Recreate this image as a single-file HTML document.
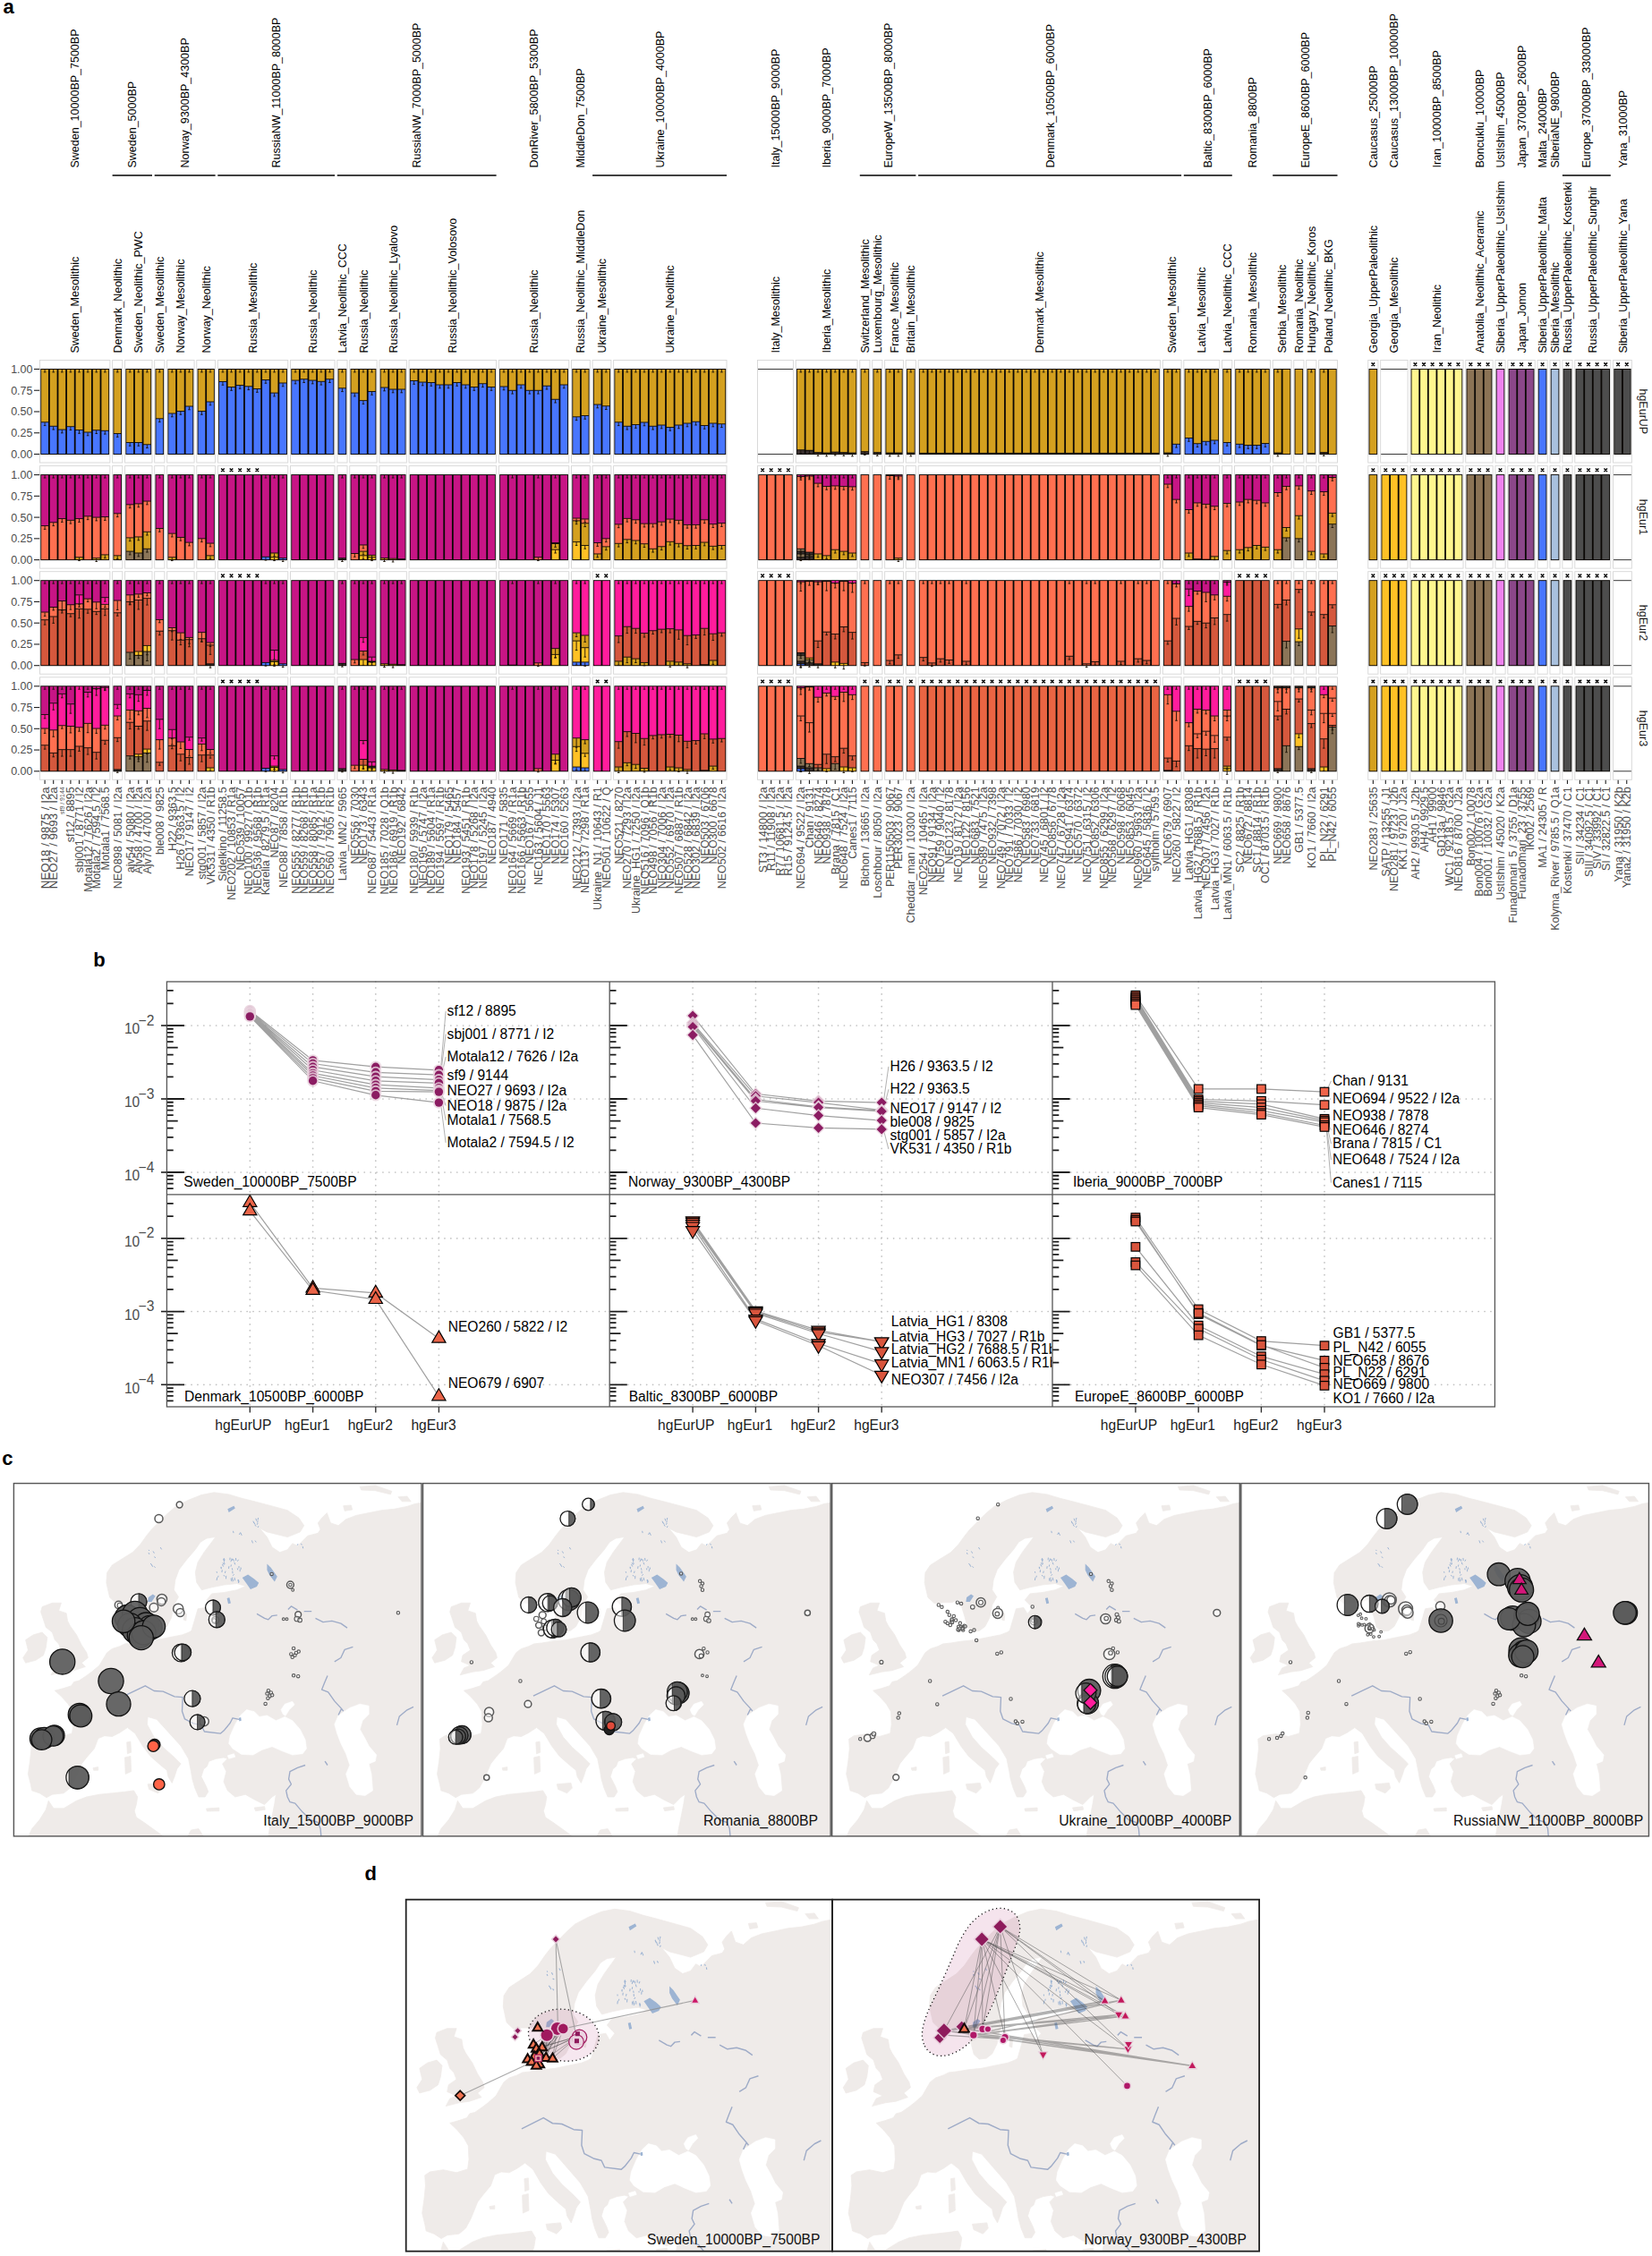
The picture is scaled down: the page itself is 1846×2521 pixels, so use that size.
<!DOCTYPE html>
<html><head><meta charset="utf-8"><title>Figure</title>
<style>html,body{margin:0;padding:0;background:#fff}svg{display:block}</style>
</head><body>
<svg width="1846" height="2521" viewBox="0 0 1846 2521">
<rect width="1846" height="2521" fill="#fff"/>
<g font-family="Liberation Sans, Arial, Helvetica, sans-serif" font-size="12.5" fill="#000">
<text transform="translate(83.7,187.5) rotate(-90)" dy="0.36em">Sweden_10000BP_7500BP</text>
<text transform="translate(147.8,187.5) rotate(-90)" dy="0.36em">Sweden_5000BP</text>
<line x1="125.6" y1="196" x2="170.0" y2="196" stroke="#000" stroke-width="1.6"/>
<text transform="translate(206.7,187.5) rotate(-90)" dy="0.36em">Norway_9300BP_4300BP</text>
<line x1="172.7" y1="196" x2="240.6" y2="196" stroke="#000" stroke-width="1.6"/>
<text transform="translate(308.7,187.5) rotate(-90)" dy="0.36em">RussiaNW_11000BP_8000BP</text>
<line x1="243.3" y1="196" x2="374.1" y2="196" stroke="#000" stroke-width="1.6"/>
<text transform="translate(465.7,187.5) rotate(-90)" dy="0.36em">RussiaNW_7000BP_5000BP</text>
<line x1="376.8" y1="196" x2="554.6" y2="196" stroke="#000" stroke-width="1.6"/>
<text transform="translate(596.6,187.5) rotate(-90)" dy="0.36em">DonRiver_5800BP_5300BP</text>
<text transform="translate(648.9,187.5) rotate(-90)" dy="0.36em">MiddleDon_7500BP</text>
<text transform="translate(737.0,187.5) rotate(-90)" dy="0.36em">Ukraine_10000BP_4000BP</text>
<line x1="662.1" y1="196" x2="812.0" y2="196" stroke="#000" stroke-width="1.6"/>
<text transform="translate(866.5,187.5) rotate(-90)" dy="0.36em">Italy_15000BP_9000BP</text>
<text transform="translate(923.6,187.5) rotate(-90)" dy="0.36em">Iberia_9000BP_7000BP</text>
<text transform="translate(992.1,187.5) rotate(-90)" dy="0.36em">EuropeW_13500BP_8000BP</text>
<line x1="960.8" y1="196" x2="1023.4" y2="196" stroke="#000" stroke-width="1.6"/>
<text transform="translate(1173.1,187.5) rotate(-90)" dy="0.36em">Denmark_10500BP_6000BP</text>
<line x1="1026.1" y1="196" x2="1320.1" y2="196" stroke="#000" stroke-width="1.6"/>
<text transform="translate(1349.8,187.5) rotate(-90)" dy="0.36em">Baltic_8300BP_6000BP</text>
<line x1="1322.8" y1="196" x2="1376.8" y2="196" stroke="#000" stroke-width="1.6"/>
<text transform="translate(1399.5,187.5) rotate(-90)" dy="0.36em">Romania_8800BP</text>
<text transform="translate(1458.4,187.5) rotate(-90)" dy="0.36em">EuropeE_8600BP_6000BP</text>
<line x1="1422.2" y1="196" x2="1494.5" y2="196" stroke="#000" stroke-width="1.6"/>
<text transform="translate(1534.3,187.5) rotate(-90)" dy="0.36em">Caucasus_25000BP</text>
<text transform="translate(1557.9,187.5) rotate(-90)" dy="0.36em">Caucasus_13000BP_10000BP</text>
<text transform="translate(1605.4,187.5) rotate(-90)" dy="0.36em">Iran_10000BP_8500BP</text>
<text transform="translate(1653.0,187.5) rotate(-90)" dy="0.36em">Boncuklu_10000BP</text>
<text transform="translate(1676.5,187.5) rotate(-90)" dy="0.36em">UstIshim_45000BP</text>
<text transform="translate(1700.1,187.5) rotate(-90)" dy="0.36em">Japan_3700BP_2600BP</text>
<text transform="translate(1723.6,187.5) rotate(-90)" dy="0.36em">Malta_24000BP</text>
<text transform="translate(1737.5,187.5) rotate(-90)" dy="0.36em">SiberiaNE_9800BP</text>
<text transform="translate(1772.8,187.5) rotate(-90)" dy="0.36em">Europe_37000BP_33000BP</text>
<line x1="1745.9" y1="196" x2="1799.8" y2="196" stroke="#000" stroke-width="1.6"/>
<text transform="translate(1813.0,187.5) rotate(-90)" dy="0.36em">Yana_31000BP</text>
<text transform="translate(83.7,394.5) rotate(-90)" dy="0.36em">Sweden_Mesolithic</text>
<text transform="translate(131.2,394.5) rotate(-90)" dy="0.36em">Denmark_Neolithic</text>
<text transform="translate(154.8,394.5) rotate(-90)" dy="0.36em">Sweden_Neolithic_PWC</text>
<text transform="translate(178.3,394.5) rotate(-90)" dy="0.36em">Sweden_Mesolithic</text>
<text transform="translate(201.9,394.5) rotate(-90)" dy="0.36em">Norway_Mesolithic</text>
<text transform="translate(230.2,394.5) rotate(-90)" dy="0.36em">Norway_Neolithic</text>
<text transform="translate(282.5,394.5) rotate(-90)" dy="0.36em">Russia_Mesolithic</text>
<text transform="translate(349.3,394.5) rotate(-90)" dy="0.36em">Russia_Neolithic</text>
<text transform="translate(382.4,394.5) rotate(-90)" dy="0.36em">Latvia_Neolithic_CCC</text>
<text transform="translate(406.0,394.5) rotate(-90)" dy="0.36em">Russia_Neolithic</text>
<text transform="translate(439.1,394.5) rotate(-90)" dy="0.36em">Russia_Neolithic_Lyalovo</text>
<text transform="translate(505.8,394.5) rotate(-90)" dy="0.36em">Russia_Neolithic_Volosovo</text>
<text transform="translate(596.6,394.5) rotate(-90)" dy="0.36em">Russia_Neolithic</text>
<text transform="translate(648.9,394.5) rotate(-90)" dy="0.36em">Russia_Neolithic_MiddleDon</text>
<text transform="translate(672.5,394.5) rotate(-90)" dy="0.36em">Ukraine_Mesolithic</text>
<text transform="translate(748.8,394.5) rotate(-90)" dy="0.36em">Ukraine_Neolithic</text>
<text transform="translate(866.5,394.5) rotate(-90)" dy="0.36em">Italy_Mesolithic</text>
<text transform="translate(923.6,394.5) rotate(-90)" dy="0.36em">Iberia_Mesolithic</text>
<text transform="translate(966.4,394.5) rotate(-90)" dy="0.36em">Switzerland_Mesolithic</text>
<text transform="translate(980.3,394.5) rotate(-90)" dy="0.36em">Luxembourg_Mesolithic</text>
<text transform="translate(999.1,394.5) rotate(-90)" dy="0.36em">France_Mesolithic</text>
<text transform="translate(1017.8,394.5) rotate(-90)" dy="0.36em">Britain_Mesolithic</text>
<text transform="translate(1161.3,394.5) rotate(-90)" dy="0.36em">Denmark_Mesolithic</text>
<text transform="translate(1309.7,394.5) rotate(-90)" dy="0.36em">Sweden_Mesolithic</text>
<text transform="translate(1342.8,394.5) rotate(-90)" dy="0.36em">Latvia_Mesolithic</text>
<text transform="translate(1371.2,394.5) rotate(-90)" dy="0.36em">Latvia_Neolithic_CCC</text>
<text transform="translate(1399.5,394.5) rotate(-90)" dy="0.36em">Romania_Mesolithic</text>
<text transform="translate(1432.6,394.5) rotate(-90)" dy="0.36em">Serbia_Mesolithic</text>
<text transform="translate(1451.4,394.5) rotate(-90)" dy="0.36em">Romania_Neolithic</text>
<text transform="translate(1465.3,394.5) rotate(-90)" dy="0.36em">Hungary_Neolithic_Koros</text>
<text transform="translate(1484.1,394.5) rotate(-90)" dy="0.36em">Poland_Neolithic_BKG</text>
<text transform="translate(1534.3,394.5) rotate(-90)" dy="0.36em">Georgia_UpperPaleolithic</text>
<text transform="translate(1557.9,394.5) rotate(-90)" dy="0.36em">Georgia_Mesolithic</text>
<text transform="translate(1605.4,394.5) rotate(-90)" dy="0.36em">Iran_Neolithic</text>
<text transform="translate(1653.0,394.5) rotate(-90)" dy="0.36em">Anatolia_Neolithic_Aceramic</text>
<text transform="translate(1676.5,394.5) rotate(-90)" dy="0.36em">Siberia_UpperPaleolithic_UstIshim</text>
<text transform="translate(1700.1,394.5) rotate(-90)" dy="0.36em">Japan_Jomon</text>
<text transform="translate(1723.6,394.5) rotate(-90)" dy="0.36em">Siberia_UpperPaleolithic_Malta</text>
<text transform="translate(1737.5,394.5) rotate(-90)" dy="0.36em">Siberia_Mesolithic</text>
<text transform="translate(1751.5,394.5) rotate(-90)" dy="0.36em">Russia_UpperPaleolithic_Kostenki</text>
<text transform="translate(1779.8,394.5) rotate(-90)" dy="0.36em">Russia_UpperPaleolithic_Sunghir</text>
<text transform="translate(1813.0,394.5) rotate(-90)" dy="0.36em">Siberia_UpperPaleolithic_Yana</text>
</g>
<g>
<rect x="44.50" y="402.50" width="78.40" height="114.50" fill="#fff" stroke="#d6d6d6" stroke-width="0.9"/>
<rect x="125.64" y="402.50" width="11.20" height="114.50" fill="#fff" stroke="#d6d6d6" stroke-width="0.9"/>
<rect x="139.58" y="402.50" width="30.40" height="114.50" fill="#fff" stroke="#d6d6d6" stroke-width="0.9"/>
<rect x="172.72" y="402.50" width="11.20" height="114.50" fill="#fff" stroke="#d6d6d6" stroke-width="0.9"/>
<rect x="186.66" y="402.50" width="30.40" height="114.50" fill="#fff" stroke="#d6d6d6" stroke-width="0.9"/>
<rect x="219.80" y="402.50" width="20.80" height="114.50" fill="#fff" stroke="#d6d6d6" stroke-width="0.9"/>
<rect x="243.34" y="402.50" width="78.40" height="114.50" fill="#fff" stroke="#d6d6d6" stroke-width="0.9"/>
<rect x="324.48" y="402.50" width="49.60" height="114.50" fill="#fff" stroke="#d6d6d6" stroke-width="0.9"/>
<rect x="376.82" y="402.50" width="11.20" height="114.50" fill="#fff" stroke="#d6d6d6" stroke-width="0.9"/>
<rect x="390.76" y="402.50" width="30.40" height="114.50" fill="#fff" stroke="#d6d6d6" stroke-width="0.9"/>
<rect x="423.90" y="402.50" width="30.40" height="114.50" fill="#fff" stroke="#d6d6d6" stroke-width="0.9"/>
<rect x="457.04" y="402.50" width="97.60" height="114.50" fill="#fff" stroke="#d6d6d6" stroke-width="0.9"/>
<rect x="557.38" y="402.50" width="78.40" height="114.50" fill="#fff" stroke="#d6d6d6" stroke-width="0.9"/>
<rect x="638.52" y="402.50" width="20.80" height="114.50" fill="#fff" stroke="#d6d6d6" stroke-width="0.9"/>
<rect x="662.06" y="402.50" width="20.80" height="114.50" fill="#fff" stroke="#d6d6d6" stroke-width="0.9"/>
<rect x="685.60" y="402.50" width="126.40" height="114.50" fill="#fff" stroke="#d6d6d6" stroke-width="0.9"/>
<rect x="846.50" y="402.50" width="40.00" height="114.50" fill="#fff" stroke="#d6d6d6" stroke-width="0.9"/>
<rect x="889.24" y="402.50" width="68.80" height="114.50" fill="#fff" stroke="#d6d6d6" stroke-width="0.9"/>
<rect x="960.78" y="402.50" width="11.20" height="114.50" fill="#fff" stroke="#d6d6d6" stroke-width="0.9"/>
<rect x="974.72" y="402.50" width="11.20" height="114.50" fill="#fff" stroke="#d6d6d6" stroke-width="0.9"/>
<rect x="988.66" y="402.50" width="20.80" height="114.50" fill="#fff" stroke="#d6d6d6" stroke-width="0.9"/>
<rect x="1012.20" y="402.50" width="11.20" height="114.50" fill="#fff" stroke="#d6d6d6" stroke-width="0.9"/>
<rect x="1026.14" y="402.50" width="270.40" height="114.50" fill="#fff" stroke="#d6d6d6" stroke-width="0.9"/>
<rect x="1299.28" y="402.50" width="20.80" height="114.50" fill="#fff" stroke="#d6d6d6" stroke-width="0.9"/>
<rect x="1322.82" y="402.50" width="40.00" height="114.50" fill="#fff" stroke="#d6d6d6" stroke-width="0.9"/>
<rect x="1365.56" y="402.50" width="11.20" height="114.50" fill="#fff" stroke="#d6d6d6" stroke-width="0.9"/>
<rect x="1379.50" y="402.50" width="40.00" height="114.50" fill="#fff" stroke="#d6d6d6" stroke-width="0.9"/>
<rect x="1422.24" y="402.50" width="20.80" height="114.50" fill="#fff" stroke="#d6d6d6" stroke-width="0.9"/>
<rect x="1445.78" y="402.50" width="11.20" height="114.50" fill="#fff" stroke="#d6d6d6" stroke-width="0.9"/>
<rect x="1459.72" y="402.50" width="11.20" height="114.50" fill="#fff" stroke="#d6d6d6" stroke-width="0.9"/>
<rect x="1473.66" y="402.50" width="20.80" height="114.50" fill="#fff" stroke="#d6d6d6" stroke-width="0.9"/>
<rect x="1528.75" y="402.50" width="11.20" height="114.50" fill="#fff" stroke="#d6d6d6" stroke-width="0.9"/>
<rect x="1542.69" y="402.50" width="30.40" height="114.50" fill="#fff" stroke="#d6d6d6" stroke-width="0.9"/>
<rect x="1575.83" y="402.50" width="59.20" height="114.50" fill="#fff" stroke="#d6d6d6" stroke-width="0.9"/>
<rect x="1637.77" y="402.50" width="30.40" height="114.50" fill="#fff" stroke="#d6d6d6" stroke-width="0.9"/>
<rect x="1670.91" y="402.50" width="11.20" height="114.50" fill="#fff" stroke="#d6d6d6" stroke-width="0.9"/>
<rect x="1684.85" y="402.50" width="30.40" height="114.50" fill="#fff" stroke="#d6d6d6" stroke-width="0.9"/>
<rect x="1717.99" y="402.50" width="11.20" height="114.50" fill="#fff" stroke="#d6d6d6" stroke-width="0.9"/>
<rect x="1731.93" y="402.50" width="11.20" height="114.50" fill="#fff" stroke="#d6d6d6" stroke-width="0.9"/>
<rect x="1745.87" y="402.50" width="11.20" height="114.50" fill="#fff" stroke="#d6d6d6" stroke-width="0.9"/>
<rect x="1759.81" y="402.50" width="40.00" height="114.50" fill="#fff" stroke="#d6d6d6" stroke-width="0.9"/>
<rect x="1802.55" y="402.50" width="20.80" height="114.50" fill="#fff" stroke="#d6d6d6" stroke-width="0.9"/>
</g>
<g shape-rendering="auto">
<rect x="45.30" y="412.00" width="76.80" height="96.00" fill="#0b0805"/>
<rect x="46.20" y="472.23" width="7.80" height="34.82" fill="#4876FF"/>
<rect x="46.20" y="412.95" width="7.80" height="58.38" fill="#D4A01F"/>
<rect x="55.80" y="476.69" width="7.80" height="30.35" fill="#4876FF"/>
<rect x="55.80" y="412.95" width="7.80" height="62.85" fill="#D4A01F"/>
<rect x="65.40" y="480.50" width="7.80" height="26.55" fill="#4876FF"/>
<rect x="65.40" y="412.95" width="7.80" height="66.65" fill="#D4A01F"/>
<rect x="75.00" y="477.17" width="7.80" height="29.88" fill="#4876FF"/>
<rect x="75.00" y="412.95" width="7.80" height="63.32" fill="#D4A01F"/>
<rect x="84.60" y="480.97" width="7.80" height="26.08" fill="#4876FF"/>
<rect x="84.60" y="412.95" width="7.80" height="67.12" fill="#D4A01F"/>
<rect x="94.20" y="483.44" width="7.80" height="23.61" fill="#4876FF"/>
<rect x="94.20" y="412.95" width="7.80" height="69.59" fill="#D4A01F"/>
<rect x="103.80" y="481.16" width="7.80" height="25.89" fill="#4876FF"/>
<rect x="103.80" y="412.95" width="7.80" height="67.31" fill="#D4A01F"/>
<rect x="113.40" y="481.73" width="7.80" height="25.32" fill="#4876FF"/>
<rect x="113.40" y="412.95" width="7.80" height="67.88" fill="#D4A01F"/>
<rect x="126.44" y="412.00" width="9.60" height="96.00" fill="#0b0805"/>
<rect x="127.34" y="484.96" width="7.80" height="22.09" fill="#4876FF"/>
<rect x="127.34" y="412.95" width="7.80" height="71.11" fill="#D4A01F"/>
<rect x="140.38" y="412.00" width="28.80" height="96.00" fill="#0b0805"/>
<rect x="141.28" y="494.94" width="7.80" height="12.11" fill="#4876FF"/>
<rect x="141.28" y="412.95" width="7.80" height="81.09" fill="#D4A01F"/>
<rect x="150.88" y="494.94" width="7.80" height="12.11" fill="#4876FF"/>
<rect x="150.88" y="412.95" width="7.80" height="81.09" fill="#D4A01F"/>
<rect x="160.48" y="497.21" width="7.80" height="9.84" fill="#4876FF"/>
<rect x="160.48" y="412.95" width="7.80" height="83.36" fill="#D4A01F"/>
<rect x="173.52" y="412.00" width="9.60" height="96.00" fill="#0b0805"/>
<rect x="174.42" y="468.24" width="7.80" height="38.81" fill="#4876FF"/>
<rect x="174.42" y="412.95" width="7.80" height="54.39" fill="#D4A01F"/>
<rect x="187.46" y="412.00" width="28.80" height="96.00" fill="#0b0805"/>
<rect x="188.36" y="462.44" width="7.80" height="44.60" fill="#4876FF"/>
<rect x="188.36" y="412.95" width="7.80" height="48.60" fill="#D4A01F"/>
<rect x="197.96" y="459.97" width="7.80" height="47.08" fill="#4876FF"/>
<rect x="197.96" y="412.95" width="7.80" height="46.12" fill="#D4A01F"/>
<rect x="207.56" y="454.46" width="7.80" height="52.59" fill="#4876FF"/>
<rect x="207.56" y="412.95" width="7.80" height="40.61" fill="#D4A01F"/>
<rect x="220.60" y="412.00" width="19.20" height="96.00" fill="#0b0805"/>
<rect x="221.50" y="459.97" width="7.80" height="47.08" fill="#4876FF"/>
<rect x="221.50" y="412.95" width="7.80" height="46.12" fill="#D4A01F"/>
<rect x="231.10" y="449.43" width="7.80" height="57.62" fill="#4876FF"/>
<rect x="231.10" y="412.95" width="7.80" height="35.58" fill="#D4A01F"/>
<rect x="244.14" y="412.00" width="76.80" height="96.00" fill="#0b0805"/>
<rect x="245.04" y="426.91" width="7.80" height="80.14" fill="#4876FF"/>
<rect x="245.04" y="412.95" width="7.80" height="13.06" fill="#D4A01F"/>
<rect x="254.64" y="433.00" width="7.80" height="74.05" fill="#4876FF"/>
<rect x="254.64" y="412.95" width="7.80" height="19.15" fill="#D4A01F"/>
<rect x="264.24" y="431.00" width="7.80" height="76.05" fill="#4876FF"/>
<rect x="264.24" y="412.95" width="7.80" height="17.15" fill="#D4A01F"/>
<rect x="273.84" y="432.23" width="7.80" height="74.82" fill="#4876FF"/>
<rect x="273.84" y="412.95" width="7.80" height="18.38" fill="#D4A01F"/>
<rect x="283.44" y="434.99" width="7.80" height="72.06" fill="#4876FF"/>
<rect x="283.44" y="412.95" width="7.80" height="21.14" fill="#D4A01F"/>
<rect x="293.04" y="424.92" width="7.80" height="82.13" fill="#4876FF"/>
<rect x="293.04" y="412.95" width="7.80" height="11.07" fill="#D4A01F"/>
<rect x="302.64" y="439.55" width="7.80" height="67.50" fill="#4876FF"/>
<rect x="302.64" y="412.95" width="7.80" height="25.70" fill="#D4A01F"/>
<rect x="312.24" y="428.44" width="7.80" height="78.61" fill="#4876FF"/>
<rect x="312.24" y="412.95" width="7.80" height="14.59" fill="#D4A01F"/>
<rect x="325.28" y="412.00" width="48.00" height="96.00" fill="#0b0805"/>
<rect x="326.18" y="425.49" width="7.80" height="81.56" fill="#4876FF"/>
<rect x="326.18" y="412.95" width="7.80" height="11.64" fill="#D4A01F"/>
<rect x="335.78" y="424.16" width="7.80" height="82.89" fill="#4876FF"/>
<rect x="335.78" y="412.95" width="7.80" height="10.31" fill="#D4A01F"/>
<rect x="345.38" y="425.49" width="7.80" height="81.56" fill="#4876FF"/>
<rect x="345.38" y="412.95" width="7.80" height="11.64" fill="#D4A01F"/>
<rect x="354.98" y="426.72" width="7.80" height="80.33" fill="#4876FF"/>
<rect x="354.98" y="412.95" width="7.80" height="12.87" fill="#D4A01F"/>
<rect x="364.58" y="424.16" width="7.80" height="82.89" fill="#4876FF"/>
<rect x="364.58" y="412.95" width="7.80" height="10.31" fill="#D4A01F"/>
<rect x="377.62" y="412.00" width="9.60" height="96.00" fill="#0b0805"/>
<rect x="378.52" y="434.23" width="7.80" height="72.82" fill="#4876FF"/>
<rect x="378.52" y="412.95" width="7.80" height="20.38" fill="#D4A01F"/>
<rect x="391.56" y="412.00" width="28.80" height="96.00" fill="#0b0805"/>
<rect x="392.46" y="439.55" width="7.80" height="67.50" fill="#4876FF"/>
<rect x="392.46" y="412.95" width="7.80" height="25.70" fill="#D4A01F"/>
<rect x="402.06" y="448.10" width="7.80" height="58.95" fill="#4876FF"/>
<rect x="402.06" y="412.95" width="7.80" height="34.25" fill="#D4A01F"/>
<rect x="411.66" y="437.94" width="7.80" height="69.11" fill="#4876FF"/>
<rect x="411.66" y="412.95" width="7.80" height="24.09" fill="#D4A01F"/>
<rect x="424.70" y="412.00" width="28.80" height="96.00" fill="#0b0805"/>
<rect x="425.60" y="433.47" width="7.80" height="73.58" fill="#4876FF"/>
<rect x="425.60" y="412.95" width="7.80" height="19.62" fill="#D4A01F"/>
<rect x="435.20" y="435.46" width="7.80" height="71.59" fill="#4876FF"/>
<rect x="435.20" y="412.95" width="7.80" height="21.61" fill="#D4A01F"/>
<rect x="444.80" y="435.46" width="7.80" height="71.59" fill="#4876FF"/>
<rect x="444.80" y="412.95" width="7.80" height="21.61" fill="#D4A01F"/>
<rect x="457.84" y="412.00" width="96.00" height="96.00" fill="#0b0805"/>
<rect x="458.74" y="425.96" width="7.80" height="81.09" fill="#4876FF"/>
<rect x="458.74" y="412.95" width="7.80" height="12.11" fill="#D4A01F"/>
<rect x="468.34" y="427.49" width="7.80" height="79.56" fill="#4876FF"/>
<rect x="468.34" y="412.95" width="7.80" height="13.64" fill="#D4A01F"/>
<rect x="477.94" y="427.96" width="7.80" height="79.09" fill="#4876FF"/>
<rect x="477.94" y="412.95" width="7.80" height="14.11" fill="#D4A01F"/>
<rect x="487.54" y="430.43" width="7.80" height="76.62" fill="#4876FF"/>
<rect x="487.54" y="412.95" width="7.80" height="16.58" fill="#D4A01F"/>
<rect x="497.14" y="430.43" width="7.80" height="76.62" fill="#4876FF"/>
<rect x="497.14" y="412.95" width="7.80" height="16.58" fill="#D4A01F"/>
<rect x="506.74" y="427.96" width="7.80" height="79.09" fill="#4876FF"/>
<rect x="506.74" y="412.95" width="7.80" height="14.11" fill="#D4A01F"/>
<rect x="516.34" y="430.43" width="7.80" height="76.62" fill="#4876FF"/>
<rect x="516.34" y="412.95" width="7.80" height="16.58" fill="#D4A01F"/>
<rect x="525.94" y="433.00" width="7.80" height="74.05" fill="#4876FF"/>
<rect x="525.94" y="412.95" width="7.80" height="19.15" fill="#D4A01F"/>
<rect x="535.54" y="429.19" width="7.80" height="77.85" fill="#4876FF"/>
<rect x="535.54" y="412.95" width="7.80" height="15.35" fill="#D4A01F"/>
<rect x="545.14" y="433.00" width="7.80" height="74.05" fill="#4876FF"/>
<rect x="545.14" y="412.95" width="7.80" height="19.15" fill="#D4A01F"/>
<rect x="558.18" y="412.00" width="76.80" height="96.00" fill="#0b0805"/>
<rect x="559.08" y="432.43" width="7.80" height="74.62" fill="#4876FF"/>
<rect x="559.08" y="412.95" width="7.80" height="18.58" fill="#D4A01F"/>
<rect x="568.68" y="436.70" width="7.80" height="70.35" fill="#4876FF"/>
<rect x="568.68" y="412.95" width="7.80" height="22.85" fill="#D4A01F"/>
<rect x="578.28" y="430.43" width="7.80" height="76.62" fill="#4876FF"/>
<rect x="578.28" y="412.95" width="7.80" height="16.58" fill="#D4A01F"/>
<rect x="587.88" y="436.70" width="7.80" height="70.35" fill="#4876FF"/>
<rect x="587.88" y="412.95" width="7.80" height="22.85" fill="#D4A01F"/>
<rect x="597.48" y="436.70" width="7.80" height="70.35" fill="#4876FF"/>
<rect x="597.48" y="412.95" width="7.80" height="22.85" fill="#D4A01F"/>
<rect x="607.08" y="431.66" width="7.80" height="75.39" fill="#4876FF"/>
<rect x="607.08" y="412.95" width="7.80" height="17.81" fill="#D4A01F"/>
<rect x="616.68" y="446.68" width="7.80" height="60.37" fill="#4876FF"/>
<rect x="616.68" y="412.95" width="7.80" height="32.83" fill="#D4A01F"/>
<rect x="626.28" y="430.43" width="7.80" height="76.62" fill="#4876FF"/>
<rect x="626.28" y="412.95" width="7.80" height="16.58" fill="#D4A01F"/>
<rect x="639.32" y="412.00" width="19.20" height="96.00" fill="#0b0805"/>
<rect x="640.22" y="466.25" width="7.80" height="40.80" fill="#4876FF"/>
<rect x="640.22" y="412.95" width="7.80" height="52.40" fill="#D4A01F"/>
<rect x="649.82" y="464.91" width="7.80" height="42.14" fill="#4876FF"/>
<rect x="649.82" y="412.95" width="7.80" height="51.06" fill="#D4A01F"/>
<rect x="662.86" y="412.00" width="19.20" height="96.00" fill="#0b0805"/>
<rect x="663.76" y="452.47" width="7.80" height="54.58" fill="#4876FF"/>
<rect x="663.76" y="412.95" width="7.80" height="38.62" fill="#D4A01F"/>
<rect x="673.36" y="454.18" width="7.80" height="52.87" fill="#4876FF"/>
<rect x="673.36" y="412.95" width="7.80" height="40.33" fill="#D4A01F"/>
<rect x="686.40" y="412.00" width="124.80" height="96.00" fill="#0b0805"/>
<rect x="687.30" y="472.23" width="7.80" height="34.82" fill="#4876FF"/>
<rect x="687.30" y="412.95" width="7.80" height="58.38" fill="#D4A01F"/>
<rect x="696.90" y="476.69" width="7.80" height="30.35" fill="#4876FF"/>
<rect x="696.90" y="412.95" width="7.80" height="62.85" fill="#D4A01F"/>
<rect x="706.50" y="474.99" width="7.80" height="32.06" fill="#4876FF"/>
<rect x="706.50" y="412.95" width="7.80" height="61.14" fill="#D4A01F"/>
<rect x="716.10" y="472.42" width="7.80" height="34.63" fill="#4876FF"/>
<rect x="716.10" y="412.95" width="7.80" height="58.57" fill="#D4A01F"/>
<rect x="725.70" y="476.69" width="7.80" height="30.35" fill="#4876FF"/>
<rect x="725.70" y="412.95" width="7.80" height="62.85" fill="#D4A01F"/>
<rect x="735.30" y="475.46" width="7.80" height="31.59" fill="#4876FF"/>
<rect x="735.30" y="412.95" width="7.80" height="61.61" fill="#D4A01F"/>
<rect x="744.90" y="477.93" width="7.80" height="29.12" fill="#4876FF"/>
<rect x="744.90" y="412.95" width="7.80" height="64.08" fill="#D4A01F"/>
<rect x="754.50" y="475.46" width="7.80" height="31.59" fill="#4876FF"/>
<rect x="754.50" y="412.95" width="7.80" height="61.61" fill="#D4A01F"/>
<rect x="764.10" y="473.46" width="7.80" height="33.59" fill="#4876FF"/>
<rect x="764.10" y="412.95" width="7.80" height="59.61" fill="#D4A01F"/>
<rect x="773.70" y="471.66" width="7.80" height="35.39" fill="#4876FF"/>
<rect x="773.70" y="412.95" width="7.80" height="57.81" fill="#D4A01F"/>
<rect x="783.30" y="475.94" width="7.80" height="31.11" fill="#4876FF"/>
<rect x="783.30" y="412.95" width="7.80" height="62.09" fill="#D4A01F"/>
<rect x="792.90" y="473.46" width="7.80" height="33.59" fill="#4876FF"/>
<rect x="792.90" y="412.95" width="7.80" height="59.61" fill="#D4A01F"/>
<rect x="802.50" y="474.22" width="7.80" height="32.83" fill="#4876FF"/>
<rect x="802.50" y="412.95" width="7.80" height="60.37" fill="#D4A01F"/>
<path d="M847.00 412.50H886.00M847.00 507.50H886.00" stroke="#222" stroke-width="0.9" fill="none"/>
<rect x="890.04" y="412.00" width="67.20" height="96.00" fill="#0b0805"/>
<rect x="890.94" y="503.20" width="7.80" height="3.85" fill="#3A3030"/>
<rect x="890.94" y="412.95" width="7.80" height="89.35" fill="#D4A01F"/>
<rect x="900.54" y="503.68" width="7.80" height="3.37" fill="#3A3030"/>
<rect x="900.54" y="412.95" width="7.80" height="89.83" fill="#D4A01F"/>
<rect x="910.14" y="506.05" width="7.80" height="1.00" fill="#3A3030"/>
<rect x="910.14" y="412.95" width="7.80" height="92.20" fill="#D4A01F"/>
<rect x="919.74" y="506.52" width="7.80" height="0.53" fill="#3A3030"/>
<rect x="919.74" y="412.95" width="7.80" height="92.67" fill="#D4A01F"/>
<rect x="929.34" y="505.57" width="7.80" height="1.48" fill="#3A3030"/>
<rect x="929.34" y="412.95" width="7.80" height="91.72" fill="#D4A01F"/>
<rect x="938.94" y="506.05" width="7.80" height="1.00" fill="#3A3030"/>
<rect x="938.94" y="412.95" width="7.80" height="92.20" fill="#D4A01F"/>
<rect x="948.54" y="506.52" width="7.80" height="0.53" fill="#3A3030"/>
<rect x="948.54" y="412.95" width="7.80" height="92.67" fill="#D4A01F"/>
<rect x="961.58" y="412.00" width="9.60" height="96.00" fill="#0b0805"/>
<rect x="962.48" y="505.10" width="7.80" height="1.95" fill="#3A3030"/>
<rect x="962.48" y="412.95" width="7.80" height="91.25" fill="#D4A01F"/>
<rect x="975.52" y="412.00" width="9.60" height="96.00" fill="#0b0805"/>
<rect x="976.42" y="506.05" width="7.80" height="1.00" fill="#3A3030"/>
<rect x="976.42" y="412.95" width="7.80" height="92.20" fill="#D4A01F"/>
<rect x="989.46" y="412.00" width="19.20" height="96.00" fill="#0b0805"/>
<rect x="990.36" y="506.52" width="7.80" height="0.53" fill="#3A3030"/>
<rect x="990.36" y="412.95" width="7.80" height="92.67" fill="#D4A01F"/>
<rect x="999.96" y="506.52" width="7.80" height="0.53" fill="#3A3030"/>
<rect x="999.96" y="412.95" width="7.80" height="92.67" fill="#D4A01F"/>
<rect x="1013.00" y="412.00" width="9.60" height="96.00" fill="#0b0805"/>
<rect x="1013.90" y="506.52" width="7.80" height="0.53" fill="#3A3030"/>
<rect x="1013.90" y="412.95" width="7.80" height="92.67" fill="#D4A01F"/>
<rect x="1026.94" y="412.00" width="268.80" height="96.00" fill="#0b0805"/>
<rect x="1027.84" y="506.81" width="7.80" height="0.24" fill="#3A3030"/>
<rect x="1027.84" y="412.95" width="7.80" height="92.96" fill="#D4A01F"/>
<rect x="1037.44" y="506.81" width="7.80" height="0.24" fill="#3A3030"/>
<rect x="1037.44" y="412.95" width="7.80" height="92.96" fill="#D4A01F"/>
<rect x="1047.04" y="506.81" width="7.80" height="0.24" fill="#3A3030"/>
<rect x="1047.04" y="412.95" width="7.80" height="92.96" fill="#D4A01F"/>
<rect x="1056.64" y="506.81" width="7.80" height="0.24" fill="#3A3030"/>
<rect x="1056.64" y="412.95" width="7.80" height="92.96" fill="#D4A01F"/>
<rect x="1066.24" y="506.81" width="7.80" height="0.24" fill="#3A3030"/>
<rect x="1066.24" y="412.95" width="7.80" height="92.96" fill="#D4A01F"/>
<rect x="1075.84" y="506.81" width="7.80" height="0.24" fill="#3A3030"/>
<rect x="1075.84" y="412.95" width="7.80" height="92.96" fill="#D4A01F"/>
<rect x="1085.44" y="506.81" width="7.80" height="0.24" fill="#3A3030"/>
<rect x="1085.44" y="412.95" width="7.80" height="92.96" fill="#D4A01F"/>
<rect x="1095.04" y="506.81" width="7.80" height="0.24" fill="#3A3030"/>
<rect x="1095.04" y="412.95" width="7.80" height="92.96" fill="#D4A01F"/>
<rect x="1104.64" y="506.81" width="7.80" height="0.24" fill="#3A3030"/>
<rect x="1104.64" y="412.95" width="7.80" height="92.96" fill="#D4A01F"/>
<rect x="1114.24" y="506.81" width="7.80" height="0.24" fill="#3A3030"/>
<rect x="1114.24" y="412.95" width="7.80" height="92.96" fill="#D4A01F"/>
<rect x="1123.84" y="506.81" width="7.80" height="0.24" fill="#3A3030"/>
<rect x="1123.84" y="412.95" width="7.80" height="92.96" fill="#D4A01F"/>
<rect x="1133.44" y="506.81" width="7.80" height="0.24" fill="#3A3030"/>
<rect x="1133.44" y="412.95" width="7.80" height="92.96" fill="#D4A01F"/>
<rect x="1143.04" y="506.81" width="7.80" height="0.24" fill="#3A3030"/>
<rect x="1143.04" y="412.95" width="7.80" height="92.96" fill="#D4A01F"/>
<rect x="1152.64" y="506.81" width="7.80" height="0.24" fill="#3A3030"/>
<rect x="1152.64" y="412.95" width="7.80" height="92.96" fill="#D4A01F"/>
<rect x="1162.24" y="506.81" width="7.80" height="0.24" fill="#3A3030"/>
<rect x="1162.24" y="412.95" width="7.80" height="92.96" fill="#D4A01F"/>
<rect x="1171.84" y="506.81" width="7.80" height="0.24" fill="#3A3030"/>
<rect x="1171.84" y="412.95" width="7.80" height="92.96" fill="#D4A01F"/>
<rect x="1181.44" y="506.81" width="7.80" height="0.24" fill="#3A3030"/>
<rect x="1181.44" y="412.95" width="7.80" height="92.96" fill="#D4A01F"/>
<rect x="1191.04" y="506.81" width="7.80" height="0.24" fill="#3A3030"/>
<rect x="1191.04" y="412.95" width="7.80" height="92.96" fill="#D4A01F"/>
<rect x="1200.64" y="506.81" width="7.80" height="0.24" fill="#3A3030"/>
<rect x="1200.64" y="412.95" width="7.80" height="92.96" fill="#D4A01F"/>
<rect x="1210.24" y="506.81" width="7.80" height="0.24" fill="#3A3030"/>
<rect x="1210.24" y="412.95" width="7.80" height="92.96" fill="#D4A01F"/>
<rect x="1219.84" y="506.81" width="7.80" height="0.24" fill="#3A3030"/>
<rect x="1219.84" y="412.95" width="7.80" height="92.96" fill="#D4A01F"/>
<rect x="1229.44" y="506.81" width="7.80" height="0.24" fill="#3A3030"/>
<rect x="1229.44" y="412.95" width="7.80" height="92.96" fill="#D4A01F"/>
<rect x="1239.04" y="506.81" width="7.80" height="0.24" fill="#3A3030"/>
<rect x="1239.04" y="412.95" width="7.80" height="92.96" fill="#D4A01F"/>
<rect x="1248.64" y="506.81" width="7.80" height="0.24" fill="#3A3030"/>
<rect x="1248.64" y="412.95" width="7.80" height="92.96" fill="#D4A01F"/>
<rect x="1258.24" y="506.81" width="7.80" height="0.24" fill="#3A3030"/>
<rect x="1258.24" y="412.95" width="7.80" height="92.96" fill="#D4A01F"/>
<rect x="1267.84" y="506.81" width="7.80" height="0.24" fill="#3A3030"/>
<rect x="1267.84" y="412.95" width="7.80" height="92.96" fill="#D4A01F"/>
<rect x="1277.44" y="506.81" width="7.80" height="0.24" fill="#3A3030"/>
<rect x="1277.44" y="412.95" width="7.80" height="92.96" fill="#D4A01F"/>
<rect x="1287.04" y="506.81" width="7.80" height="0.24" fill="#3A3030"/>
<rect x="1287.04" y="412.95" width="7.80" height="92.96" fill="#D4A01F"/>
<rect x="1300.08" y="412.00" width="19.20" height="96.00" fill="#0b0805"/>
<rect x="1300.98" y="506.52" width="7.80" height="0.53" fill="#3A3030"/>
<rect x="1300.98" y="412.95" width="7.80" height="92.67" fill="#D4A01F"/>
<rect x="1310.58" y="496.74" width="7.80" height="10.31" fill="#4876FF"/>
<rect x="1310.58" y="412.95" width="7.80" height="82.89" fill="#D4A01F"/>
<rect x="1323.62" y="412.00" width="38.40" height="96.00" fill="#0b0805"/>
<rect x="1324.52" y="489.90" width="7.80" height="17.15" fill="#4876FF"/>
<rect x="1324.52" y="412.95" width="7.80" height="76.05" fill="#D4A01F"/>
<rect x="1334.12" y="496.17" width="7.80" height="10.88" fill="#4876FF"/>
<rect x="1334.12" y="412.95" width="7.80" height="82.32" fill="#D4A01F"/>
<rect x="1343.72" y="493.70" width="7.80" height="13.35" fill="#4876FF"/>
<rect x="1343.72" y="412.95" width="7.80" height="79.85" fill="#D4A01F"/>
<rect x="1353.32" y="492.46" width="7.80" height="14.59" fill="#4876FF"/>
<rect x="1353.32" y="412.95" width="7.80" height="78.61" fill="#D4A01F"/>
<rect x="1366.36" y="412.00" width="9.60" height="96.00" fill="#0b0805"/>
<rect x="1367.26" y="494.94" width="7.80" height="12.11" fill="#4876FF"/>
<rect x="1367.26" y="412.95" width="7.80" height="81.09" fill="#D4A01F"/>
<rect x="1380.30" y="412.00" width="38.40" height="96.00" fill="#0b0805"/>
<rect x="1381.20" y="496.74" width="7.80" height="10.31" fill="#4876FF"/>
<rect x="1381.20" y="412.95" width="7.80" height="82.89" fill="#D4A01F"/>
<rect x="1390.80" y="497.97" width="7.80" height="9.08" fill="#4876FF"/>
<rect x="1390.80" y="412.95" width="7.80" height="84.12" fill="#D4A01F"/>
<rect x="1400.40" y="497.97" width="7.80" height="9.08" fill="#4876FF"/>
<rect x="1400.40" y="412.95" width="7.80" height="84.12" fill="#D4A01F"/>
<rect x="1410.00" y="495.98" width="7.80" height="11.07" fill="#4876FF"/>
<rect x="1410.00" y="412.95" width="7.80" height="82.13" fill="#D4A01F"/>
<rect x="1423.04" y="412.00" width="19.20" height="96.00" fill="#0b0805"/>
<rect x="1423.94" y="506.52" width="7.80" height="0.53" fill="#3A3030"/>
<rect x="1423.94" y="412.95" width="7.80" height="92.67" fill="#D4A01F"/>
<rect x="1433.54" y="412.95" width="7.80" height="94.10" fill="#D4A01F"/>
<rect x="1446.58" y="412.00" width="9.60" height="96.00" fill="#0b0805"/>
<rect x="1447.48" y="412.95" width="7.80" height="94.10" fill="#D4A01F"/>
<rect x="1460.52" y="412.00" width="9.60" height="96.00" fill="#0b0805"/>
<rect x="1461.42" y="412.95" width="7.80" height="93.15" fill="#D4A01F"/>
<rect x="1474.46" y="412.00" width="19.20" height="96.00" fill="#0b0805"/>
<rect x="1475.36" y="506.05" width="7.80" height="1.00" fill="#3A3030"/>
<rect x="1475.36" y="412.95" width="7.80" height="92.20" fill="#D4A01F"/>
<rect x="1484.96" y="412.95" width="7.80" height="94.10" fill="#D4A01F"/>
<rect x="1529.55" y="412.00" width="9.60" height="96.00" fill="#0b0805"/>
<rect x="1530.45" y="412.95" width="7.80" height="94.10" fill="#D4A01F"/>
<path d="M1543.19 412.50H1572.59M1543.19 507.50H1572.59" stroke="#222" stroke-width="0.9" fill="none"/>
<rect x="1576.63" y="412.00" width="57.60" height="96.00" fill="#0b0805"/>
<rect x="1577.53" y="412.95" width="7.80" height="94.10" fill="#FFF68F"/>
<rect x="1587.13" y="412.95" width="7.80" height="94.10" fill="#FFF68F"/>
<rect x="1596.73" y="412.95" width="7.80" height="94.10" fill="#FFF68F"/>
<rect x="1606.33" y="412.95" width="7.80" height="94.10" fill="#FFF68F"/>
<rect x="1615.93" y="412.95" width="7.80" height="94.10" fill="#FFF68F"/>
<rect x="1625.53" y="412.95" width="7.80" height="94.10" fill="#FFF68F"/>
<rect x="1638.57" y="412.00" width="28.80" height="96.00" fill="#0b0805"/>
<rect x="1639.47" y="412.95" width="7.80" height="94.10" fill="#8B7355"/>
<rect x="1649.07" y="412.95" width="7.80" height="94.10" fill="#8B7355"/>
<rect x="1658.67" y="412.95" width="7.80" height="94.10" fill="#8B7355"/>
<rect x="1671.71" y="412.00" width="9.60" height="96.00" fill="#0b0805"/>
<rect x="1672.61" y="412.95" width="7.80" height="94.10" fill="#EE82EE"/>
<rect x="1685.65" y="412.00" width="28.80" height="96.00" fill="#0b0805"/>
<rect x="1686.55" y="412.95" width="7.80" height="94.10" fill="#8B4789"/>
<rect x="1696.15" y="412.95" width="7.80" height="94.10" fill="#8B4789"/>
<rect x="1705.75" y="412.95" width="7.80" height="94.10" fill="#8B4789"/>
<rect x="1718.79" y="412.00" width="9.60" height="96.00" fill="#0b0805"/>
<rect x="1719.69" y="412.95" width="7.80" height="94.10" fill="#4876FF"/>
<rect x="1732.73" y="412.00" width="9.60" height="96.00" fill="#0b0805"/>
<rect x="1733.63" y="412.95" width="7.80" height="94.10" fill="#A9C1DE"/>
<rect x="1746.67" y="412.00" width="9.60" height="96.00" fill="#0b0805"/>
<rect x="1747.57" y="412.95" width="7.80" height="94.10" fill="#4D4D4D"/>
<rect x="1760.61" y="412.00" width="38.40" height="96.00" fill="#0b0805"/>
<rect x="1761.51" y="412.95" width="7.80" height="94.10" fill="#4D4D4D"/>
<rect x="1771.11" y="412.95" width="7.80" height="94.10" fill="#4D4D4D"/>
<rect x="1780.71" y="412.95" width="7.80" height="94.10" fill="#4D4D4D"/>
<rect x="1790.31" y="412.95" width="7.80" height="94.10" fill="#4D4D4D"/>
<rect x="1803.35" y="412.00" width="19.20" height="96.00" fill="#0b0805"/>
<rect x="1804.25" y="412.95" width="7.80" height="94.10" fill="#4D4D4D"/>
<rect x="1813.85" y="412.95" width="7.80" height="94.10" fill="#4D4D4D"/>
</g>
<path d="M50.10 472.18v3.4m-1.3 0h2.6M50.10 412.90v3.0m-1.3 0h2.6M59.70 476.64v3.4m-1.3 0h2.6M59.70 412.90v3.0m-1.3 0h2.6M69.30 480.44v3.4m-1.3 0h2.6M69.30 412.90v3.0m-1.3 0h2.6M78.90 477.12v3.4m-1.3 0h2.6M78.90 412.90v3.0m-1.3 0h2.6M88.50 480.92v3.4m-1.3 0h2.6M88.50 412.90v3.0m-1.3 0h2.6M98.10 483.39v3.4m-1.3 0h2.6M98.10 412.90v3.0m-1.3 0h2.6M107.70 481.11v3.4m-1.3 0h2.6M107.70 412.90v3.0m-1.3 0h2.6M117.30 481.68v3.4m-1.3 0h2.6M117.30 412.90v3.0m-1.3 0h2.6M131.24 484.91v3.4m-1.3 0h2.6M131.24 412.90v3.0m-1.3 0h2.6M145.18 494.88v3.4m-1.3 0h2.6M145.18 412.90v3.0m-1.3 0h2.6M154.78 494.88v3.4m-1.3 0h2.6M154.78 412.90v3.0m-1.3 0h2.6M164.38 497.16v3.4m-1.3 0h2.6M164.38 412.90v3.0m-1.3 0h2.6M178.32 468.19v3.4m-1.3 0h2.6M178.32 412.90v3.0m-1.3 0h2.6M192.26 462.39v3.4m-1.3 0h2.6M192.26 412.90v3.0m-1.3 0h2.6M201.86 459.92v3.4m-1.3 0h2.6M201.86 412.90v3.0m-1.3 0h2.6M211.46 454.41v3.4m-1.3 0h2.6M211.46 412.90v3.0m-1.3 0h2.6M225.40 459.92v3.4m-1.3 0h2.6M225.40 412.90v3.0m-1.3 0h2.6M235.00 449.38v3.4m-1.3 0h2.6M235.00 412.90v3.0m-1.3 0h2.6M248.94 426.86v3.4m-1.3 0h2.6M248.94 412.90v3.0m-1.3 0h2.6M258.54 432.94v3.4m-1.3 0h2.6M258.54 412.90v3.0m-1.3 0h2.6M268.14 430.95v3.4m-1.3 0h2.6M268.14 412.90v3.0m-1.3 0h2.6M277.74 432.18v3.4m-1.3 0h2.6M277.74 412.90v3.0m-1.3 0h2.6M287.34 434.94v3.4m-1.3 0h2.6M287.34 412.90v3.0m-1.3 0h2.6M296.94 424.87v3.4m-1.3 0h2.6M296.94 412.90v3.0m-1.3 0h2.6M306.54 439.50v3.4m-1.3 0h2.6M306.54 412.90v3.0m-1.3 0h2.6M316.14 428.38v3.4m-1.3 0h2.6M316.14 412.90v3.0m-1.3 0h2.6M330.08 425.44v3.4m-1.3 0h2.6M330.08 412.90v3.0m-1.3 0h2.6M339.68 424.11v3.4m-1.3 0h2.6M339.68 412.90v3.0m-1.3 0h2.6M349.28 425.44v3.4m-1.3 0h2.6M349.28 412.90v3.0m-1.3 0h2.6M358.88 426.67v3.4m-1.3 0h2.6M358.88 412.90v3.0m-1.3 0h2.6M368.48 424.11v3.4m-1.3 0h2.6M368.48 412.90v3.0m-1.3 0h2.6M382.42 434.18v3.4m-1.3 0h2.6M382.42 412.90v3.0m-1.3 0h2.6M396.36 439.50v3.4m-1.3 0h2.6M396.36 412.90v3.0m-1.3 0h2.6M405.96 448.05v3.4m-1.3 0h2.6M405.96 412.90v3.0m-1.3 0h2.6M415.56 437.88v3.4m-1.3 0h2.6M415.56 412.90v3.0m-1.3 0h2.6M429.50 433.42v3.4m-1.3 0h2.6M429.50 412.90v3.0m-1.3 0h2.6M439.10 435.41v3.4m-1.3 0h2.6M439.10 412.90v3.0m-1.3 0h2.6M448.70 435.41v3.4m-1.3 0h2.6M448.70 412.90v3.0m-1.3 0h2.6M462.64 425.91v3.4m-1.3 0h2.6M462.64 412.90v3.0m-1.3 0h2.6M472.24 427.44v3.4m-1.3 0h2.6M472.24 412.90v3.0m-1.3 0h2.6M481.84 427.91v3.4m-1.3 0h2.6M481.84 412.90v3.0m-1.3 0h2.6M491.44 430.38v3.4m-1.3 0h2.6M491.44 412.90v3.0m-1.3 0h2.6M501.04 430.38v3.4m-1.3 0h2.6M501.04 412.90v3.0m-1.3 0h2.6M510.64 427.91v3.4m-1.3 0h2.6M510.64 412.90v3.0m-1.3 0h2.6M520.24 430.38v3.4m-1.3 0h2.6M520.24 412.90v3.0m-1.3 0h2.6M529.84 432.94v3.4m-1.3 0h2.6M529.84 412.90v3.0m-1.3 0h2.6M539.44 429.14v3.4m-1.3 0h2.6M539.44 412.90v3.0m-1.3 0h2.6M549.04 432.94v3.4m-1.3 0h2.6M549.04 412.90v3.0m-1.3 0h2.6M562.98 432.38v3.4m-1.3 0h2.6M562.98 412.90v3.0m-1.3 0h2.6M572.58 436.65v3.4m-1.3 0h2.6M572.58 412.90v3.0m-1.3 0h2.6M582.18 430.38v3.4m-1.3 0h2.6M582.18 412.90v3.0m-1.3 0h2.6M591.78 436.65v3.4m-1.3 0h2.6M591.78 412.90v3.0m-1.3 0h2.6M601.38 436.65v3.4m-1.3 0h2.6M601.38 412.90v3.0m-1.3 0h2.6M610.98 431.61v3.4m-1.3 0h2.6M610.98 412.90v3.0m-1.3 0h2.6M620.58 446.62v3.4m-1.3 0h2.6M620.58 412.90v3.0m-1.3 0h2.6M630.18 430.38v3.4m-1.3 0h2.6M630.18 412.90v3.0m-1.3 0h2.6M644.12 466.19v3.4m-1.3 0h2.6M644.12 412.90v3.0m-1.3 0h2.6M653.72 464.86v3.4m-1.3 0h2.6M653.72 412.90v3.0m-1.3 0h2.6M667.66 452.42v3.4m-1.3 0h2.6M667.66 412.90v3.0m-1.3 0h2.6M677.26 454.13v3.4m-1.3 0h2.6M677.26 412.90v3.0m-1.3 0h2.6M691.20 472.18v3.4m-1.3 0h2.6M691.20 412.90v3.0m-1.3 0h2.6M700.80 476.64v3.4m-1.3 0h2.6M700.80 412.90v3.0m-1.3 0h2.6M710.40 474.94v3.4m-1.3 0h2.6M710.40 412.90v3.0m-1.3 0h2.6M720.00 472.37v3.4m-1.3 0h2.6M720.00 412.90v3.0m-1.3 0h2.6M729.60 476.64v3.4m-1.3 0h2.6M729.60 412.90v3.0m-1.3 0h2.6M739.20 475.41v3.4m-1.3 0h2.6M739.20 412.90v3.0m-1.3 0h2.6M748.80 477.88v3.4m-1.3 0h2.6M748.80 412.90v3.0m-1.3 0h2.6M758.40 475.41v3.4m-1.3 0h2.6M758.40 412.90v3.0m-1.3 0h2.6M768.00 473.41v3.4m-1.3 0h2.6M768.00 412.90v3.0m-1.3 0h2.6M777.60 471.61v3.4m-1.3 0h2.6M777.60 412.90v3.0m-1.3 0h2.6M787.20 475.88v3.4m-1.3 0h2.6M787.20 412.90v3.0m-1.3 0h2.6M796.80 473.41v3.4m-1.3 0h2.6M796.80 412.90v3.0m-1.3 0h2.6M806.40 474.17v3.4m-1.3 0h2.6M806.40 412.90v3.0m-1.3 0h2.6M894.84 503.15v3.4m-1.3 0h2.6M894.84 412.90v3.0m-1.3 0h2.6M904.44 503.62v3.4m-1.3 0h2.6M904.44 412.90v3.0m-1.3 0h2.6M914.04 506.00v3.4m-1.3 0h2.6M914.04 412.90v3.0m-1.3 0h2.6M923.64 506.47v3.4m-1.3 0h2.6M923.64 412.90v3.0m-1.3 0h2.6M933.24 505.52v3.4m-1.3 0h2.6M933.24 412.90v3.0m-1.3 0h2.6M942.84 506.00v3.4m-1.3 0h2.6M942.84 412.90v3.0m-1.3 0h2.6M952.44 506.47v3.4m-1.3 0h2.6M952.44 412.90v3.0m-1.3 0h2.6M966.38 505.05v3.4m-1.3 0h2.6M966.38 412.90v3.0m-1.3 0h2.6M980.32 506.00v3.4m-1.3 0h2.6M980.32 412.90v3.0m-1.3 0h2.6M994.26 506.47v3.4m-1.3 0h2.6M994.26 412.90v3.0m-1.3 0h2.6M1003.86 506.47v3.4m-1.3 0h2.6M1003.86 412.90v3.0m-1.3 0h2.6M1017.80 506.47v3.4m-1.3 0h2.6M1017.80 412.90v3.0m-1.3 0h2.6M1031.74 412.90v3.0m-1.3 0h2.6M1041.34 412.90v3.0m-1.3 0h2.6M1050.94 412.90v3.0m-1.3 0h2.6M1060.54 412.90v3.0m-1.3 0h2.6M1070.14 412.90v3.0m-1.3 0h2.6M1079.74 412.90v3.0m-1.3 0h2.6M1089.34 412.90v3.0m-1.3 0h2.6M1098.94 412.90v3.0m-1.3 0h2.6M1108.54 412.90v3.0m-1.3 0h2.6M1118.14 412.90v3.0m-1.3 0h2.6M1127.74 412.90v3.0m-1.3 0h2.6M1137.34 412.90v3.0m-1.3 0h2.6M1146.94 412.90v3.0m-1.3 0h2.6M1156.54 412.90v3.0m-1.3 0h2.6M1166.14 412.90v3.0m-1.3 0h2.6M1175.74 412.90v3.0m-1.3 0h2.6M1185.34 412.90v3.0m-1.3 0h2.6M1194.94 412.90v3.0m-1.3 0h2.6M1204.54 412.90v3.0m-1.3 0h2.6M1214.14 412.90v3.0m-1.3 0h2.6M1223.74 412.90v3.0m-1.3 0h2.6M1233.34 412.90v3.0m-1.3 0h2.6M1242.94 412.90v3.0m-1.3 0h2.6M1252.54 412.90v3.0m-1.3 0h2.6M1262.14 412.90v3.0m-1.3 0h2.6M1271.74 412.90v3.0m-1.3 0h2.6M1281.34 412.90v3.0m-1.3 0h2.6M1290.94 412.90v3.0m-1.3 0h2.6M1304.88 506.47v3.4m-1.3 0h2.6M1304.88 412.90v3.0m-1.3 0h2.6M1314.48 496.69v3.4m-1.3 0h2.6M1314.48 412.90v3.0m-1.3 0h2.6M1328.42 489.85v3.4m-1.3 0h2.6M1328.42 412.90v3.0m-1.3 0h2.6M1338.02 496.12v3.4m-1.3 0h2.6M1338.02 412.90v3.0m-1.3 0h2.6M1347.62 493.65v3.4m-1.3 0h2.6M1347.62 412.90v3.0m-1.3 0h2.6M1357.22 492.41v3.4m-1.3 0h2.6M1357.22 412.90v3.0m-1.3 0h2.6M1371.16 494.88v3.4m-1.3 0h2.6M1371.16 412.90v3.0m-1.3 0h2.6M1385.10 496.69v3.4m-1.3 0h2.6M1385.10 412.90v3.0m-1.3 0h2.6M1394.70 497.92v3.4m-1.3 0h2.6M1394.70 412.90v3.0m-1.3 0h2.6M1404.30 497.92v3.4m-1.3 0h2.6M1404.30 412.90v3.0m-1.3 0h2.6M1413.90 495.93v3.4m-1.3 0h2.6M1413.90 412.90v3.0m-1.3 0h2.6M1427.84 506.47v3.4m-1.3 0h2.6M1427.84 412.90v3.0m-1.3 0h2.6M1465.32 412.90v3.0m-1.3 0h2.6M1479.26 506.00v3.4m-1.3 0h2.6M1479.26 412.90v3.0m-1.3 0h2.6" stroke="#1a1206" stroke-width="0.9" fill="none"/>
<path d="M1532.55 405.38l3.6 3.6m0 -3.6l-3.6 3.6M1579.63 405.38l3.6 3.6m0 -3.6l-3.6 3.6M1589.23 405.38l3.6 3.6m0 -3.6l-3.6 3.6M1598.83 405.38l3.6 3.6m0 -3.6l-3.6 3.6M1608.43 405.38l3.6 3.6m0 -3.6l-3.6 3.6M1618.03 405.38l3.6 3.6m0 -3.6l-3.6 3.6M1627.63 405.38l3.6 3.6m0 -3.6l-3.6 3.6M1641.57 405.38l3.6 3.6m0 -3.6l-3.6 3.6M1651.17 405.38l3.6 3.6m0 -3.6l-3.6 3.6M1660.77 405.38l3.6 3.6m0 -3.6l-3.6 3.6M1674.71 405.38l3.6 3.6m0 -3.6l-3.6 3.6M1688.65 405.38l3.6 3.6m0 -3.6l-3.6 3.6M1698.25 405.38l3.6 3.6m0 -3.6l-3.6 3.6M1707.85 405.38l3.6 3.6m0 -3.6l-3.6 3.6M1721.79 405.38l3.6 3.6m0 -3.6l-3.6 3.6M1735.73 405.38l3.6 3.6m0 -3.6l-3.6 3.6M1749.67 405.38l3.6 3.6m0 -3.6l-3.6 3.6M1763.61 405.38l3.6 3.6m0 -3.6l-3.6 3.6M1773.21 405.38l3.6 3.6m0 -3.6l-3.6 3.6M1782.81 405.38l3.6 3.6m0 -3.6l-3.6 3.6M1792.41 405.38l3.6 3.6m0 -3.6l-3.6 3.6M1806.35 405.38l3.6 3.6m0 -3.6l-3.6 3.6M1815.95 405.38l3.6 3.6m0 -3.6l-3.6 3.6" stroke="#000" stroke-width="1.45" fill="none"/>
<g font-family="Liberation Sans, Arial, Helvetica, sans-serif" font-size="12.5" fill="#4d4d4d" text-anchor="end">
<text x="36.5" y="416.9">1.00</text>
<line x1="38" y1="412.50" x2="44.2" y2="412.50" stroke="#222" stroke-width="1.1"/>
<text x="36.5" y="440.6">0.75</text>
<line x1="38" y1="436.25" x2="44.2" y2="436.25" stroke="#222" stroke-width="1.1"/>
<text x="36.5" y="464.4">0.50</text>
<line x1="38" y1="460.00" x2="44.2" y2="460.00" stroke="#222" stroke-width="1.1"/>
<text x="36.5" y="488.1">0.25</text>
<line x1="38" y1="483.75" x2="44.2" y2="483.75" stroke="#222" stroke-width="1.1"/>
<text x="36.5" y="511.9">0.00</text>
<line x1="38" y1="507.50" x2="44.2" y2="507.50" stroke="#222" stroke-width="1.1"/>
</g>
<text font-family="Liberation Sans, Arial, Helvetica, sans-serif" font-size="12.5" fill="#1a1a1a" text-anchor="middle" transform="translate(1831.5,459.8) rotate(90)">hgEurUP</text>
<g>
<rect x="44.50" y="520.60" width="78.40" height="114.50" fill="#fff" stroke="#d6d6d6" stroke-width="0.9"/>
<rect x="125.64" y="520.60" width="11.20" height="114.50" fill="#fff" stroke="#d6d6d6" stroke-width="0.9"/>
<rect x="139.58" y="520.60" width="30.40" height="114.50" fill="#fff" stroke="#d6d6d6" stroke-width="0.9"/>
<rect x="172.72" y="520.60" width="11.20" height="114.50" fill="#fff" stroke="#d6d6d6" stroke-width="0.9"/>
<rect x="186.66" y="520.60" width="30.40" height="114.50" fill="#fff" stroke="#d6d6d6" stroke-width="0.9"/>
<rect x="219.80" y="520.60" width="20.80" height="114.50" fill="#fff" stroke="#d6d6d6" stroke-width="0.9"/>
<rect x="243.34" y="520.60" width="78.40" height="114.50" fill="#fff" stroke="#d6d6d6" stroke-width="0.9"/>
<rect x="324.48" y="520.60" width="49.60" height="114.50" fill="#fff" stroke="#d6d6d6" stroke-width="0.9"/>
<rect x="376.82" y="520.60" width="11.20" height="114.50" fill="#fff" stroke="#d6d6d6" stroke-width="0.9"/>
<rect x="390.76" y="520.60" width="30.40" height="114.50" fill="#fff" stroke="#d6d6d6" stroke-width="0.9"/>
<rect x="423.90" y="520.60" width="30.40" height="114.50" fill="#fff" stroke="#d6d6d6" stroke-width="0.9"/>
<rect x="457.04" y="520.60" width="97.60" height="114.50" fill="#fff" stroke="#d6d6d6" stroke-width="0.9"/>
<rect x="557.38" y="520.60" width="78.40" height="114.50" fill="#fff" stroke="#d6d6d6" stroke-width="0.9"/>
<rect x="638.52" y="520.60" width="20.80" height="114.50" fill="#fff" stroke="#d6d6d6" stroke-width="0.9"/>
<rect x="662.06" y="520.60" width="20.80" height="114.50" fill="#fff" stroke="#d6d6d6" stroke-width="0.9"/>
<rect x="685.60" y="520.60" width="126.40" height="114.50" fill="#fff" stroke="#d6d6d6" stroke-width="0.9"/>
<rect x="846.50" y="520.60" width="40.00" height="114.50" fill="#fff" stroke="#d6d6d6" stroke-width="0.9"/>
<rect x="889.24" y="520.60" width="68.80" height="114.50" fill="#fff" stroke="#d6d6d6" stroke-width="0.9"/>
<rect x="960.78" y="520.60" width="11.20" height="114.50" fill="#fff" stroke="#d6d6d6" stroke-width="0.9"/>
<rect x="974.72" y="520.60" width="11.20" height="114.50" fill="#fff" stroke="#d6d6d6" stroke-width="0.9"/>
<rect x="988.66" y="520.60" width="20.80" height="114.50" fill="#fff" stroke="#d6d6d6" stroke-width="0.9"/>
<rect x="1012.20" y="520.60" width="11.20" height="114.50" fill="#fff" stroke="#d6d6d6" stroke-width="0.9"/>
<rect x="1026.14" y="520.60" width="270.40" height="114.50" fill="#fff" stroke="#d6d6d6" stroke-width="0.9"/>
<rect x="1299.28" y="520.60" width="20.80" height="114.50" fill="#fff" stroke="#d6d6d6" stroke-width="0.9"/>
<rect x="1322.82" y="520.60" width="40.00" height="114.50" fill="#fff" stroke="#d6d6d6" stroke-width="0.9"/>
<rect x="1365.56" y="520.60" width="11.20" height="114.50" fill="#fff" stroke="#d6d6d6" stroke-width="0.9"/>
<rect x="1379.50" y="520.60" width="40.00" height="114.50" fill="#fff" stroke="#d6d6d6" stroke-width="0.9"/>
<rect x="1422.24" y="520.60" width="20.80" height="114.50" fill="#fff" stroke="#d6d6d6" stroke-width="0.9"/>
<rect x="1445.78" y="520.60" width="11.20" height="114.50" fill="#fff" stroke="#d6d6d6" stroke-width="0.9"/>
<rect x="1459.72" y="520.60" width="11.20" height="114.50" fill="#fff" stroke="#d6d6d6" stroke-width="0.9"/>
<rect x="1473.66" y="520.60" width="20.80" height="114.50" fill="#fff" stroke="#d6d6d6" stroke-width="0.9"/>
<rect x="1528.75" y="520.60" width="11.20" height="114.50" fill="#fff" stroke="#d6d6d6" stroke-width="0.9"/>
<rect x="1542.69" y="520.60" width="30.40" height="114.50" fill="#fff" stroke="#d6d6d6" stroke-width="0.9"/>
<rect x="1575.83" y="520.60" width="59.20" height="114.50" fill="#fff" stroke="#d6d6d6" stroke-width="0.9"/>
<rect x="1637.77" y="520.60" width="30.40" height="114.50" fill="#fff" stroke="#d6d6d6" stroke-width="0.9"/>
<rect x="1670.91" y="520.60" width="11.20" height="114.50" fill="#fff" stroke="#d6d6d6" stroke-width="0.9"/>
<rect x="1684.85" y="520.60" width="30.40" height="114.50" fill="#fff" stroke="#d6d6d6" stroke-width="0.9"/>
<rect x="1717.99" y="520.60" width="11.20" height="114.50" fill="#fff" stroke="#d6d6d6" stroke-width="0.9"/>
<rect x="1731.93" y="520.60" width="11.20" height="114.50" fill="#fff" stroke="#d6d6d6" stroke-width="0.9"/>
<rect x="1745.87" y="520.60" width="11.20" height="114.50" fill="#fff" stroke="#d6d6d6" stroke-width="0.9"/>
<rect x="1759.81" y="520.60" width="40.00" height="114.50" fill="#fff" stroke="#d6d6d6" stroke-width="0.9"/>
<rect x="1802.55" y="520.60" width="20.80" height="114.50" fill="#fff" stroke="#d6d6d6" stroke-width="0.9"/>
</g>
<g shape-rendering="auto">
<rect x="45.30" y="530.10" width="76.80" height="96.00" fill="#0b0805"/>
<rect x="46.20" y="588.05" width="7.80" height="37.10" fill="#FF7050"/>
<rect x="46.20" y="531.05" width="7.80" height="56.10" fill="#C71585"/>
<rect x="55.80" y="584.25" width="7.80" height="40.90" fill="#FF7050"/>
<rect x="55.80" y="531.05" width="7.80" height="52.30" fill="#C71585"/>
<rect x="65.40" y="580.07" width="7.80" height="45.08" fill="#FF7050"/>
<rect x="65.40" y="531.05" width="7.80" height="48.12" fill="#C71585"/>
<rect x="75.00" y="581.78" width="7.80" height="43.37" fill="#FF7050"/>
<rect x="75.00" y="531.05" width="7.80" height="49.83" fill="#C71585"/>
<rect x="84.60" y="623.20" width="7.80" height="1.95" fill="#D4A01F"/>
<rect x="84.60" y="580.07" width="7.80" height="42.23" fill="#FF7050"/>
<rect x="84.60" y="531.05" width="7.80" height="48.12" fill="#C71585"/>
<rect x="94.20" y="577.32" width="7.80" height="47.84" fill="#FF7050"/>
<rect x="94.20" y="531.05" width="7.80" height="45.36" fill="#C71585"/>
<rect x="103.80" y="624.15" width="7.80" height="1.00" fill="#D4A01F"/>
<rect x="103.80" y="578.55" width="7.80" height="44.70" fill="#FF7050"/>
<rect x="103.80" y="531.05" width="7.80" height="46.60" fill="#C71585"/>
<rect x="113.40" y="620.35" width="7.80" height="4.80" fill="#D4A01F"/>
<rect x="113.40" y="578.08" width="7.80" height="41.37" fill="#FF7050"/>
<rect x="113.40" y="531.05" width="7.80" height="46.12" fill="#C71585"/>
<rect x="126.44" y="530.10" width="9.60" height="96.00" fill="#0b0805"/>
<rect x="127.34" y="621.30" width="7.80" height="3.85" fill="#D4A01F"/>
<rect x="127.34" y="574.28" width="7.80" height="46.12" fill="#FF7050"/>
<rect x="127.34" y="531.05" width="7.80" height="42.33" fill="#C71585"/>
<rect x="140.38" y="530.10" width="28.80" height="96.00" fill="#0b0805"/>
<rect x="141.28" y="616.55" width="7.80" height="8.60" fill="#8B7558"/>
<rect x="141.28" y="601.35" width="7.80" height="14.30" fill="#D4A01F"/>
<rect x="141.28" y="564.30" width="7.80" height="36.15" fill="#FF7050"/>
<rect x="141.28" y="531.05" width="7.80" height="32.35" fill="#C71585"/>
<rect x="150.88" y="618.45" width="7.80" height="6.70" fill="#8B7558"/>
<rect x="150.88" y="600.40" width="7.80" height="17.15" fill="#D4A01F"/>
<rect x="150.88" y="563.35" width="7.80" height="36.15" fill="#FF7050"/>
<rect x="150.88" y="531.05" width="7.80" height="31.40" fill="#C71585"/>
<rect x="160.48" y="613.70" width="7.80" height="11.45" fill="#8B7558"/>
<rect x="160.48" y="594.70" width="7.80" height="18.10" fill="#D4A01F"/>
<rect x="160.48" y="560.50" width="7.80" height="33.30" fill="#FF7050"/>
<rect x="160.48" y="531.05" width="7.80" height="28.55" fill="#C71585"/>
<rect x="173.52" y="530.10" width="9.60" height="96.00" fill="#0b0805"/>
<rect x="174.42" y="590.90" width="7.80" height="34.25" fill="#FF7050"/>
<rect x="174.42" y="531.05" width="7.80" height="58.95" fill="#C71585"/>
<rect x="187.46" y="530.10" width="28.80" height="96.00" fill="#0b0805"/>
<rect x="188.36" y="623.20" width="7.80" height="1.95" fill="#D4A01F"/>
<rect x="188.36" y="596.60" width="7.80" height="25.70" fill="#FF7050"/>
<rect x="188.36" y="531.05" width="7.80" height="64.65" fill="#C71585"/>
<rect x="197.96" y="600.88" width="7.80" height="24.27" fill="#FF7050"/>
<rect x="197.96" y="531.05" width="7.80" height="68.93" fill="#C71585"/>
<rect x="207.56" y="606.58" width="7.80" height="18.58" fill="#FF7050"/>
<rect x="207.56" y="531.05" width="7.80" height="74.62" fill="#C71585"/>
<rect x="220.60" y="530.10" width="19.20" height="96.00" fill="#0b0805"/>
<rect x="221.50" y="602.30" width="7.80" height="22.85" fill="#FF7050"/>
<rect x="221.50" y="531.05" width="7.80" height="70.35" fill="#C71585"/>
<rect x="231.10" y="621.30" width="7.80" height="3.85" fill="#D4A01F"/>
<rect x="231.10" y="607.53" width="7.80" height="12.87" fill="#FF7050"/>
<rect x="231.10" y="531.05" width="7.80" height="75.58" fill="#C71585"/>
<rect x="244.14" y="530.10" width="76.80" height="96.00" fill="#0b0805"/>
<rect x="245.04" y="531.05" width="7.80" height="94.10" fill="#C71585"/>
<rect x="254.64" y="531.05" width="7.80" height="94.10" fill="#C71585"/>
<rect x="264.24" y="531.05" width="7.80" height="94.10" fill="#C71585"/>
<rect x="273.84" y="531.05" width="7.80" height="94.10" fill="#C71585"/>
<rect x="283.44" y="531.05" width="7.80" height="94.10" fill="#C71585"/>
<rect x="293.04" y="622.73" width="7.80" height="2.43" fill="#4876FF"/>
<rect x="293.04" y="531.05" width="7.80" height="90.77" fill="#C71585"/>
<rect x="302.64" y="623.20" width="7.80" height="1.95" fill="#FFC125"/>
<rect x="302.64" y="618.45" width="7.80" height="3.85" fill="#D4A01F"/>
<rect x="302.64" y="531.05" width="7.80" height="86.50" fill="#C71585"/>
<rect x="312.24" y="624.15" width="7.80" height="1.00" fill="#4876FF"/>
<rect x="312.24" y="531.05" width="7.80" height="92.20" fill="#C71585"/>
<rect x="325.28" y="530.10" width="48.00" height="96.00" fill="#0b0805"/>
<rect x="326.18" y="531.05" width="7.80" height="94.10" fill="#C71585"/>
<rect x="335.78" y="531.05" width="7.80" height="94.10" fill="#C71585"/>
<rect x="345.38" y="531.05" width="7.80" height="94.10" fill="#C71585"/>
<rect x="354.98" y="531.05" width="7.80" height="94.10" fill="#C71585"/>
<rect x="364.58" y="531.05" width="7.80" height="94.10" fill="#C71585"/>
<rect x="377.62" y="530.10" width="9.60" height="96.00" fill="#0b0805"/>
<rect x="378.52" y="624.15" width="7.80" height="1.00" fill="#3A3030"/>
<rect x="378.52" y="531.05" width="7.80" height="92.20" fill="#C71585"/>
<rect x="391.56" y="530.10" width="28.80" height="96.00" fill="#0b0805"/>
<rect x="392.46" y="618.93" width="7.80" height="6.22" fill="#FF7050"/>
<rect x="392.46" y="531.05" width="7.80" height="86.97" fill="#C71585"/>
<rect x="402.06" y="621.30" width="7.80" height="3.85" fill="#FFC125"/>
<rect x="402.06" y="616.55" width="7.80" height="3.85" fill="#D4A01F"/>
<rect x="402.06" y="609.43" width="7.80" height="6.22" fill="#FF7050"/>
<rect x="402.06" y="531.05" width="7.80" height="77.47" fill="#C71585"/>
<rect x="411.66" y="623.20" width="7.80" height="1.95" fill="#FFC125"/>
<rect x="411.66" y="620.83" width="7.80" height="1.48" fill="#D4A01F"/>
<rect x="411.66" y="531.05" width="7.80" height="88.87" fill="#C71585"/>
<rect x="424.70" y="530.10" width="28.80" height="96.00" fill="#0b0805"/>
<rect x="425.60" y="624.15" width="7.80" height="1.00" fill="#D4A01F"/>
<rect x="425.60" y="531.05" width="7.80" height="92.20" fill="#C71585"/>
<rect x="435.20" y="624.63" width="7.80" height="0.52" fill="#D4A01F"/>
<rect x="435.20" y="531.05" width="7.80" height="92.68" fill="#C71585"/>
<rect x="444.80" y="625.10" width="7.80" height="0.05" fill="#D4A01F"/>
<rect x="444.80" y="531.05" width="7.80" height="93.15" fill="#C71585"/>
<rect x="457.84" y="530.10" width="96.00" height="96.00" fill="#0b0805"/>
<rect x="458.74" y="531.05" width="7.80" height="94.10" fill="#C71585"/>
<rect x="468.34" y="531.05" width="7.80" height="94.10" fill="#C71585"/>
<rect x="477.94" y="531.05" width="7.80" height="94.10" fill="#C71585"/>
<rect x="487.54" y="531.05" width="7.80" height="94.10" fill="#C71585"/>
<rect x="497.14" y="531.05" width="7.80" height="94.10" fill="#C71585"/>
<rect x="506.74" y="531.05" width="7.80" height="94.10" fill="#C71585"/>
<rect x="516.34" y="531.05" width="7.80" height="94.10" fill="#C71585"/>
<rect x="525.94" y="531.05" width="7.80" height="94.10" fill="#C71585"/>
<rect x="535.54" y="531.05" width="7.80" height="94.10" fill="#C71585"/>
<rect x="545.14" y="531.05" width="7.80" height="94.10" fill="#C71585"/>
<rect x="558.18" y="530.10" width="76.80" height="96.00" fill="#0b0805"/>
<rect x="559.08" y="531.05" width="7.80" height="94.10" fill="#C71585"/>
<rect x="568.68" y="531.05" width="7.80" height="93.62" fill="#C71585"/>
<rect x="578.28" y="531.05" width="7.80" height="94.10" fill="#C71585"/>
<rect x="587.88" y="531.05" width="7.80" height="94.10" fill="#C71585"/>
<rect x="597.48" y="623.20" width="7.80" height="1.95" fill="#FF7050"/>
<rect x="597.48" y="531.05" width="7.80" height="91.25" fill="#C71585"/>
<rect x="607.08" y="531.05" width="7.80" height="94.10" fill="#C71585"/>
<rect x="616.68" y="614.65" width="7.80" height="10.50" fill="#FFC125"/>
<rect x="616.68" y="608.00" width="7.80" height="5.75" fill="#D4A01F"/>
<rect x="616.68" y="607.05" width="7.80" height="0.05" fill="#FF7050"/>
<rect x="616.68" y="531.05" width="7.80" height="75.10" fill="#C71585"/>
<rect x="626.28" y="531.05" width="7.80" height="94.10" fill="#C71585"/>
<rect x="639.32" y="530.10" width="19.20" height="96.00" fill="#0b0805"/>
<rect x="640.22" y="606.10" width="7.80" height="19.05" fill="#FFC125"/>
<rect x="640.22" y="582.35" width="7.80" height="22.85" fill="#D4A01F"/>
<rect x="640.22" y="579.50" width="7.80" height="1.95" fill="#FF7050"/>
<rect x="640.22" y="531.05" width="7.80" height="47.55" fill="#C71585"/>
<rect x="649.82" y="609.90" width="7.80" height="15.25" fill="#FFC125"/>
<rect x="649.82" y="585.20" width="7.80" height="23.80" fill="#D4A01F"/>
<rect x="649.82" y="580.45" width="7.80" height="3.85" fill="#FF7050"/>
<rect x="649.82" y="531.05" width="7.80" height="48.50" fill="#C71585"/>
<rect x="662.86" y="530.10" width="19.20" height="96.00" fill="#0b0805"/>
<rect x="663.76" y="619.40" width="7.80" height="5.75" fill="#D4A01F"/>
<rect x="663.76" y="607.05" width="7.80" height="11.45" fill="#FF7050"/>
<rect x="663.76" y="531.05" width="7.80" height="75.10" fill="#C71585"/>
<rect x="673.36" y="611.33" width="7.80" height="13.83" fill="#D4A01F"/>
<rect x="673.36" y="602.30" width="7.80" height="8.12" fill="#FF7050"/>
<rect x="673.36" y="531.05" width="7.80" height="70.35" fill="#C71585"/>
<rect x="686.40" y="530.10" width="124.80" height="96.00" fill="#0b0805"/>
<rect x="687.30" y="607.72" width="7.80" height="17.44" fill="#D4A01F"/>
<rect x="687.30" y="586.34" width="7.80" height="20.48" fill="#FF7050"/>
<rect x="687.30" y="531.05" width="7.80" height="54.39" fill="#C71585"/>
<rect x="696.90" y="603.25" width="7.80" height="21.90" fill="#D4A01F"/>
<rect x="696.90" y="579.79" width="7.80" height="22.57" fill="#FF7050"/>
<rect x="696.90" y="531.05" width="7.80" height="47.84" fill="#C71585"/>
<rect x="706.50" y="604.39" width="7.80" height="20.76" fill="#D4A01F"/>
<rect x="706.50" y="581.31" width="7.80" height="22.19" fill="#FF7050"/>
<rect x="706.50" y="531.05" width="7.80" height="49.35" fill="#C71585"/>
<rect x="716.10" y="608.19" width="7.80" height="16.96" fill="#D4A01F"/>
<rect x="716.10" y="585.58" width="7.80" height="21.71" fill="#FF7050"/>
<rect x="716.10" y="531.05" width="7.80" height="53.63" fill="#C71585"/>
<rect x="725.70" y="613.70" width="7.80" height="11.45" fill="#D4A01F"/>
<rect x="725.70" y="585.58" width="7.80" height="27.22" fill="#FF7050"/>
<rect x="725.70" y="531.05" width="7.80" height="53.63" fill="#C71585"/>
<rect x="735.30" y="611.23" width="7.80" height="13.92" fill="#D4A01F"/>
<rect x="735.30" y="583.59" width="7.80" height="26.74" fill="#FF7050"/>
<rect x="735.30" y="531.05" width="7.80" height="51.63" fill="#C71585"/>
<rect x="744.90" y="605.72" width="7.80" height="19.43" fill="#D4A01F"/>
<rect x="744.90" y="580.55" width="7.80" height="24.27" fill="#FF7050"/>
<rect x="744.90" y="531.05" width="7.80" height="48.60" fill="#C71585"/>
<rect x="754.50" y="607.72" width="7.80" height="17.44" fill="#D4A01F"/>
<rect x="754.50" y="581.78" width="7.80" height="25.03" fill="#FF7050"/>
<rect x="754.50" y="531.05" width="7.80" height="49.83" fill="#C71585"/>
<rect x="764.10" y="610.19" width="7.80" height="14.97" fill="#D4A01F"/>
<rect x="764.10" y="586.82" width="7.80" height="22.47" fill="#FF7050"/>
<rect x="764.10" y="531.05" width="7.80" height="54.86" fill="#C71585"/>
<rect x="773.70" y="610.00" width="7.80" height="15.15" fill="#D4A01F"/>
<rect x="773.70" y="586.82" width="7.80" height="22.28" fill="#FF7050"/>
<rect x="773.70" y="531.05" width="7.80" height="54.86" fill="#C71585"/>
<rect x="783.30" y="606.48" width="7.80" height="18.67" fill="#D4A01F"/>
<rect x="783.30" y="581.31" width="7.80" height="24.27" fill="#FF7050"/>
<rect x="783.30" y="531.05" width="7.80" height="49.35" fill="#C71585"/>
<rect x="792.90" y="610.76" width="7.80" height="14.39" fill="#D4A01F"/>
<rect x="792.90" y="586.15" width="7.80" height="23.71" fill="#FF7050"/>
<rect x="792.90" y="531.05" width="7.80" height="54.20" fill="#C71585"/>
<rect x="802.50" y="610.00" width="7.80" height="15.15" fill="#D4A01F"/>
<rect x="802.50" y="585.11" width="7.80" height="23.99" fill="#FF7050"/>
<rect x="802.50" y="531.05" width="7.80" height="53.15" fill="#C71585"/>
<rect x="847.30" y="530.10" width="38.40" height="96.00" fill="#0b0805"/>
<rect x="848.20" y="531.05" width="7.80" height="94.10" fill="#FF7050"/>
<rect x="857.80" y="531.05" width="7.80" height="94.10" fill="#FF7050"/>
<rect x="867.40" y="531.05" width="7.80" height="94.10" fill="#FF7050"/>
<rect x="877.00" y="531.05" width="7.80" height="94.10" fill="#FF7050"/>
<rect x="890.04" y="530.10" width="67.20" height="96.00" fill="#0b0805"/>
<rect x="890.94" y="623.20" width="7.80" height="1.95" fill="#3A3030"/>
<rect x="890.94" y="619.40" width="7.80" height="2.90" fill="#8B7558"/>
<rect x="890.94" y="616.55" width="7.80" height="1.95" fill="#3A3030"/>
<rect x="890.94" y="613.70" width="7.80" height="1.95" fill="#8B7558"/>
<rect x="890.94" y="532.95" width="7.80" height="79.85" fill="#FF7050"/>
<rect x="890.94" y="531.05" width="7.80" height="1.00" fill="#C71585"/>
<rect x="900.54" y="622.25" width="7.80" height="2.90" fill="#3A3030"/>
<rect x="900.54" y="620.35" width="7.80" height="1.00" fill="#8B7558"/>
<rect x="900.54" y="617.50" width="7.80" height="1.95" fill="#3A3030"/>
<rect x="900.54" y="532.48" width="7.80" height="84.13" fill="#FF7050"/>
<rect x="900.54" y="531.05" width="7.80" height="0.52" fill="#C71585"/>
<rect x="910.14" y="619.40" width="7.80" height="5.75" fill="#D4A01F"/>
<rect x="910.14" y="540.55" width="7.80" height="77.95" fill="#FF7050"/>
<rect x="910.14" y="531.05" width="7.80" height="8.60" fill="#C71585"/>
<rect x="919.74" y="621.30" width="7.80" height="3.85" fill="#D4A01F"/>
<rect x="919.74" y="543.88" width="7.80" height="76.52" fill="#FF7050"/>
<rect x="919.74" y="531.05" width="7.80" height="11.93" fill="#C71585"/>
<rect x="929.34" y="614.65" width="7.80" height="10.50" fill="#D4A01F"/>
<rect x="929.34" y="543.40" width="7.80" height="70.35" fill="#FF7050"/>
<rect x="929.34" y="531.05" width="7.80" height="11.45" fill="#C71585"/>
<rect x="938.94" y="616.55" width="7.80" height="8.60" fill="#D4A01F"/>
<rect x="938.94" y="543.88" width="7.80" height="71.77" fill="#FF7050"/>
<rect x="938.94" y="531.05" width="7.80" height="11.93" fill="#C71585"/>
<rect x="948.54" y="618.45" width="7.80" height="6.70" fill="#D4A01F"/>
<rect x="948.54" y="544.35" width="7.80" height="73.20" fill="#FF7050"/>
<rect x="948.54" y="531.05" width="7.80" height="12.40" fill="#C71585"/>
<rect x="961.58" y="530.10" width="9.60" height="96.00" fill="#0b0805"/>
<rect x="962.48" y="531.05" width="7.80" height="94.10" fill="#FF7050"/>
<rect x="975.52" y="530.10" width="9.60" height="96.00" fill="#0b0805"/>
<rect x="976.42" y="531.05" width="7.80" height="94.10" fill="#FF7050"/>
<rect x="989.46" y="530.10" width="19.20" height="96.00" fill="#0b0805"/>
<rect x="990.36" y="532.00" width="7.80" height="93.15" fill="#FF7050"/>
<rect x="990.36" y="531.05" width="7.80" height="0.05" fill="#C71585"/>
<rect x="999.96" y="624.15" width="7.80" height="1.00" fill="#D4A01F"/>
<rect x="999.96" y="532.48" width="7.80" height="90.78" fill="#FF7050"/>
<rect x="999.96" y="531.05" width="7.80" height="0.52" fill="#C71585"/>
<rect x="1013.00" y="530.10" width="9.60" height="96.00" fill="#0b0805"/>
<rect x="1013.90" y="531.05" width="7.80" height="94.10" fill="#FF7050"/>
<rect x="1026.94" y="530.10" width="268.80" height="96.00" fill="#0b0805"/>
<rect x="1027.84" y="531.05" width="7.80" height="94.10" fill="#FF7050"/>
<rect x="1037.44" y="531.05" width="7.80" height="94.10" fill="#FF7050"/>
<rect x="1047.04" y="531.05" width="7.80" height="94.10" fill="#FF7050"/>
<rect x="1056.64" y="531.05" width="7.80" height="94.10" fill="#FF7050"/>
<rect x="1066.24" y="531.05" width="7.80" height="94.10" fill="#FF7050"/>
<rect x="1075.84" y="531.05" width="7.80" height="94.10" fill="#FF7050"/>
<rect x="1085.44" y="531.05" width="7.80" height="94.10" fill="#FF7050"/>
<rect x="1095.04" y="531.05" width="7.80" height="94.10" fill="#FF7050"/>
<rect x="1104.64" y="531.05" width="7.80" height="94.10" fill="#FF7050"/>
<rect x="1114.24" y="531.05" width="7.80" height="94.10" fill="#FF7050"/>
<rect x="1123.84" y="531.05" width="7.80" height="94.10" fill="#FF7050"/>
<rect x="1133.44" y="531.05" width="7.80" height="94.10" fill="#FF7050"/>
<rect x="1143.04" y="531.05" width="7.80" height="94.10" fill="#FF7050"/>
<rect x="1152.64" y="531.05" width="7.80" height="94.10" fill="#FF7050"/>
<rect x="1162.24" y="531.05" width="7.80" height="94.10" fill="#FF7050"/>
<rect x="1171.84" y="531.05" width="7.80" height="94.10" fill="#FF7050"/>
<rect x="1181.44" y="531.05" width="7.80" height="94.10" fill="#FF7050"/>
<rect x="1191.04" y="531.05" width="7.80" height="94.10" fill="#FF7050"/>
<rect x="1200.64" y="531.05" width="7.80" height="94.10" fill="#FF7050"/>
<rect x="1210.24" y="531.05" width="7.80" height="94.10" fill="#FF7050"/>
<rect x="1219.84" y="531.05" width="7.80" height="94.10" fill="#FF7050"/>
<rect x="1229.44" y="531.05" width="7.80" height="94.10" fill="#FF7050"/>
<rect x="1239.04" y="531.05" width="7.80" height="94.10" fill="#FF7050"/>
<rect x="1248.64" y="531.05" width="7.80" height="94.10" fill="#FF7050"/>
<rect x="1258.24" y="531.05" width="7.80" height="94.10" fill="#FF7050"/>
<rect x="1267.84" y="531.05" width="7.80" height="94.10" fill="#FF7050"/>
<rect x="1277.44" y="531.05" width="7.80" height="94.10" fill="#FF7050"/>
<rect x="1287.04" y="531.05" width="7.80" height="94.10" fill="#FF7050"/>
<rect x="1300.08" y="530.10" width="19.20" height="96.00" fill="#0b0805"/>
<rect x="1300.98" y="541.50" width="7.80" height="83.65" fill="#FF7050"/>
<rect x="1300.98" y="531.05" width="7.80" height="9.55" fill="#C71585"/>
<rect x="1310.58" y="558.60" width="7.80" height="66.55" fill="#FF7050"/>
<rect x="1310.58" y="531.05" width="7.80" height="26.65" fill="#C71585"/>
<rect x="1323.62" y="530.10" width="38.40" height="96.00" fill="#0b0805"/>
<rect x="1324.52" y="618.45" width="7.80" height="6.70" fill="#D4A01F"/>
<rect x="1324.52" y="570.00" width="7.80" height="47.55" fill="#FF7050"/>
<rect x="1324.52" y="531.05" width="7.80" height="38.05" fill="#C71585"/>
<rect x="1334.12" y="625.10" width="7.80" height="0.05" fill="#D4A01F"/>
<rect x="1334.12" y="562.40" width="7.80" height="61.80" fill="#FF7050"/>
<rect x="1334.12" y="531.05" width="7.80" height="30.45" fill="#C71585"/>
<rect x="1343.72" y="563.83" width="7.80" height="60.85" fill="#FF7050"/>
<rect x="1343.72" y="531.05" width="7.80" height="31.87" fill="#C71585"/>
<rect x="1353.32" y="622.25" width="7.80" height="2.90" fill="#D4A01F"/>
<rect x="1353.32" y="566.20" width="7.80" height="55.15" fill="#FF7050"/>
<rect x="1353.32" y="531.05" width="7.80" height="34.25" fill="#C71585"/>
<rect x="1366.36" y="530.10" width="9.60" height="96.00" fill="#0b0805"/>
<rect x="1367.26" y="615.60" width="7.80" height="9.55" fill="#D4A01F"/>
<rect x="1367.26" y="562.88" width="7.80" height="51.82" fill="#FF7050"/>
<rect x="1367.26" y="531.05" width="7.80" height="30.93" fill="#C71585"/>
<rect x="1380.30" y="530.10" width="38.40" height="96.00" fill="#0b0805"/>
<rect x="1381.20" y="614.65" width="7.80" height="10.50" fill="#D4A01F"/>
<rect x="1381.20" y="561.45" width="7.80" height="52.30" fill="#FF7050"/>
<rect x="1381.20" y="531.05" width="7.80" height="29.50" fill="#C71585"/>
<rect x="1390.80" y="612.28" width="7.80" height="12.87" fill="#D4A01F"/>
<rect x="1390.80" y="558.60" width="7.80" height="52.78" fill="#FF7050"/>
<rect x="1390.80" y="531.05" width="7.80" height="26.65" fill="#C71585"/>
<rect x="1400.40" y="609.90" width="7.80" height="15.25" fill="#D4A01F"/>
<rect x="1400.40" y="559.55" width="7.80" height="49.45" fill="#FF7050"/>
<rect x="1400.40" y="531.05" width="7.80" height="27.60" fill="#C71585"/>
<rect x="1410.00" y="611.80" width="7.80" height="13.35" fill="#D4A01F"/>
<rect x="1410.00" y="562.40" width="7.80" height="48.50" fill="#FF7050"/>
<rect x="1410.00" y="531.05" width="7.80" height="30.45" fill="#C71585"/>
<rect x="1423.04" y="530.10" width="19.20" height="96.00" fill="#0b0805"/>
<rect x="1423.94" y="614.65" width="7.80" height="10.50" fill="#D4A01F"/>
<rect x="1423.94" y="551.00" width="7.80" height="62.75" fill="#FF7050"/>
<rect x="1423.94" y="531.05" width="7.80" height="19.05" fill="#C71585"/>
<rect x="1433.54" y="601.35" width="7.80" height="23.80" fill="#8B7558"/>
<rect x="1433.54" y="589.95" width="7.80" height="10.50" fill="#D4A01F"/>
<rect x="1433.54" y="543.88" width="7.80" height="45.17" fill="#FF7050"/>
<rect x="1433.54" y="531.05" width="7.80" height="11.93" fill="#C71585"/>
<rect x="1446.58" y="530.10" width="9.60" height="96.00" fill="#0b0805"/>
<rect x="1447.48" y="602.30" width="7.80" height="22.85" fill="#8B7558"/>
<rect x="1447.48" y="576.65" width="7.80" height="24.75" fill="#D4A01F"/>
<rect x="1447.48" y="543.40" width="7.80" height="32.35" fill="#FF7050"/>
<rect x="1447.48" y="531.05" width="7.80" height="11.45" fill="#C71585"/>
<rect x="1460.52" y="530.10" width="9.60" height="96.00" fill="#0b0805"/>
<rect x="1461.42" y="616.55" width="7.80" height="8.60" fill="#D4A01F"/>
<rect x="1461.42" y="549.10" width="7.80" height="66.55" fill="#FF7050"/>
<rect x="1461.42" y="531.05" width="7.80" height="17.15" fill="#C71585"/>
<rect x="1474.46" y="530.10" width="19.20" height="96.00" fill="#0b0805"/>
<rect x="1475.36" y="619.40" width="7.80" height="5.75" fill="#D4A01F"/>
<rect x="1475.36" y="550.05" width="7.80" height="68.45" fill="#FF7050"/>
<rect x="1475.36" y="531.05" width="7.80" height="18.10" fill="#C71585"/>
<rect x="1484.96" y="586.15" width="7.80" height="39.00" fill="#8B7558"/>
<rect x="1484.96" y="573.80" width="7.80" height="11.45" fill="#D4A01F"/>
<rect x="1484.96" y="533.90" width="7.80" height="39.00" fill="#FF7050"/>
<rect x="1484.96" y="531.05" width="7.80" height="1.95" fill="#C71585"/>
<rect x="1529.55" y="530.10" width="9.60" height="96.00" fill="#0b0805"/>
<rect x="1530.45" y="531.05" width="7.80" height="94.10" fill="#D4A01F"/>
<rect x="1543.49" y="530.10" width="28.80" height="96.00" fill="#0b0805"/>
<rect x="1544.39" y="531.05" width="7.80" height="94.10" fill="#FFC125"/>
<rect x="1553.99" y="531.05" width="7.80" height="94.10" fill="#FFC125"/>
<rect x="1563.59" y="531.05" width="7.80" height="94.10" fill="#FFC125"/>
<rect x="1576.63" y="530.10" width="57.60" height="96.00" fill="#0b0805"/>
<rect x="1577.53" y="531.05" width="7.80" height="94.10" fill="#FFF68F"/>
<rect x="1587.13" y="531.05" width="7.80" height="94.10" fill="#FFF68F"/>
<rect x="1596.73" y="531.05" width="7.80" height="94.10" fill="#FFF68F"/>
<rect x="1606.33" y="531.05" width="7.80" height="94.10" fill="#FFF68F"/>
<rect x="1615.93" y="531.05" width="7.80" height="94.10" fill="#FFF68F"/>
<rect x="1625.53" y="531.05" width="7.80" height="94.10" fill="#FFF68F"/>
<rect x="1638.57" y="530.10" width="28.80" height="96.00" fill="#0b0805"/>
<rect x="1639.47" y="531.05" width="7.80" height="94.10" fill="#8B7355"/>
<rect x="1649.07" y="531.05" width="7.80" height="94.10" fill="#8B7355"/>
<rect x="1658.67" y="531.05" width="7.80" height="94.10" fill="#8B7355"/>
<rect x="1671.71" y="530.10" width="9.60" height="96.00" fill="#0b0805"/>
<rect x="1672.61" y="531.05" width="7.80" height="94.10" fill="#EE82EE"/>
<rect x="1685.65" y="530.10" width="28.80" height="96.00" fill="#0b0805"/>
<rect x="1686.55" y="531.05" width="7.80" height="94.10" fill="#8B4789"/>
<rect x="1696.15" y="531.05" width="7.80" height="94.10" fill="#8B4789"/>
<rect x="1705.75" y="531.05" width="7.80" height="94.10" fill="#8B4789"/>
<rect x="1718.79" y="530.10" width="9.60" height="96.00" fill="#0b0805"/>
<rect x="1719.69" y="531.05" width="7.80" height="94.10" fill="#4876FF"/>
<rect x="1732.73" y="530.10" width="9.60" height="96.00" fill="#0b0805"/>
<rect x="1733.63" y="531.05" width="7.80" height="94.10" fill="#A9C1DE"/>
<rect x="1746.67" y="530.10" width="9.60" height="96.00" fill="#0b0805"/>
<rect x="1747.57" y="531.05" width="7.80" height="94.10" fill="#4D4D4D"/>
<rect x="1760.61" y="530.10" width="38.40" height="96.00" fill="#0b0805"/>
<rect x="1761.51" y="531.05" width="7.80" height="94.10" fill="#4D4D4D"/>
<rect x="1771.11" y="531.05" width="7.80" height="94.10" fill="#4D4D4D"/>
<rect x="1780.71" y="531.05" width="7.80" height="94.10" fill="#4D4D4D"/>
<rect x="1790.31" y="531.05" width="7.80" height="94.10" fill="#4D4D4D"/>
<path d="M1803.05 530.60H1822.85M1803.05 625.60H1822.85" stroke="#222" stroke-width="0.9" fill="none"/>
</g>
<path d="M50.10 588.00v3.4m-1.3 0h2.6M50.10 531.00v3.0m-1.3 0h2.6M59.70 584.20v3.4m-1.3 0h2.6M59.70 531.00v3.0m-1.3 0h2.6M69.30 580.02v3.4m-1.3 0h2.6M69.30 531.00v3.0m-1.3 0h2.6M78.90 581.73v3.4m-1.3 0h2.6M78.90 531.00v3.0m-1.3 0h2.6M88.50 623.15v3.4m-1.3 0h2.6M88.50 580.02v3.4m-1.3 0h2.6M88.50 531.00v3.0m-1.3 0h2.6M98.10 577.26v3.4m-1.3 0h2.6M98.10 531.00v3.0m-1.3 0h2.6M107.70 624.10v3.4m-1.3 0h2.6M107.70 578.50v3.4m-1.3 0h2.6M107.70 531.00v3.0m-1.3 0h2.6M117.30 620.30v3.4m-1.3 0h2.6M117.30 578.02v3.4m-1.3 0h2.6M117.30 531.00v3.0m-1.3 0h2.6M131.24 621.25v3.4m-1.3 0h2.6M131.24 574.23v3.4m-1.3 0h2.6M131.24 531.00v3.0m-1.3 0h2.6M145.18 616.50v3.4m-1.3 0h2.6M145.18 601.30v3.4m-1.3 0h2.6M145.18 564.25v3.4m-1.3 0h2.6M145.18 531.00v3.0m-1.3 0h2.6M154.78 618.40v3.4m-1.3 0h2.6M154.78 600.35v3.4m-1.3 0h2.6M154.78 563.30v3.4m-1.3 0h2.6M154.78 531.00v3.0m-1.3 0h2.6M164.38 613.65v3.4m-1.3 0h2.6M164.38 594.65v3.4m-1.3 0h2.6M164.38 560.45v3.4m-1.3 0h2.6M164.38 531.00v3.0m-1.3 0h2.6M178.32 590.85v3.4m-1.3 0h2.6M178.32 531.00v3.0m-1.3 0h2.6M192.26 623.15v3.4m-1.3 0h2.6M192.26 596.55v3.4m-1.3 0h2.6M192.26 531.00v3.0m-1.3 0h2.6M201.86 600.83v3.4m-1.3 0h2.6M201.86 531.00v3.0m-1.3 0h2.6M211.46 606.52v3.4m-1.3 0h2.6M211.46 531.00v3.0m-1.3 0h2.6M225.40 602.25v3.4m-1.3 0h2.6M225.40 531.00v3.0m-1.3 0h2.6M235.00 621.25v3.4m-1.3 0h2.6M235.00 607.48v3.4m-1.3 0h2.6M235.00 531.00v3.0m-1.3 0h2.6M296.94 622.67v3.4m-1.3 0h2.6M296.94 531.00v3.0m-1.3 0h2.6M306.54 623.15v3.4m-1.3 0h2.6M306.54 618.40v3.4m-1.3 0h2.6M306.54 531.00v3.0m-1.3 0h2.6M316.14 624.10v3.4m-1.3 0h2.6M316.14 531.00v3.0m-1.3 0h2.6M382.42 624.10v3.4m-1.3 0h2.6M382.42 531.00v3.0m-1.3 0h2.6M396.36 618.88v3.4m-1.3 0h2.6M396.36 531.00v3.0m-1.3 0h2.6M405.96 621.25v3.4m-1.3 0h2.6M405.96 616.50v3.4m-1.3 0h2.6M405.96 609.38v3.4m-1.3 0h2.6M405.96 531.00v3.0m-1.3 0h2.6M415.56 623.15v3.4m-1.3 0h2.6M415.56 620.77v3.4m-1.3 0h2.6M415.56 531.00v3.0m-1.3 0h2.6M429.50 624.10v3.4m-1.3 0h2.6M429.50 531.00v3.0m-1.3 0h2.6M439.10 624.58v3.4m-1.3 0h2.6M439.10 531.00v3.0m-1.3 0h2.6M448.70 531.00v3.0m-1.3 0h2.6M572.58 531.00v3.0m-1.3 0h2.6M601.38 623.15v3.4m-1.3 0h2.6M601.38 531.00v3.0m-1.3 0h2.6M620.58 614.60v3.4m-1.3 0h2.6M620.58 607.95v3.4m-1.3 0h2.6M620.58 531.00v3.0m-1.3 0h2.6M644.12 606.05v3.4m-1.3 0h2.6M644.12 582.30v3.4m-1.3 0h2.6M644.12 579.45v3.4m-1.3 0h2.6M644.12 531.00v3.0m-1.3 0h2.6M653.72 609.85v3.4m-1.3 0h2.6M653.72 585.15v3.4m-1.3 0h2.6M653.72 580.40v3.4m-1.3 0h2.6M653.72 531.00v3.0m-1.3 0h2.6M667.66 619.35v3.4m-1.3 0h2.6M667.66 607.00v3.4m-1.3 0h2.6M667.66 531.00v3.0m-1.3 0h2.6M677.26 611.27v3.4m-1.3 0h2.6M677.26 602.25v3.4m-1.3 0h2.6M677.26 531.00v3.0m-1.3 0h2.6M691.20 607.66v3.4m-1.3 0h2.6M691.20 586.29v3.4m-1.3 0h2.6M691.20 531.00v3.0m-1.3 0h2.6M700.80 603.20v3.4m-1.3 0h2.6M700.80 579.74v3.4m-1.3 0h2.6M700.80 531.00v3.0m-1.3 0h2.6M710.40 604.34v3.4m-1.3 0h2.6M710.40 581.25v3.4m-1.3 0h2.6M710.40 531.00v3.0m-1.3 0h2.6M720.00 608.14v3.4m-1.3 0h2.6M720.00 585.53v3.4m-1.3 0h2.6M720.00 531.00v3.0m-1.3 0h2.6M729.60 613.65v3.4m-1.3 0h2.6M729.60 585.53v3.4m-1.3 0h2.6M729.60 531.00v3.0m-1.3 0h2.6M739.20 611.18v3.4m-1.3 0h2.6M739.20 583.53v3.4m-1.3 0h2.6M739.20 531.00v3.0m-1.3 0h2.6M748.80 605.67v3.4m-1.3 0h2.6M748.80 580.50v3.4m-1.3 0h2.6M748.80 531.00v3.0m-1.3 0h2.6M758.40 607.66v3.4m-1.3 0h2.6M758.40 581.73v3.4m-1.3 0h2.6M758.40 531.00v3.0m-1.3 0h2.6M768.00 610.13v3.4m-1.3 0h2.6M768.00 586.76v3.4m-1.3 0h2.6M768.00 531.00v3.0m-1.3 0h2.6M777.60 609.95v3.4m-1.3 0h2.6M777.60 586.76v3.4m-1.3 0h2.6M777.60 531.00v3.0m-1.3 0h2.6M787.20 606.43v3.4m-1.3 0h2.6M787.20 581.25v3.4m-1.3 0h2.6M787.20 531.00v3.0m-1.3 0h2.6M796.80 610.71v3.4m-1.3 0h2.6M796.80 586.10v3.4m-1.3 0h2.6M796.80 531.00v3.0m-1.3 0h2.6M806.40 609.95v3.4m-1.3 0h2.6M806.40 585.05v3.4m-1.3 0h2.6M806.40 531.00v3.0m-1.3 0h2.6M894.84 623.15v3.4m-1.3 0h2.6M894.84 619.35v3.4m-1.3 0h2.6M894.84 616.50v3.4m-1.3 0h2.6M894.84 613.65v3.4m-1.3 0h2.6M894.84 532.90v3.4m-1.3 0h2.6M894.84 531.00v3.0m-1.3 0h2.6M904.44 622.20v3.4m-1.3 0h2.6M904.44 620.30v3.4m-1.3 0h2.6M904.44 617.45v3.4m-1.3 0h2.6M904.44 532.42v3.4m-1.3 0h2.6M904.44 531.00v3.0m-1.3 0h2.6M914.04 619.35v3.4m-1.3 0h2.6M914.04 540.50v3.4m-1.3 0h2.6M914.04 531.00v3.0m-1.3 0h2.6M923.64 621.25v3.4m-1.3 0h2.6M923.64 543.83v3.4m-1.3 0h2.6M923.64 531.00v3.0m-1.3 0h2.6M933.24 614.60v3.4m-1.3 0h2.6M933.24 543.35v3.4m-1.3 0h2.6M933.24 531.00v3.0m-1.3 0h2.6M942.84 616.50v3.4m-1.3 0h2.6M942.84 543.83v3.4m-1.3 0h2.6M942.84 531.00v3.0m-1.3 0h2.6M952.44 618.40v3.4m-1.3 0h2.6M952.44 544.30v3.4m-1.3 0h2.6M952.44 531.00v3.0m-1.3 0h2.6M994.26 531.95v3.4m-1.3 0h2.6M1003.86 624.10v3.4m-1.3 0h2.6M1003.86 532.42v3.4m-1.3 0h2.6M1003.86 531.00v3.0m-1.3 0h2.6M1304.88 541.45v3.4m-1.3 0h2.6M1304.88 531.00v3.0m-1.3 0h2.6M1314.48 558.55v3.4m-1.3 0h2.6M1314.48 531.00v3.0m-1.3 0h2.6M1328.42 618.40v3.4m-1.3 0h2.6M1328.42 569.95v3.4m-1.3 0h2.6M1328.42 531.00v3.0m-1.3 0h2.6M1338.02 562.35v3.4m-1.3 0h2.6M1338.02 531.00v3.0m-1.3 0h2.6M1347.62 563.77v3.4m-1.3 0h2.6M1347.62 531.00v3.0m-1.3 0h2.6M1357.22 622.20v3.4m-1.3 0h2.6M1357.22 566.15v3.4m-1.3 0h2.6M1357.22 531.00v3.0m-1.3 0h2.6M1371.16 615.55v3.4m-1.3 0h2.6M1371.16 562.83v3.4m-1.3 0h2.6M1371.16 531.00v3.0m-1.3 0h2.6M1385.10 614.60v3.4m-1.3 0h2.6M1385.10 561.40v3.4m-1.3 0h2.6M1385.10 531.00v3.0m-1.3 0h2.6M1394.70 612.23v3.4m-1.3 0h2.6M1394.70 558.55v3.4m-1.3 0h2.6M1394.70 531.00v3.0m-1.3 0h2.6M1404.30 609.85v3.4m-1.3 0h2.6M1404.30 559.50v3.4m-1.3 0h2.6M1404.30 531.00v3.0m-1.3 0h2.6M1413.90 611.75v3.4m-1.3 0h2.6M1413.90 562.35v3.4m-1.3 0h2.6M1413.90 531.00v3.0m-1.3 0h2.6M1427.84 614.60v3.4m-1.3 0h2.6M1427.84 550.95v3.4m-1.3 0h2.6M1427.84 531.00v3.0m-1.3 0h2.6M1437.44 601.30v3.4m-1.3 0h2.6M1437.44 589.90v3.4m-1.3 0h2.6M1437.44 543.83v3.4m-1.3 0h2.6M1437.44 531.00v3.0m-1.3 0h2.6M1451.38 602.25v3.4m-1.3 0h2.6M1451.38 576.60v3.4m-1.3 0h2.6M1451.38 543.35v3.4m-1.3 0h2.6M1451.38 531.00v3.0m-1.3 0h2.6M1465.32 616.50v3.4m-1.3 0h2.6M1465.32 549.05v3.4m-1.3 0h2.6M1465.32 531.00v3.0m-1.3 0h2.6M1479.26 619.35v3.4m-1.3 0h2.6M1479.26 550.00v3.4m-1.3 0h2.6M1479.26 531.00v3.0m-1.3 0h2.6M1488.86 586.10v3.4m-1.3 0h2.6M1488.86 573.75v3.4m-1.3 0h2.6M1488.86 533.85v3.4m-1.3 0h2.6M1488.86 531.00v3.0m-1.3 0h2.6" stroke="#1a1206" stroke-width="0.9" fill="none"/>
<path d="M247.14 523.48l3.6 3.6m0 -3.6l-3.6 3.6M256.74 523.48l3.6 3.6m0 -3.6l-3.6 3.6M266.34 523.48l3.6 3.6m0 -3.6l-3.6 3.6M275.94 523.48l3.6 3.6m0 -3.6l-3.6 3.6M285.54 523.48l3.6 3.6m0 -3.6l-3.6 3.6M850.30 523.48l3.6 3.6m0 -3.6l-3.6 3.6M859.90 523.48l3.6 3.6m0 -3.6l-3.6 3.6M869.50 523.48l3.6 3.6m0 -3.6l-3.6 3.6M879.10 523.48l3.6 3.6m0 -3.6l-3.6 3.6M1532.55 523.48l3.6 3.6m0 -3.6l-3.6 3.6M1546.49 523.48l3.6 3.6m0 -3.6l-3.6 3.6M1556.09 523.48l3.6 3.6m0 -3.6l-3.6 3.6M1565.69 523.48l3.6 3.6m0 -3.6l-3.6 3.6M1579.63 523.48l3.6 3.6m0 -3.6l-3.6 3.6M1589.23 523.48l3.6 3.6m0 -3.6l-3.6 3.6M1598.83 523.48l3.6 3.6m0 -3.6l-3.6 3.6M1608.43 523.48l3.6 3.6m0 -3.6l-3.6 3.6M1618.03 523.48l3.6 3.6m0 -3.6l-3.6 3.6M1627.63 523.48l3.6 3.6m0 -3.6l-3.6 3.6M1641.57 523.48l3.6 3.6m0 -3.6l-3.6 3.6M1651.17 523.48l3.6 3.6m0 -3.6l-3.6 3.6M1660.77 523.48l3.6 3.6m0 -3.6l-3.6 3.6M1674.71 523.48l3.6 3.6m0 -3.6l-3.6 3.6M1688.65 523.48l3.6 3.6m0 -3.6l-3.6 3.6M1698.25 523.48l3.6 3.6m0 -3.6l-3.6 3.6M1707.85 523.48l3.6 3.6m0 -3.6l-3.6 3.6M1721.79 523.48l3.6 3.6m0 -3.6l-3.6 3.6M1735.73 523.48l3.6 3.6m0 -3.6l-3.6 3.6M1749.67 523.48l3.6 3.6m0 -3.6l-3.6 3.6M1763.61 523.48l3.6 3.6m0 -3.6l-3.6 3.6M1773.21 523.48l3.6 3.6m0 -3.6l-3.6 3.6M1782.81 523.48l3.6 3.6m0 -3.6l-3.6 3.6M1792.41 523.48l3.6 3.6m0 -3.6l-3.6 3.6" stroke="#000" stroke-width="1.45" fill="none"/>
<g font-family="Liberation Sans, Arial, Helvetica, sans-serif" font-size="12.5" fill="#4d4d4d" text-anchor="end">
<text x="36.5" y="535.0">1.00</text>
<line x1="38" y1="530.60" x2="44.2" y2="530.60" stroke="#222" stroke-width="1.1"/>
<text x="36.5" y="558.8">0.75</text>
<line x1="38" y1="554.35" x2="44.2" y2="554.35" stroke="#222" stroke-width="1.1"/>
<text x="36.5" y="582.5">0.50</text>
<line x1="38" y1="578.10" x2="44.2" y2="578.10" stroke="#222" stroke-width="1.1"/>
<text x="36.5" y="606.2">0.25</text>
<line x1="38" y1="601.85" x2="44.2" y2="601.85" stroke="#222" stroke-width="1.1"/>
<text x="36.5" y="630.0">0.00</text>
<line x1="38" y1="625.60" x2="44.2" y2="625.60" stroke="#222" stroke-width="1.1"/>
</g>
<text font-family="Liberation Sans, Arial, Helvetica, sans-serif" font-size="12.5" fill="#1a1a1a" text-anchor="middle" transform="translate(1831.5,577.9) rotate(90)">hgEur1</text>
<g>
<rect x="44.50" y="638.70" width="78.40" height="114.50" fill="#fff" stroke="#d6d6d6" stroke-width="0.9"/>
<rect x="125.64" y="638.70" width="11.20" height="114.50" fill="#fff" stroke="#d6d6d6" stroke-width="0.9"/>
<rect x="139.58" y="638.70" width="30.40" height="114.50" fill="#fff" stroke="#d6d6d6" stroke-width="0.9"/>
<rect x="172.72" y="638.70" width="11.20" height="114.50" fill="#fff" stroke="#d6d6d6" stroke-width="0.9"/>
<rect x="186.66" y="638.70" width="30.40" height="114.50" fill="#fff" stroke="#d6d6d6" stroke-width="0.9"/>
<rect x="219.80" y="638.70" width="20.80" height="114.50" fill="#fff" stroke="#d6d6d6" stroke-width="0.9"/>
<rect x="243.34" y="638.70" width="78.40" height="114.50" fill="#fff" stroke="#d6d6d6" stroke-width="0.9"/>
<rect x="324.48" y="638.70" width="49.60" height="114.50" fill="#fff" stroke="#d6d6d6" stroke-width="0.9"/>
<rect x="376.82" y="638.70" width="11.20" height="114.50" fill="#fff" stroke="#d6d6d6" stroke-width="0.9"/>
<rect x="390.76" y="638.70" width="30.40" height="114.50" fill="#fff" stroke="#d6d6d6" stroke-width="0.9"/>
<rect x="423.90" y="638.70" width="30.40" height="114.50" fill="#fff" stroke="#d6d6d6" stroke-width="0.9"/>
<rect x="457.04" y="638.70" width="97.60" height="114.50" fill="#fff" stroke="#d6d6d6" stroke-width="0.9"/>
<rect x="557.38" y="638.70" width="78.40" height="114.50" fill="#fff" stroke="#d6d6d6" stroke-width="0.9"/>
<rect x="638.52" y="638.70" width="20.80" height="114.50" fill="#fff" stroke="#d6d6d6" stroke-width="0.9"/>
<rect x="662.06" y="638.70" width="20.80" height="114.50" fill="#fff" stroke="#d6d6d6" stroke-width="0.9"/>
<rect x="685.60" y="638.70" width="126.40" height="114.50" fill="#fff" stroke="#d6d6d6" stroke-width="0.9"/>
<rect x="846.50" y="638.70" width="40.00" height="114.50" fill="#fff" stroke="#d6d6d6" stroke-width="0.9"/>
<rect x="889.24" y="638.70" width="68.80" height="114.50" fill="#fff" stroke="#d6d6d6" stroke-width="0.9"/>
<rect x="960.78" y="638.70" width="11.20" height="114.50" fill="#fff" stroke="#d6d6d6" stroke-width="0.9"/>
<rect x="974.72" y="638.70" width="11.20" height="114.50" fill="#fff" stroke="#d6d6d6" stroke-width="0.9"/>
<rect x="988.66" y="638.70" width="20.80" height="114.50" fill="#fff" stroke="#d6d6d6" stroke-width="0.9"/>
<rect x="1012.20" y="638.70" width="11.20" height="114.50" fill="#fff" stroke="#d6d6d6" stroke-width="0.9"/>
<rect x="1026.14" y="638.70" width="270.40" height="114.50" fill="#fff" stroke="#d6d6d6" stroke-width="0.9"/>
<rect x="1299.28" y="638.70" width="20.80" height="114.50" fill="#fff" stroke="#d6d6d6" stroke-width="0.9"/>
<rect x="1322.82" y="638.70" width="40.00" height="114.50" fill="#fff" stroke="#d6d6d6" stroke-width="0.9"/>
<rect x="1365.56" y="638.70" width="11.20" height="114.50" fill="#fff" stroke="#d6d6d6" stroke-width="0.9"/>
<rect x="1379.50" y="638.70" width="40.00" height="114.50" fill="#fff" stroke="#d6d6d6" stroke-width="0.9"/>
<rect x="1422.24" y="638.70" width="20.80" height="114.50" fill="#fff" stroke="#d6d6d6" stroke-width="0.9"/>
<rect x="1445.78" y="638.70" width="11.20" height="114.50" fill="#fff" stroke="#d6d6d6" stroke-width="0.9"/>
<rect x="1459.72" y="638.70" width="11.20" height="114.50" fill="#fff" stroke="#d6d6d6" stroke-width="0.9"/>
<rect x="1473.66" y="638.70" width="20.80" height="114.50" fill="#fff" stroke="#d6d6d6" stroke-width="0.9"/>
<rect x="1528.75" y="638.70" width="11.20" height="114.50" fill="#fff" stroke="#d6d6d6" stroke-width="0.9"/>
<rect x="1542.69" y="638.70" width="30.40" height="114.50" fill="#fff" stroke="#d6d6d6" stroke-width="0.9"/>
<rect x="1575.83" y="638.70" width="59.20" height="114.50" fill="#fff" stroke="#d6d6d6" stroke-width="0.9"/>
<rect x="1637.77" y="638.70" width="30.40" height="114.50" fill="#fff" stroke="#d6d6d6" stroke-width="0.9"/>
<rect x="1670.91" y="638.70" width="11.20" height="114.50" fill="#fff" stroke="#d6d6d6" stroke-width="0.9"/>
<rect x="1684.85" y="638.70" width="30.40" height="114.50" fill="#fff" stroke="#d6d6d6" stroke-width="0.9"/>
<rect x="1717.99" y="638.70" width="11.20" height="114.50" fill="#fff" stroke="#d6d6d6" stroke-width="0.9"/>
<rect x="1731.93" y="638.70" width="11.20" height="114.50" fill="#fff" stroke="#d6d6d6" stroke-width="0.9"/>
<rect x="1745.87" y="638.70" width="11.20" height="114.50" fill="#fff" stroke="#d6d6d6" stroke-width="0.9"/>
<rect x="1759.81" y="638.70" width="40.00" height="114.50" fill="#fff" stroke="#d6d6d6" stroke-width="0.9"/>
<rect x="1802.55" y="638.70" width="20.80" height="114.50" fill="#fff" stroke="#d6d6d6" stroke-width="0.9"/>
</g>
<g shape-rendering="auto">
<rect x="45.30" y="648.20" width="76.80" height="96.00" fill="#0b0805"/>
<rect x="46.20" y="693.14" width="7.80" height="50.11" fill="#D5583D"/>
<rect x="46.20" y="684.49" width="7.80" height="7.74" fill="#FF7050"/>
<rect x="46.20" y="649.15" width="7.80" height="34.44" fill="#C71585"/>
<rect x="55.80" y="689.43" width="7.80" height="53.82" fill="#D5583D"/>
<rect x="55.80" y="678.98" width="7.80" height="9.55" fill="#FF7050"/>
<rect x="55.80" y="649.15" width="7.80" height="28.93" fill="#C71585"/>
<rect x="65.40" y="682.02" width="7.80" height="61.23" fill="#D5583D"/>
<rect x="65.40" y="672.05" width="7.80" height="9.08" fill="#FF7050"/>
<rect x="65.40" y="649.15" width="7.80" height="21.99" fill="#C71585"/>
<rect x="75.00" y="686.20" width="7.80" height="57.05" fill="#D5583D"/>
<rect x="75.00" y="676.23" width="7.80" height="9.07" fill="#FF7050"/>
<rect x="75.00" y="649.15" width="7.80" height="26.18" fill="#C71585"/>
<rect x="84.60" y="680.79" width="7.80" height="62.47" fill="#D5583D"/>
<rect x="84.60" y="675.28" width="7.80" height="4.61" fill="#FF7050"/>
<rect x="84.60" y="665.30" width="7.80" height="9.08" fill="#FF1C9C"/>
<rect x="84.60" y="649.15" width="7.80" height="15.25" fill="#C71585"/>
<rect x="94.20" y="681.26" width="7.80" height="61.99" fill="#D5583D"/>
<rect x="94.20" y="669.58" width="7.80" height="10.79" fill="#FF7050"/>
<rect x="94.20" y="649.15" width="7.80" height="19.52" fill="#C71585"/>
<rect x="103.80" y="683.73" width="7.80" height="59.52" fill="#D5583D"/>
<rect x="103.80" y="673.28" width="7.80" height="9.55" fill="#FF7050"/>
<rect x="103.80" y="649.15" width="7.80" height="23.23" fill="#C71585"/>
<rect x="113.40" y="680.79" width="7.80" height="62.47" fill="#D5583D"/>
<rect x="113.40" y="675.75" width="7.80" height="4.13" fill="#FF7050"/>
<rect x="113.40" y="668.15" width="7.80" height="6.70" fill="#FF1C9C"/>
<rect x="113.40" y="649.15" width="7.80" height="18.10" fill="#C71585"/>
<rect x="126.44" y="648.20" width="9.60" height="96.00" fill="#0b0805"/>
<rect x="127.34" y="685.25" width="7.80" height="58.00" fill="#D5583D"/>
<rect x="127.34" y="671.48" width="7.80" height="12.87" fill="#FF7050"/>
<rect x="127.34" y="649.15" width="7.80" height="21.43" fill="#C71585"/>
<rect x="140.38" y="648.20" width="28.80" height="96.00" fill="#0b0805"/>
<rect x="141.28" y="729.43" width="7.80" height="13.83" fill="#8B7558"/>
<rect x="141.28" y="672.90" width="7.80" height="55.62" fill="#D5583D"/>
<rect x="141.28" y="665.30" width="7.80" height="6.70" fill="#FF7050"/>
<rect x="141.28" y="649.15" width="7.80" height="15.25" fill="#C71585"/>
<rect x="150.88" y="732.75" width="7.80" height="10.50" fill="#8B7558"/>
<rect x="150.88" y="728.48" width="7.80" height="3.37" fill="#FFC125"/>
<rect x="150.88" y="671.00" width="7.80" height="56.58" fill="#D5583D"/>
<rect x="150.88" y="664.35" width="7.80" height="5.75" fill="#FF7050"/>
<rect x="150.88" y="649.15" width="7.80" height="14.30" fill="#C71585"/>
<rect x="160.48" y="728.48" width="7.80" height="14.77" fill="#8B7558"/>
<rect x="160.48" y="721.83" width="7.80" height="5.75" fill="#FFC125"/>
<rect x="160.48" y="669.10" width="7.80" height="51.82" fill="#D5583D"/>
<rect x="160.48" y="662.93" width="7.80" height="5.28" fill="#FF7050"/>
<rect x="160.48" y="649.15" width="7.80" height="12.87" fill="#C71585"/>
<rect x="173.52" y="648.20" width="9.60" height="96.00" fill="#0b0805"/>
<rect x="174.42" y="705.68" width="7.80" height="37.58" fill="#D5583D"/>
<rect x="174.42" y="692.85" width="7.80" height="11.92" fill="#FF7050"/>
<rect x="174.42" y="649.15" width="7.80" height="42.80" fill="#C71585"/>
<rect x="187.46" y="648.20" width="28.80" height="96.00" fill="#0b0805"/>
<rect x="188.36" y="705.20" width="7.80" height="38.05" fill="#D5583D"/>
<rect x="188.36" y="701.88" width="7.80" height="2.42" fill="#FF7050"/>
<rect x="188.36" y="649.15" width="7.80" height="51.83" fill="#C71585"/>
<rect x="197.96" y="715.65" width="7.80" height="27.60" fill="#D5583D"/>
<rect x="197.96" y="707.58" width="7.80" height="7.18" fill="#FF7050"/>
<rect x="197.96" y="649.15" width="7.80" height="57.52" fill="#C71585"/>
<rect x="207.56" y="715.18" width="7.80" height="28.08" fill="#D5583D"/>
<rect x="207.56" y="712.80" width="7.80" height="1.48" fill="#FF7050"/>
<rect x="207.56" y="649.15" width="7.80" height="62.75" fill="#C71585"/>
<rect x="220.60" y="648.20" width="19.20" height="96.00" fill="#0b0805"/>
<rect x="221.50" y="714.23" width="7.80" height="29.02" fill="#D5583D"/>
<rect x="221.50" y="707.10" width="7.80" height="6.22" fill="#FF7050"/>
<rect x="221.50" y="649.15" width="7.80" height="57.05" fill="#C71585"/>
<rect x="231.10" y="742.25" width="7.80" height="1.00" fill="#3A3030"/>
<rect x="231.10" y="721.35" width="7.80" height="20.00" fill="#D5583D"/>
<rect x="231.10" y="718.50" width="7.80" height="1.95" fill="#FF7050"/>
<rect x="231.10" y="649.15" width="7.80" height="68.45" fill="#C71585"/>
<rect x="244.14" y="648.20" width="76.80" height="96.00" fill="#0b0805"/>
<rect x="245.04" y="649.15" width="7.80" height="94.10" fill="#C71585"/>
<rect x="254.64" y="649.15" width="7.80" height="94.10" fill="#C71585"/>
<rect x="264.24" y="649.15" width="7.80" height="94.10" fill="#C71585"/>
<rect x="273.84" y="649.15" width="7.80" height="94.10" fill="#C71585"/>
<rect x="283.44" y="649.15" width="7.80" height="94.10" fill="#C71585"/>
<rect x="293.04" y="740.83" width="7.80" height="2.43" fill="#4876FF"/>
<rect x="293.04" y="649.15" width="7.80" height="90.77" fill="#C71585"/>
<rect x="302.64" y="739.88" width="7.80" height="3.37" fill="#FFC125"/>
<rect x="302.64" y="738.45" width="7.80" height="0.53" fill="#D4A01F"/>
<rect x="302.64" y="727.05" width="7.80" height="10.50" fill="#FF1C9C"/>
<rect x="302.64" y="649.15" width="7.80" height="77.00" fill="#C71585"/>
<rect x="312.24" y="742.25" width="7.80" height="1.00" fill="#4876FF"/>
<rect x="312.24" y="649.15" width="7.80" height="92.20" fill="#C71585"/>
<rect x="325.28" y="648.20" width="48.00" height="96.00" fill="#0b0805"/>
<rect x="326.18" y="649.15" width="7.80" height="94.10" fill="#C71585"/>
<rect x="335.78" y="649.15" width="7.80" height="94.10" fill="#C71585"/>
<rect x="345.38" y="649.15" width="7.80" height="94.10" fill="#C71585"/>
<rect x="354.98" y="649.15" width="7.80" height="94.10" fill="#C71585"/>
<rect x="364.58" y="649.15" width="7.80" height="94.10" fill="#C71585"/>
<rect x="377.62" y="648.20" width="9.60" height="96.00" fill="#0b0805"/>
<rect x="378.52" y="741.78" width="7.80" height="1.48" fill="#3A3030"/>
<rect x="378.52" y="649.15" width="7.80" height="91.72" fill="#C71585"/>
<rect x="391.56" y="648.20" width="28.80" height="96.00" fill="#0b0805"/>
<rect x="392.46" y="737.50" width="7.80" height="5.75" fill="#FF7050"/>
<rect x="392.46" y="649.15" width="7.80" height="87.45" fill="#C71585"/>
<rect x="402.06" y="737.50" width="7.80" height="5.75" fill="#FFC125"/>
<rect x="402.06" y="728.00" width="7.80" height="8.60" fill="#D5583D"/>
<rect x="402.06" y="712.80" width="7.80" height="14.30" fill="#FF1C9C"/>
<rect x="402.06" y="649.15" width="7.80" height="62.75" fill="#C71585"/>
<rect x="411.66" y="740.35" width="7.80" height="2.90" fill="#FFC125"/>
<rect x="411.66" y="739.40" width="7.80" height="0.05" fill="#3A3030"/>
<rect x="411.66" y="734.65" width="7.80" height="3.85" fill="#FF1C9C"/>
<rect x="411.66" y="649.15" width="7.80" height="84.60" fill="#C71585"/>
<rect x="424.70" y="648.20" width="28.80" height="96.00" fill="#0b0805"/>
<rect x="425.60" y="742.25" width="7.80" height="1.00" fill="#D4A01F"/>
<rect x="425.60" y="649.15" width="7.80" height="92.20" fill="#C71585"/>
<rect x="435.20" y="742.73" width="7.80" height="0.52" fill="#D4A01F"/>
<rect x="435.20" y="649.15" width="7.80" height="92.68" fill="#C71585"/>
<rect x="444.80" y="743.20" width="7.80" height="0.05" fill="#D4A01F"/>
<rect x="444.80" y="649.15" width="7.80" height="93.15" fill="#C71585"/>
<rect x="457.84" y="648.20" width="96.00" height="96.00" fill="#0b0805"/>
<rect x="458.74" y="649.15" width="7.80" height="94.10" fill="#C71585"/>
<rect x="468.34" y="649.15" width="7.80" height="94.10" fill="#C71585"/>
<rect x="477.94" y="649.15" width="7.80" height="94.10" fill="#C71585"/>
<rect x="487.54" y="649.15" width="7.80" height="94.10" fill="#C71585"/>
<rect x="497.14" y="649.15" width="7.80" height="94.10" fill="#C71585"/>
<rect x="506.74" y="649.15" width="7.80" height="94.10" fill="#C71585"/>
<rect x="516.34" y="649.15" width="7.80" height="94.10" fill="#C71585"/>
<rect x="525.94" y="649.15" width="7.80" height="94.10" fill="#C71585"/>
<rect x="535.54" y="649.15" width="7.80" height="94.10" fill="#C71585"/>
<rect x="545.14" y="649.15" width="7.80" height="94.10" fill="#C71585"/>
<rect x="558.18" y="648.20" width="76.80" height="96.00" fill="#0b0805"/>
<rect x="559.08" y="649.15" width="7.80" height="94.10" fill="#C71585"/>
<rect x="568.68" y="649.15" width="7.80" height="93.62" fill="#C71585"/>
<rect x="578.28" y="649.15" width="7.80" height="94.10" fill="#C71585"/>
<rect x="587.88" y="649.15" width="7.80" height="94.10" fill="#C71585"/>
<rect x="597.48" y="741.30" width="7.80" height="1.95" fill="#FF7050"/>
<rect x="597.48" y="649.15" width="7.80" height="91.25" fill="#C71585"/>
<rect x="607.08" y="649.15" width="7.80" height="94.10" fill="#C71585"/>
<rect x="616.68" y="731.80" width="7.80" height="11.45" fill="#FFC125"/>
<rect x="616.68" y="725.15" width="7.80" height="5.75" fill="#D4A01F"/>
<rect x="616.68" y="649.15" width="7.80" height="75.10" fill="#C71585"/>
<rect x="626.28" y="649.15" width="7.80" height="94.10" fill="#C71585"/>
<rect x="639.32" y="648.20" width="19.20" height="96.00" fill="#0b0805"/>
<rect x="640.22" y="740.35" width="7.80" height="2.90" fill="#4876FF"/>
<rect x="640.22" y="716.60" width="7.80" height="22.85" fill="#FFC125"/>
<rect x="640.22" y="707.58" width="7.80" height="8.13" fill="#D4A01F"/>
<rect x="640.22" y="649.15" width="7.80" height="57.52" fill="#FF1C9C"/>
<rect x="649.82" y="740.35" width="7.80" height="2.90" fill="#4876FF"/>
<rect x="649.82" y="724.20" width="7.80" height="15.25" fill="#FFC125"/>
<rect x="649.82" y="710.43" width="7.80" height="12.87" fill="#D4A01F"/>
<rect x="649.82" y="649.15" width="7.80" height="60.37" fill="#FF1C9C"/>
<rect x="662.86" y="648.20" width="19.20" height="96.00" fill="#0b0805"/>
<rect x="663.76" y="649.15" width="7.80" height="94.10" fill="#FF1C9C"/>
<rect x="673.36" y="649.15" width="7.80" height="94.10" fill="#FF1C9C"/>
<rect x="686.40" y="648.20" width="124.80" height="96.00" fill="#0b0805"/>
<rect x="687.30" y="739.40" width="7.80" height="3.85" fill="#D4A01F"/>
<rect x="687.30" y="711.09" width="7.80" height="27.41" fill="#D5583D"/>
<rect x="687.30" y="649.15" width="7.80" height="61.04" fill="#FF1C9C"/>
<rect x="696.90" y="734.65" width="7.80" height="8.60" fill="#D4A01F"/>
<rect x="696.90" y="700.64" width="7.80" height="33.11" fill="#D5583D"/>
<rect x="696.90" y="649.15" width="7.80" height="50.59" fill="#FF1C9C"/>
<rect x="706.50" y="736.55" width="7.80" height="6.70" fill="#D4A01F"/>
<rect x="706.50" y="702.64" width="7.80" height="33.01" fill="#D5583D"/>
<rect x="706.50" y="649.15" width="7.80" height="52.59" fill="#FF1C9C"/>
<rect x="716.10" y="740.83" width="7.80" height="2.43" fill="#D4A01F"/>
<rect x="716.10" y="708.05" width="7.80" height="31.87" fill="#D5583D"/>
<rect x="716.10" y="649.15" width="7.80" height="58.00" fill="#FF1C9C"/>
<rect x="725.70" y="705.20" width="7.80" height="38.05" fill="#D5583D"/>
<rect x="725.70" y="649.15" width="7.80" height="55.15" fill="#FF1C9C"/>
<rect x="735.30" y="703.59" width="7.80" height="39.67" fill="#D5583D"/>
<rect x="735.30" y="649.15" width="7.80" height="53.53" fill="#FF1C9C"/>
<rect x="744.90" y="739.40" width="7.80" height="3.85" fill="#D4A01F"/>
<rect x="744.90" y="703.11" width="7.80" height="35.39" fill="#D5583D"/>
<rect x="744.90" y="649.15" width="7.80" height="53.06" fill="#FF1C9C"/>
<rect x="754.50" y="740.35" width="7.80" height="2.90" fill="#D4A01F"/>
<rect x="754.50" y="704.35" width="7.80" height="35.11" fill="#D5583D"/>
<rect x="754.50" y="649.15" width="7.80" height="54.29" fill="#FF1C9C"/>
<rect x="764.10" y="742.25" width="7.80" height="1.00" fill="#D4A01F"/>
<rect x="764.10" y="710.62" width="7.80" height="30.73" fill="#D5583D"/>
<rect x="764.10" y="649.15" width="7.80" height="60.57" fill="#FF1C9C"/>
<rect x="773.70" y="710.05" width="7.80" height="33.21" fill="#D5583D"/>
<rect x="773.70" y="649.15" width="7.80" height="59.99" fill="#FF1C9C"/>
<rect x="783.30" y="743.20" width="7.80" height="0.05" fill="#D4A01F"/>
<rect x="783.30" y="702.64" width="7.80" height="39.66" fill="#D5583D"/>
<rect x="783.30" y="649.15" width="7.80" height="52.59" fill="#FF1C9C"/>
<rect x="792.90" y="738.45" width="7.80" height="4.80" fill="#D4A01F"/>
<rect x="792.90" y="708.62" width="7.80" height="28.93" fill="#D5583D"/>
<rect x="792.90" y="649.15" width="7.80" height="58.57" fill="#FF1C9C"/>
<rect x="802.50" y="707.58" width="7.80" height="35.68" fill="#D5583D"/>
<rect x="802.50" y="649.15" width="7.80" height="57.52" fill="#FF1C9C"/>
<rect x="847.30" y="648.20" width="38.40" height="96.00" fill="#0b0805"/>
<rect x="848.20" y="649.15" width="7.80" height="94.10" fill="#FF7050"/>
<rect x="857.80" y="649.15" width="7.80" height="94.10" fill="#FF7050"/>
<rect x="867.40" y="649.15" width="7.80" height="94.10" fill="#FF7050"/>
<rect x="877.00" y="649.15" width="7.80" height="94.10" fill="#FF7050"/>
<rect x="890.04" y="648.20" width="67.20" height="96.00" fill="#0b0805"/>
<rect x="890.94" y="742.25" width="7.80" height="1.00" fill="#4876FF"/>
<rect x="890.94" y="739.40" width="7.80" height="1.95" fill="#3A3030"/>
<rect x="890.94" y="732.75" width="7.80" height="5.75" fill="#8B7558"/>
<rect x="890.94" y="729.90" width="7.80" height="1.95" fill="#3A3030"/>
<rect x="890.94" y="650.58" width="7.80" height="78.43" fill="#FF7050"/>
<rect x="890.94" y="649.15" width="7.80" height="0.52" fill="#C71585"/>
<rect x="900.54" y="741.30" width="7.80" height="1.95" fill="#3A3030"/>
<rect x="900.54" y="737.50" width="7.80" height="2.90" fill="#8B7558"/>
<rect x="900.54" y="735.60" width="7.80" height="1.00" fill="#FFC125"/>
<rect x="900.54" y="650.10" width="7.80" height="84.60" fill="#FF7050"/>
<rect x="900.54" y="649.15" width="7.80" height="0.05" fill="#C71585"/>
<rect x="910.14" y="742.25" width="7.80" height="1.00" fill="#3A3030"/>
<rect x="910.14" y="716.60" width="7.80" height="24.75" fill="#D5583D"/>
<rect x="910.14" y="650.58" width="7.80" height="65.13" fill="#FF7050"/>
<rect x="910.14" y="649.15" width="7.80" height="0.52" fill="#C71585"/>
<rect x="919.74" y="706.63" width="7.80" height="36.62" fill="#D5583D"/>
<rect x="919.74" y="650.10" width="7.80" height="55.62" fill="#FF7050"/>
<rect x="919.74" y="649.15" width="7.80" height="0.05" fill="#C71585"/>
<rect x="929.34" y="740.35" width="7.80" height="2.90" fill="#FFC125"/>
<rect x="929.34" y="709.00" width="7.80" height="30.45" fill="#D5583D"/>
<rect x="929.34" y="652.00" width="7.80" height="56.10" fill="#FF7050"/>
<rect x="929.34" y="649.15" width="7.80" height="1.95" fill="#FF1C9C"/>
<rect x="938.94" y="741.78" width="7.80" height="1.48" fill="#FFC125"/>
<rect x="938.94" y="700.93" width="7.80" height="39.95" fill="#D5583D"/>
<rect x="938.94" y="650.10" width="7.80" height="49.92" fill="#FF7050"/>
<rect x="938.94" y="649.15" width="7.80" height="0.05" fill="#C71585"/>
<rect x="948.54" y="707.10" width="7.80" height="36.15" fill="#D5583D"/>
<rect x="948.54" y="652.00" width="7.80" height="54.20" fill="#FF7050"/>
<rect x="948.54" y="649.15" width="7.80" height="1.95" fill="#FF1C9C"/>
<rect x="961.58" y="648.20" width="9.60" height="96.00" fill="#0b0805"/>
<rect x="962.48" y="740.83" width="7.80" height="2.43" fill="#D5583D"/>
<rect x="962.48" y="649.15" width="7.80" height="90.77" fill="#FF7050"/>
<rect x="975.52" y="648.20" width="9.60" height="96.00" fill="#0b0805"/>
<rect x="976.42" y="649.15" width="7.80" height="94.10" fill="#FF7050"/>
<rect x="989.46" y="648.20" width="19.20" height="96.00" fill="#0b0805"/>
<rect x="990.36" y="738.45" width="7.80" height="4.80" fill="#D5583D"/>
<rect x="990.36" y="649.15" width="7.80" height="88.40" fill="#FF7050"/>
<rect x="999.96" y="732.28" width="7.80" height="10.97" fill="#D5583D"/>
<rect x="999.96" y="649.15" width="7.80" height="82.22" fill="#FF7050"/>
<rect x="1013.00" y="648.20" width="9.60" height="96.00" fill="#0b0805"/>
<rect x="1013.90" y="649.15" width="7.80" height="94.10" fill="#FF7050"/>
<rect x="1026.94" y="648.20" width="268.80" height="96.00" fill="#0b0805"/>
<rect x="1027.84" y="735.13" width="7.80" height="8.12" fill="#D5583D"/>
<rect x="1027.84" y="649.15" width="7.80" height="85.08" fill="#FF7050"/>
<rect x="1037.44" y="741.30" width="7.80" height="1.95" fill="#D5583D"/>
<rect x="1037.44" y="649.15" width="7.80" height="91.25" fill="#FF7050"/>
<rect x="1047.04" y="736.55" width="7.80" height="6.70" fill="#D5583D"/>
<rect x="1047.04" y="649.15" width="7.80" height="86.50" fill="#FF7050"/>
<rect x="1056.64" y="737.98" width="7.80" height="5.27" fill="#D5583D"/>
<rect x="1056.64" y="649.15" width="7.80" height="87.93" fill="#FF7050"/>
<rect x="1066.24" y="649.15" width="7.80" height="94.10" fill="#FF7050"/>
<rect x="1075.84" y="739.40" width="7.80" height="3.85" fill="#D5583D"/>
<rect x="1075.84" y="649.15" width="7.80" height="89.35" fill="#FF7050"/>
<rect x="1085.44" y="649.15" width="7.80" height="94.10" fill="#FF7050"/>
<rect x="1095.04" y="649.15" width="7.80" height="94.10" fill="#FF7050"/>
<rect x="1104.64" y="649.15" width="7.80" height="94.10" fill="#FF7050"/>
<rect x="1114.24" y="649.15" width="7.80" height="94.10" fill="#FF7050"/>
<rect x="1123.84" y="649.15" width="7.80" height="94.10" fill="#FF7050"/>
<rect x="1133.44" y="649.15" width="7.80" height="94.10" fill="#FF7050"/>
<rect x="1143.04" y="649.15" width="7.80" height="94.10" fill="#FF7050"/>
<rect x="1152.64" y="649.15" width="7.80" height="94.10" fill="#FF7050"/>
<rect x="1162.24" y="649.15" width="7.80" height="94.10" fill="#FF7050"/>
<rect x="1171.84" y="649.15" width="7.80" height="94.10" fill="#FF7050"/>
<rect x="1181.44" y="649.15" width="7.80" height="94.10" fill="#FF7050"/>
<rect x="1191.04" y="733.70" width="7.80" height="9.55" fill="#D5583D"/>
<rect x="1191.04" y="649.15" width="7.80" height="83.65" fill="#FF7050"/>
<rect x="1200.64" y="649.15" width="7.80" height="94.10" fill="#FF7050"/>
<rect x="1210.24" y="742.25" width="7.80" height="1.00" fill="#D5583D"/>
<rect x="1210.24" y="649.15" width="7.80" height="92.20" fill="#FF7050"/>
<rect x="1219.84" y="739.88" width="7.80" height="3.37" fill="#D5583D"/>
<rect x="1219.84" y="649.15" width="7.80" height="89.83" fill="#FF7050"/>
<rect x="1229.44" y="649.15" width="7.80" height="94.10" fill="#FF7050"/>
<rect x="1239.04" y="649.15" width="7.80" height="94.10" fill="#FF7050"/>
<rect x="1248.64" y="739.40" width="7.80" height="3.85" fill="#D5583D"/>
<rect x="1248.64" y="649.15" width="7.80" height="89.35" fill="#FF7050"/>
<rect x="1258.24" y="649.15" width="7.80" height="94.10" fill="#FF7050"/>
<rect x="1267.84" y="736.55" width="7.80" height="6.70" fill="#D5583D"/>
<rect x="1267.84" y="649.15" width="7.80" height="86.50" fill="#FF7050"/>
<rect x="1277.44" y="738.45" width="7.80" height="4.80" fill="#D5583D"/>
<rect x="1277.44" y="649.15" width="7.80" height="88.40" fill="#FF7050"/>
<rect x="1287.04" y="649.15" width="7.80" height="94.10" fill="#FF7050"/>
<rect x="1300.08" y="648.20" width="19.20" height="96.00" fill="#0b0805"/>
<rect x="1300.98" y="716.60" width="7.80" height="26.65" fill="#D5583D"/>
<rect x="1300.98" y="649.15" width="7.80" height="66.55" fill="#FF7050"/>
<rect x="1310.58" y="691.43" width="7.80" height="51.83" fill="#D5583D"/>
<rect x="1310.58" y="652.95" width="7.80" height="37.58" fill="#FF7050"/>
<rect x="1310.58" y="649.15" width="7.80" height="2.90" fill="#C71585"/>
<rect x="1323.62" y="648.20" width="38.40" height="96.00" fill="#0b0805"/>
<rect x="1324.52" y="700.45" width="7.80" height="42.80" fill="#D5583D"/>
<rect x="1324.52" y="678.13" width="7.80" height="21.42" fill="#FF7050"/>
<rect x="1324.52" y="658.65" width="7.80" height="18.58" fill="#FF1C9C"/>
<rect x="1324.52" y="649.15" width="7.80" height="8.60" fill="#C71585"/>
<rect x="1334.12" y="694.75" width="7.80" height="48.50" fill="#D5583D"/>
<rect x="1334.12" y="661.03" width="7.80" height="32.83" fill="#FF7050"/>
<rect x="1334.12" y="649.15" width="7.80" height="10.97" fill="#C71585"/>
<rect x="1343.72" y="696.65" width="7.80" height="46.60" fill="#D5583D"/>
<rect x="1343.72" y="662.45" width="7.80" height="33.30" fill="#FF7050"/>
<rect x="1343.72" y="649.15" width="7.80" height="12.40" fill="#C71585"/>
<rect x="1353.32" y="690.95" width="7.80" height="52.30" fill="#D5583D"/>
<rect x="1353.32" y="665.30" width="7.80" height="24.75" fill="#FF7050"/>
<rect x="1353.32" y="649.15" width="7.80" height="15.25" fill="#C71585"/>
<rect x="1366.36" y="648.20" width="9.60" height="96.00" fill="#0b0805"/>
<rect x="1367.26" y="687.15" width="7.80" height="56.10" fill="#D5583D"/>
<rect x="1367.26" y="666.73" width="7.80" height="19.52" fill="#FF7050"/>
<rect x="1367.26" y="651.05" width="7.80" height="14.78" fill="#FF1C9C"/>
<rect x="1367.26" y="649.15" width="7.80" height="1.00" fill="#C71585"/>
<rect x="1380.30" y="648.20" width="38.40" height="96.00" fill="#0b0805"/>
<rect x="1381.20" y="649.15" width="7.80" height="94.10" fill="#D5583D"/>
<rect x="1390.80" y="649.15" width="7.80" height="94.10" fill="#D5583D"/>
<rect x="1400.40" y="649.15" width="7.80" height="94.10" fill="#D5583D"/>
<rect x="1410.00" y="649.15" width="7.80" height="94.10" fill="#D5583D"/>
<rect x="1423.04" y="648.20" width="19.20" height="96.00" fill="#0b0805"/>
<rect x="1423.94" y="675.75" width="7.80" height="67.50" fill="#D5583D"/>
<rect x="1423.94" y="649.15" width="7.80" height="25.70" fill="#FF7050"/>
<rect x="1433.54" y="717.08" width="7.80" height="26.18" fill="#8B7558"/>
<rect x="1433.54" y="671.00" width="7.80" height="45.17" fill="#D5583D"/>
<rect x="1433.54" y="649.15" width="7.80" height="20.95" fill="#FF7050"/>
<rect x="1446.58" y="648.20" width="9.60" height="96.00" fill="#0b0805"/>
<rect x="1447.48" y="717.55" width="7.80" height="25.70" fill="#8B7558"/>
<rect x="1447.48" y="703.30" width="7.80" height="13.35" fill="#FFC125"/>
<rect x="1447.48" y="659.13" width="7.80" height="43.27" fill="#D5583D"/>
<rect x="1447.48" y="649.15" width="7.80" height="9.08" fill="#FF7050"/>
<rect x="1460.52" y="648.20" width="9.60" height="96.00" fill="#0b0805"/>
<rect x="1461.42" y="684.30" width="7.80" height="58.95" fill="#D5583D"/>
<rect x="1461.42" y="649.15" width="7.80" height="34.25" fill="#FF7050"/>
<rect x="1474.46" y="648.20" width="19.20" height="96.00" fill="#0b0805"/>
<rect x="1475.36" y="687.15" width="7.80" height="56.10" fill="#D5583D"/>
<rect x="1475.36" y="649.15" width="7.80" height="37.10" fill="#FF7050"/>
<rect x="1484.96" y="699.98" width="7.80" height="43.27" fill="#8B7558"/>
<rect x="1484.96" y="676.23" width="7.80" height="22.85" fill="#D5583D"/>
<rect x="1484.96" y="649.15" width="7.80" height="26.18" fill="#FF7050"/>
<rect x="1529.55" y="648.20" width="9.60" height="96.00" fill="#0b0805"/>
<rect x="1530.45" y="649.15" width="7.80" height="94.10" fill="#D4A01F"/>
<rect x="1543.49" y="648.20" width="28.80" height="96.00" fill="#0b0805"/>
<rect x="1544.39" y="649.15" width="7.80" height="94.10" fill="#FFC125"/>
<rect x="1553.99" y="649.15" width="7.80" height="94.10" fill="#FFC125"/>
<rect x="1563.59" y="649.15" width="7.80" height="94.10" fill="#FFC125"/>
<rect x="1576.63" y="648.20" width="57.60" height="96.00" fill="#0b0805"/>
<rect x="1577.53" y="649.15" width="7.80" height="94.10" fill="#FFF68F"/>
<rect x="1587.13" y="649.15" width="7.80" height="94.10" fill="#FFF68F"/>
<rect x="1596.73" y="649.15" width="7.80" height="94.10" fill="#FFF68F"/>
<rect x="1606.33" y="649.15" width="7.80" height="94.10" fill="#FFF68F"/>
<rect x="1615.93" y="649.15" width="7.80" height="94.10" fill="#FFF68F"/>
<rect x="1625.53" y="649.15" width="7.80" height="94.10" fill="#FFF68F"/>
<rect x="1638.57" y="648.20" width="28.80" height="96.00" fill="#0b0805"/>
<rect x="1639.47" y="649.15" width="7.80" height="94.10" fill="#8B7355"/>
<rect x="1649.07" y="649.15" width="7.80" height="94.10" fill="#8B7355"/>
<rect x="1658.67" y="649.15" width="7.80" height="94.10" fill="#8B7355"/>
<rect x="1671.71" y="648.20" width="9.60" height="96.00" fill="#0b0805"/>
<rect x="1672.61" y="649.15" width="7.80" height="94.10" fill="#EE82EE"/>
<rect x="1685.65" y="648.20" width="28.80" height="96.00" fill="#0b0805"/>
<rect x="1686.55" y="649.15" width="7.80" height="94.10" fill="#8B4789"/>
<rect x="1696.15" y="649.15" width="7.80" height="94.10" fill="#8B4789"/>
<rect x="1705.75" y="649.15" width="7.80" height="94.10" fill="#8B4789"/>
<rect x="1718.79" y="648.20" width="9.60" height="96.00" fill="#0b0805"/>
<rect x="1719.69" y="649.15" width="7.80" height="94.10" fill="#4876FF"/>
<rect x="1732.73" y="648.20" width="9.60" height="96.00" fill="#0b0805"/>
<rect x="1733.63" y="649.15" width="7.80" height="94.10" fill="#A9C1DE"/>
<rect x="1746.67" y="648.20" width="9.60" height="96.00" fill="#0b0805"/>
<rect x="1747.57" y="649.15" width="7.80" height="94.10" fill="#4D4D4D"/>
<rect x="1760.61" y="648.20" width="38.40" height="96.00" fill="#0b0805"/>
<rect x="1761.51" y="649.15" width="7.80" height="94.10" fill="#4D4D4D"/>
<rect x="1771.11" y="649.15" width="7.80" height="94.10" fill="#4D4D4D"/>
<rect x="1780.71" y="649.15" width="7.80" height="94.10" fill="#4D4D4D"/>
<rect x="1790.31" y="649.15" width="7.80" height="94.10" fill="#4D4D4D"/>
<path d="M1803.05 648.70H1822.85M1803.05 743.70H1822.85" stroke="#222" stroke-width="0.9" fill="none"/>
</g>
<path d="M50.10 693.09v5.0m-1.3 0h2.6M50.10 684.44v4.0m-1.3 0h2.6M50.10 649.10v3.0m-1.3 0h2.6M59.70 689.38v7.0m-1.3 0h2.6M59.70 678.93v3.0m-1.3 0h2.6M59.70 649.10v3.0m-1.3 0h2.6M69.30 681.97v3.0m-1.3 0h2.6M69.30 672.00v10.0m-1.3 0h2.6M69.30 649.10v3.0m-1.3 0h2.6M78.90 686.15v3.0m-1.3 0h2.6M78.90 676.18v5.0m-1.3 0h2.6M78.90 649.10v3.0m-1.3 0h2.6M88.50 680.74v10.0m-1.3 0h2.6M88.50 675.23v3.0m-1.3 0h2.6M88.50 665.25v10.0m-1.3 0h2.6M88.50 649.10v3.0m-1.3 0h2.6M98.10 681.21v4.0m-1.3 0h2.6M98.10 669.52v3.0m-1.3 0h2.6M98.10 649.10v3.0m-1.3 0h2.6M107.70 683.68v3.0m-1.3 0h2.6M107.70 673.23v7.0m-1.3 0h2.6M107.70 649.10v3.0m-1.3 0h2.6M117.30 680.74v7.0m-1.3 0h2.6M117.30 675.70v3.0m-1.3 0h2.6M117.30 668.10v4.0m-1.3 0h2.6M117.30 649.10v3.0m-1.3 0h2.6M131.24 685.20v3.0m-1.3 0h2.6M131.24 671.43v10.0m-1.3 0h2.6M131.24 649.10v3.0m-1.3 0h2.6M145.18 729.38v7.0m-1.3 0h2.6M145.18 672.85v3.0m-1.3 0h2.6M145.18 665.25v10.0m-1.3 0h2.6M145.18 649.10v3.0m-1.3 0h2.6M154.78 732.70v3.0m-1.3 0h2.6M154.78 728.43v4.0m-1.3 0h2.6M154.78 670.95v10.0m-1.3 0h2.6M154.78 664.30v3.0m-1.3 0h2.6M154.78 649.10v3.0m-1.3 0h2.6M164.38 728.43v10.0m-1.3 0h2.6M164.38 721.77v10.0m-1.3 0h2.6M164.38 669.05v7.0m-1.3 0h2.6M164.38 662.88v3.0m-1.3 0h2.6M164.38 649.10v3.0m-1.3 0h2.6M178.32 705.62v4.0m-1.3 0h2.6M178.32 692.80v3.0m-1.3 0h2.6M178.32 649.10v3.0m-1.3 0h2.6M192.26 705.15v10.0m-1.3 0h2.6M192.26 701.83v4.0m-1.3 0h2.6M192.26 649.10v3.0m-1.3 0h2.6M201.86 715.60v5.0m-1.3 0h2.6M201.86 707.52v7.0m-1.3 0h2.6M201.86 649.10v3.0m-1.3 0h2.6M211.46 715.12v4.0m-1.3 0h2.6M211.46 712.75v10.0m-1.3 0h2.6M211.46 649.10v3.0m-1.3 0h2.6M225.40 714.18v3.0m-1.3 0h2.6M225.40 707.05v10.0m-1.3 0h2.6M225.40 649.10v3.0m-1.3 0h2.6M235.00 742.20v4.0m-1.3 0h2.6M235.00 721.30v10.0m-1.3 0h2.6M235.00 718.45v4.0m-1.3 0h2.6M235.00 649.10v3.0m-1.3 0h2.6M296.94 740.77v3.4m-1.3 0h2.6M296.94 649.10v3.0m-1.3 0h2.6M306.54 739.83v3.0m-1.3 0h2.6M306.54 738.40v6.0m-1.3 0h2.6M306.54 727.00v10.0m-1.3 0h2.6M306.54 649.10v3.0m-1.3 0h2.6M316.14 742.20v3.4m-1.3 0h2.6M316.14 649.10v3.0m-1.3 0h2.6M382.42 741.73v3.4m-1.3 0h2.6M382.42 649.10v3.0m-1.3 0h2.6M396.36 737.45v3.4m-1.3 0h2.6M396.36 649.10v3.0m-1.3 0h2.6M405.96 737.45v6.0m-1.3 0h2.6M405.96 727.95v4.0m-1.3 0h2.6M405.96 712.75v5.0m-1.3 0h2.6M405.96 649.10v3.0m-1.3 0h2.6M415.56 740.30v3.0m-1.3 0h2.6M415.56 734.60v6.0m-1.3 0h2.6M415.56 649.10v3.0m-1.3 0h2.6M429.50 742.20v3.4m-1.3 0h2.6M429.50 649.10v3.0m-1.3 0h2.6M439.10 742.68v3.4m-1.3 0h2.6M439.10 649.10v3.0m-1.3 0h2.6M448.70 649.10v3.0m-1.3 0h2.6M572.58 649.10v3.0m-1.3 0h2.6M601.38 741.25v3.4m-1.3 0h2.6M601.38 649.10v3.0m-1.3 0h2.6M620.58 731.75v3.0m-1.3 0h2.6M620.58 725.10v10.0m-1.3 0h2.6M620.58 649.10v3.0m-1.3 0h2.6M644.12 740.30v3.0m-1.3 0h2.6M644.12 716.55v10.0m-1.3 0h2.6M644.12 707.52v4.0m-1.3 0h2.6M644.12 649.10v3.0m-1.3 0h2.6M653.72 740.30v4.0m-1.3 0h2.6M653.72 724.15v10.0m-1.3 0h2.6M653.72 710.38v7.0m-1.3 0h2.6M653.72 649.10v3.0m-1.3 0h2.6M691.20 739.35v4.0m-1.3 0h2.6M691.20 711.04v7.0m-1.3 0h2.6M691.20 649.10v3.0m-1.3 0h2.6M700.80 734.60v6.0m-1.3 0h2.6M700.80 700.59v7.0m-1.3 0h2.6M700.80 649.10v3.0m-1.3 0h2.6M710.40 736.50v4.0m-1.3 0h2.6M710.40 702.59v5.0m-1.3 0h2.6M710.40 649.10v3.0m-1.3 0h2.6M720.00 740.77v3.0m-1.3 0h2.6M720.00 708.00v4.0m-1.3 0h2.6M720.00 649.10v3.0m-1.3 0h2.6M729.60 705.15v3.4m-1.3 0h2.6M729.60 649.10v3.0m-1.3 0h2.6M739.20 703.53v3.4m-1.3 0h2.6M739.20 649.10v3.0m-1.3 0h2.6M748.80 739.35v6.0m-1.3 0h2.6M748.80 703.06v4.0m-1.3 0h2.6M748.80 649.10v3.0m-1.3 0h2.6M758.40 740.30v3.0m-1.3 0h2.6M758.40 704.29v10.0m-1.3 0h2.6M758.40 649.10v3.0m-1.3 0h2.6M768.00 742.20v4.0m-1.3 0h2.6M768.00 710.57v10.0m-1.3 0h2.6M768.00 649.10v3.0m-1.3 0h2.6M777.60 710.00v3.4m-1.3 0h2.6M777.60 649.10v3.0m-1.3 0h2.6M787.20 702.59v7.0m-1.3 0h2.6M787.20 649.10v3.0m-1.3 0h2.6M796.80 738.40v4.0m-1.3 0h2.6M796.80 708.57v7.0m-1.3 0h2.6M796.80 649.10v3.0m-1.3 0h2.6M806.40 707.52v3.4m-1.3 0h2.6M806.40 649.10v3.0m-1.3 0h2.6M894.84 742.20v4.0m-1.3 0h2.6M894.84 739.35v6.0m-1.3 0h2.6M894.84 732.70v3.0m-1.3 0h2.6M894.84 729.85v3.0m-1.3 0h2.6M894.84 650.52v10.0m-1.3 0h2.6M894.84 649.10v3.0m-1.3 0h2.6M904.44 741.25v4.0m-1.3 0h2.6M904.44 737.45v3.0m-1.3 0h2.6M904.44 735.55v4.0m-1.3 0h2.6M904.44 650.05v4.0m-1.3 0h2.6M914.04 742.20v4.0m-1.3 0h2.6M914.04 716.55v7.0m-1.3 0h2.6M914.04 650.52v3.0m-1.3 0h2.6M914.04 649.10v3.0m-1.3 0h2.6M923.64 706.58v3.0m-1.3 0h2.6M923.64 650.05v10.0m-1.3 0h2.6M933.24 740.30v6.0m-1.3 0h2.6M933.24 708.95v5.0m-1.3 0h2.6M933.24 651.95v5.0m-1.3 0h2.6M933.24 649.10v3.0m-1.3 0h2.6M942.84 741.73v6.0m-1.3 0h2.6M942.84 700.88v5.0m-1.3 0h2.6M942.84 650.05v10.0m-1.3 0h2.6M952.44 707.05v7.0m-1.3 0h2.6M952.44 651.95v10.0m-1.3 0h2.6M952.44 649.10v3.0m-1.3 0h2.6M966.38 740.77v3.4m-1.3 0h2.6M966.38 649.10v3.0m-1.3 0h2.6M994.26 738.40v3.4m-1.3 0h2.6M994.26 649.10v3.0m-1.3 0h2.6M1003.86 732.23v3.4m-1.3 0h2.6M1003.86 649.10v3.0m-1.3 0h2.6M1031.74 735.08v3.4m-1.3 0h2.6M1031.74 649.10v3.0m-1.3 0h2.6M1041.34 741.25v3.4m-1.3 0h2.6M1041.34 649.10v3.0m-1.3 0h2.6M1050.94 736.50v3.4m-1.3 0h2.6M1050.94 649.10v3.0m-1.3 0h2.6M1060.54 737.93v3.4m-1.3 0h2.6M1060.54 649.10v3.0m-1.3 0h2.6M1079.74 739.35v3.4m-1.3 0h2.6M1079.74 649.10v3.0m-1.3 0h2.6M1194.94 733.65v3.4m-1.3 0h2.6M1194.94 649.10v3.0m-1.3 0h2.6M1214.14 742.20v3.4m-1.3 0h2.6M1214.14 649.10v3.0m-1.3 0h2.6M1223.74 739.83v3.4m-1.3 0h2.6M1223.74 649.10v3.0m-1.3 0h2.6M1252.54 739.35v3.4m-1.3 0h2.6M1252.54 649.10v3.0m-1.3 0h2.6M1271.74 736.50v3.4m-1.3 0h2.6M1271.74 649.10v3.0m-1.3 0h2.6M1281.34 738.40v3.4m-1.3 0h2.6M1281.34 649.10v3.0m-1.3 0h2.6M1304.88 716.55v3.4m-1.3 0h2.6M1304.88 649.10v3.0m-1.3 0h2.6M1314.48 691.38v7.0m-1.3 0h2.6M1314.48 652.90v3.0m-1.3 0h2.6M1314.48 649.10v3.0m-1.3 0h2.6M1328.42 700.40v3.0m-1.3 0h2.6M1328.42 678.08v5.0m-1.3 0h2.6M1328.42 658.60v7.0m-1.3 0h2.6M1328.42 649.10v3.0m-1.3 0h2.6M1338.02 694.70v3.0m-1.3 0h2.6M1338.02 660.98v3.0m-1.3 0h2.6M1338.02 649.10v3.0m-1.3 0h2.6M1347.62 696.60v5.0m-1.3 0h2.6M1347.62 662.40v10.0m-1.3 0h2.6M1347.62 649.10v3.0m-1.3 0h2.6M1357.22 690.90v7.0m-1.3 0h2.6M1357.22 665.25v5.0m-1.3 0h2.6M1357.22 649.10v3.0m-1.3 0h2.6M1371.16 687.10v7.0m-1.3 0h2.6M1371.16 666.68v5.0m-1.3 0h2.6M1371.16 651.00v3.0m-1.3 0h2.6M1371.16 649.10v3.0m-1.3 0h2.6M1427.84 675.70v3.4m-1.3 0h2.6M1427.84 649.10v3.0m-1.3 0h2.6M1437.44 717.02v7.0m-1.3 0h2.6M1437.44 670.95v5.0m-1.3 0h2.6M1437.44 649.10v3.0m-1.3 0h2.6M1451.38 717.50v4.0m-1.3 0h2.6M1451.38 703.25v10.0m-1.3 0h2.6M1451.38 659.08v3.0m-1.3 0h2.6M1451.38 649.10v3.0m-1.3 0h2.6M1465.32 684.25v3.4m-1.3 0h2.6M1465.32 649.10v3.0m-1.3 0h2.6M1479.26 687.10v3.4m-1.3 0h2.6M1479.26 649.10v3.0m-1.3 0h2.6M1488.86 699.93v7.0m-1.3 0h2.6M1488.86 676.18v3.0m-1.3 0h2.6M1488.86 649.10v3.0m-1.3 0h2.6" stroke="#1a1206" stroke-width="0.9" fill="none"/>
<path d="M247.14 641.58l3.6 3.6m0 -3.6l-3.6 3.6M256.74 641.58l3.6 3.6m0 -3.6l-3.6 3.6M266.34 641.58l3.6 3.6m0 -3.6l-3.6 3.6M275.94 641.58l3.6 3.6m0 -3.6l-3.6 3.6M285.54 641.58l3.6 3.6m0 -3.6l-3.6 3.6M665.86 641.58l3.6 3.6m0 -3.6l-3.6 3.6M675.46 641.58l3.6 3.6m0 -3.6l-3.6 3.6M850.30 641.58l3.6 3.6m0 -3.6l-3.6 3.6M859.90 641.58l3.6 3.6m0 -3.6l-3.6 3.6M869.50 641.58l3.6 3.6m0 -3.6l-3.6 3.6M879.10 641.58l3.6 3.6m0 -3.6l-3.6 3.6M1383.30 641.58l3.6 3.6m0 -3.6l-3.6 3.6M1392.90 641.58l3.6 3.6m0 -3.6l-3.6 3.6M1402.50 641.58l3.6 3.6m0 -3.6l-3.6 3.6M1412.10 641.58l3.6 3.6m0 -3.6l-3.6 3.6M1532.55 641.58l3.6 3.6m0 -3.6l-3.6 3.6M1546.49 641.58l3.6 3.6m0 -3.6l-3.6 3.6M1556.09 641.58l3.6 3.6m0 -3.6l-3.6 3.6M1565.69 641.58l3.6 3.6m0 -3.6l-3.6 3.6M1579.63 641.58l3.6 3.6m0 -3.6l-3.6 3.6M1589.23 641.58l3.6 3.6m0 -3.6l-3.6 3.6M1598.83 641.58l3.6 3.6m0 -3.6l-3.6 3.6M1608.43 641.58l3.6 3.6m0 -3.6l-3.6 3.6M1618.03 641.58l3.6 3.6m0 -3.6l-3.6 3.6M1627.63 641.58l3.6 3.6m0 -3.6l-3.6 3.6M1641.57 641.58l3.6 3.6m0 -3.6l-3.6 3.6M1651.17 641.58l3.6 3.6m0 -3.6l-3.6 3.6M1660.77 641.58l3.6 3.6m0 -3.6l-3.6 3.6M1674.71 641.58l3.6 3.6m0 -3.6l-3.6 3.6M1688.65 641.58l3.6 3.6m0 -3.6l-3.6 3.6M1698.25 641.58l3.6 3.6m0 -3.6l-3.6 3.6M1707.85 641.58l3.6 3.6m0 -3.6l-3.6 3.6M1721.79 641.58l3.6 3.6m0 -3.6l-3.6 3.6M1735.73 641.58l3.6 3.6m0 -3.6l-3.6 3.6M1749.67 641.58l3.6 3.6m0 -3.6l-3.6 3.6M1763.61 641.58l3.6 3.6m0 -3.6l-3.6 3.6M1773.21 641.58l3.6 3.6m0 -3.6l-3.6 3.6M1782.81 641.58l3.6 3.6m0 -3.6l-3.6 3.6M1792.41 641.58l3.6 3.6m0 -3.6l-3.6 3.6" stroke="#000" stroke-width="1.45" fill="none"/>
<g font-family="Liberation Sans, Arial, Helvetica, sans-serif" font-size="12.5" fill="#4d4d4d" text-anchor="end">
<text x="36.5" y="653.1">1.00</text>
<line x1="38" y1="648.70" x2="44.2" y2="648.70" stroke="#222" stroke-width="1.1"/>
<text x="36.5" y="676.9">0.75</text>
<line x1="38" y1="672.45" x2="44.2" y2="672.45" stroke="#222" stroke-width="1.1"/>
<text x="36.5" y="700.6">0.50</text>
<line x1="38" y1="696.20" x2="44.2" y2="696.20" stroke="#222" stroke-width="1.1"/>
<text x="36.5" y="724.4">0.25</text>
<line x1="38" y1="719.95" x2="44.2" y2="719.95" stroke="#222" stroke-width="1.1"/>
<text x="36.5" y="748.1">0.00</text>
<line x1="38" y1="743.70" x2="44.2" y2="743.70" stroke="#222" stroke-width="1.1"/>
</g>
<text font-family="Liberation Sans, Arial, Helvetica, sans-serif" font-size="12.5" fill="#1a1a1a" text-anchor="middle" transform="translate(1831.5,696.0) rotate(90)">hgEur2</text>
<g>
<rect x="44.50" y="756.80" width="78.40" height="114.50" fill="#fff" stroke="#d6d6d6" stroke-width="0.9"/>
<rect x="125.64" y="756.80" width="11.20" height="114.50" fill="#fff" stroke="#d6d6d6" stroke-width="0.9"/>
<rect x="139.58" y="756.80" width="30.40" height="114.50" fill="#fff" stroke="#d6d6d6" stroke-width="0.9"/>
<rect x="172.72" y="756.80" width="11.20" height="114.50" fill="#fff" stroke="#d6d6d6" stroke-width="0.9"/>
<rect x="186.66" y="756.80" width="30.40" height="114.50" fill="#fff" stroke="#d6d6d6" stroke-width="0.9"/>
<rect x="219.80" y="756.80" width="20.80" height="114.50" fill="#fff" stroke="#d6d6d6" stroke-width="0.9"/>
<rect x="243.34" y="756.80" width="78.40" height="114.50" fill="#fff" stroke="#d6d6d6" stroke-width="0.9"/>
<rect x="324.48" y="756.80" width="49.60" height="114.50" fill="#fff" stroke="#d6d6d6" stroke-width="0.9"/>
<rect x="376.82" y="756.80" width="11.20" height="114.50" fill="#fff" stroke="#d6d6d6" stroke-width="0.9"/>
<rect x="390.76" y="756.80" width="30.40" height="114.50" fill="#fff" stroke="#d6d6d6" stroke-width="0.9"/>
<rect x="423.90" y="756.80" width="30.40" height="114.50" fill="#fff" stroke="#d6d6d6" stroke-width="0.9"/>
<rect x="457.04" y="756.80" width="97.60" height="114.50" fill="#fff" stroke="#d6d6d6" stroke-width="0.9"/>
<rect x="557.38" y="756.80" width="78.40" height="114.50" fill="#fff" stroke="#d6d6d6" stroke-width="0.9"/>
<rect x="638.52" y="756.80" width="20.80" height="114.50" fill="#fff" stroke="#d6d6d6" stroke-width="0.9"/>
<rect x="662.06" y="756.80" width="20.80" height="114.50" fill="#fff" stroke="#d6d6d6" stroke-width="0.9"/>
<rect x="685.60" y="756.80" width="126.40" height="114.50" fill="#fff" stroke="#d6d6d6" stroke-width="0.9"/>
<rect x="846.50" y="756.80" width="40.00" height="114.50" fill="#fff" stroke="#d6d6d6" stroke-width="0.9"/>
<rect x="889.24" y="756.80" width="68.80" height="114.50" fill="#fff" stroke="#d6d6d6" stroke-width="0.9"/>
<rect x="960.78" y="756.80" width="11.20" height="114.50" fill="#fff" stroke="#d6d6d6" stroke-width="0.9"/>
<rect x="974.72" y="756.80" width="11.20" height="114.50" fill="#fff" stroke="#d6d6d6" stroke-width="0.9"/>
<rect x="988.66" y="756.80" width="20.80" height="114.50" fill="#fff" stroke="#d6d6d6" stroke-width="0.9"/>
<rect x="1012.20" y="756.80" width="11.20" height="114.50" fill="#fff" stroke="#d6d6d6" stroke-width="0.9"/>
<rect x="1026.14" y="756.80" width="270.40" height="114.50" fill="#fff" stroke="#d6d6d6" stroke-width="0.9"/>
<rect x="1299.28" y="756.80" width="20.80" height="114.50" fill="#fff" stroke="#d6d6d6" stroke-width="0.9"/>
<rect x="1322.82" y="756.80" width="40.00" height="114.50" fill="#fff" stroke="#d6d6d6" stroke-width="0.9"/>
<rect x="1365.56" y="756.80" width="11.20" height="114.50" fill="#fff" stroke="#d6d6d6" stroke-width="0.9"/>
<rect x="1379.50" y="756.80" width="40.00" height="114.50" fill="#fff" stroke="#d6d6d6" stroke-width="0.9"/>
<rect x="1422.24" y="756.80" width="20.80" height="114.50" fill="#fff" stroke="#d6d6d6" stroke-width="0.9"/>
<rect x="1445.78" y="756.80" width="11.20" height="114.50" fill="#fff" stroke="#d6d6d6" stroke-width="0.9"/>
<rect x="1459.72" y="756.80" width="11.20" height="114.50" fill="#fff" stroke="#d6d6d6" stroke-width="0.9"/>
<rect x="1473.66" y="756.80" width="20.80" height="114.50" fill="#fff" stroke="#d6d6d6" stroke-width="0.9"/>
<rect x="1528.75" y="756.80" width="11.20" height="114.50" fill="#fff" stroke="#d6d6d6" stroke-width="0.9"/>
<rect x="1542.69" y="756.80" width="30.40" height="114.50" fill="#fff" stroke="#d6d6d6" stroke-width="0.9"/>
<rect x="1575.83" y="756.80" width="59.20" height="114.50" fill="#fff" stroke="#d6d6d6" stroke-width="0.9"/>
<rect x="1637.77" y="756.80" width="30.40" height="114.50" fill="#fff" stroke="#d6d6d6" stroke-width="0.9"/>
<rect x="1670.91" y="756.80" width="11.20" height="114.50" fill="#fff" stroke="#d6d6d6" stroke-width="0.9"/>
<rect x="1684.85" y="756.80" width="30.40" height="114.50" fill="#fff" stroke="#d6d6d6" stroke-width="0.9"/>
<rect x="1717.99" y="756.80" width="11.20" height="114.50" fill="#fff" stroke="#d6d6d6" stroke-width="0.9"/>
<rect x="1731.93" y="756.80" width="11.20" height="114.50" fill="#fff" stroke="#d6d6d6" stroke-width="0.9"/>
<rect x="1745.87" y="756.80" width="11.20" height="114.50" fill="#fff" stroke="#d6d6d6" stroke-width="0.9"/>
<rect x="1759.81" y="756.80" width="40.00" height="114.50" fill="#fff" stroke="#d6d6d6" stroke-width="0.9"/>
<rect x="1802.55" y="756.80" width="20.80" height="114.50" fill="#fff" stroke="#d6d6d6" stroke-width="0.9"/>
</g>
<g shape-rendering="auto">
<rect x="45.30" y="766.30" width="76.80" height="96.00" fill="#0b0805"/>
<rect x="46.20" y="833.18" width="7.80" height="28.17" fill="#D5583D"/>
<rect x="46.20" y="814.47" width="7.80" height="17.81" fill="#FF7050"/>
<rect x="46.20" y="798.88" width="7.80" height="14.68" fill="#FF1C9C"/>
<rect x="46.20" y="767.25" width="7.80" height="30.73" fill="#C71585"/>
<rect x="55.80" y="841.83" width="7.80" height="19.52" fill="#D5583D"/>
<rect x="55.80" y="816.27" width="7.80" height="24.66" fill="#FF7050"/>
<rect x="55.80" y="786.25" width="7.80" height="29.12" fill="#FF1C9C"/>
<rect x="55.80" y="767.25" width="7.80" height="18.10" fill="#C71585"/>
<rect x="65.40" y="838.12" width="7.80" height="23.23" fill="#D5583D"/>
<rect x="65.40" y="811.24" width="7.80" height="25.98" fill="#FF7050"/>
<rect x="65.40" y="775.80" width="7.80" height="34.54" fill="#FF1C9C"/>
<rect x="65.40" y="767.25" width="7.80" height="7.65" fill="#C71585"/>
<rect x="75.00" y="838.12" width="7.80" height="23.23" fill="#D5583D"/>
<rect x="75.00" y="812.00" width="7.80" height="25.23" fill="#FF7050"/>
<rect x="75.00" y="787.20" width="7.80" height="23.89" fill="#FF1C9C"/>
<rect x="75.00" y="767.25" width="7.80" height="19.05" fill="#C71585"/>
<rect x="84.60" y="834.41" width="7.80" height="26.94" fill="#D5583D"/>
<rect x="84.60" y="813.23" width="7.80" height="20.28" fill="#FF7050"/>
<rect x="84.60" y="767.25" width="7.80" height="45.08" fill="#FF1C9C"/>
<rect x="94.20" y="836.12" width="7.80" height="25.23" fill="#D5583D"/>
<rect x="94.20" y="808.76" width="7.80" height="26.46" fill="#FF7050"/>
<rect x="94.20" y="773.90" width="7.80" height="33.97" fill="#FF1C9C"/>
<rect x="94.20" y="767.25" width="7.80" height="5.75" fill="#C71585"/>
<rect x="103.80" y="841.16" width="7.80" height="20.19" fill="#D5583D"/>
<rect x="103.80" y="814.47" width="7.80" height="25.79" fill="#FF7050"/>
<rect x="103.80" y="770.10" width="7.80" height="43.47" fill="#FF1C9C"/>
<rect x="103.80" y="767.25" width="7.80" height="1.95" fill="#C71585"/>
<rect x="113.40" y="827.67" width="7.80" height="33.68" fill="#D5583D"/>
<rect x="113.40" y="810.76" width="7.80" height="16.01" fill="#FF7050"/>
<rect x="113.40" y="768.67" width="7.80" height="41.19" fill="#FF1C9C"/>
<rect x="113.40" y="767.25" width="7.80" height="0.52" fill="#C71585"/>
<rect x="126.44" y="766.30" width="9.60" height="96.00" fill="#0b0805"/>
<rect x="127.34" y="860.35" width="7.80" height="1.00" fill="#3A3030"/>
<rect x="127.34" y="824.73" width="7.80" height="34.73" fill="#D5583D"/>
<rect x="127.34" y="800.50" width="7.80" height="23.33" fill="#FF7050"/>
<rect x="127.34" y="787.67" width="7.80" height="11.93" fill="#FF1C9C"/>
<rect x="127.34" y="767.25" width="7.80" height="19.52" fill="#C71585"/>
<rect x="140.38" y="766.30" width="28.80" height="96.00" fill="#0b0805"/>
<rect x="141.28" y="845.15" width="7.80" height="16.20" fill="#8B7558"/>
<rect x="141.28" y="807.62" width="7.80" height="36.62" fill="#D5583D"/>
<rect x="141.28" y="793.85" width="7.80" height="12.87" fill="#FF7050"/>
<rect x="141.28" y="775.80" width="7.80" height="17.15" fill="#FF1C9C"/>
<rect x="141.28" y="767.25" width="7.80" height="7.65" fill="#C71585"/>
<rect x="150.88" y="846.10" width="7.80" height="15.25" fill="#8B7558"/>
<rect x="150.88" y="843.25" width="7.80" height="1.95" fill="#FFC125"/>
<rect x="150.88" y="811.90" width="7.80" height="30.45" fill="#D5583D"/>
<rect x="150.88" y="794.80" width="7.80" height="16.20" fill="#FF7050"/>
<rect x="150.88" y="776.75" width="7.80" height="17.15" fill="#FF1C9C"/>
<rect x="150.88" y="767.25" width="7.80" height="8.60" fill="#C71585"/>
<rect x="160.48" y="841.83" width="7.80" height="19.52" fill="#8B7558"/>
<rect x="160.48" y="837.55" width="7.80" height="3.38" fill="#FFC125"/>
<rect x="160.48" y="806.20" width="7.80" height="30.45" fill="#D5583D"/>
<rect x="160.48" y="791.95" width="7.80" height="13.35" fill="#FF7050"/>
<rect x="160.48" y="772.00" width="7.80" height="19.05" fill="#FF1C9C"/>
<rect x="160.48" y="767.25" width="7.80" height="3.85" fill="#C71585"/>
<rect x="173.52" y="766.30" width="9.60" height="96.00" fill="#0b0805"/>
<rect x="174.42" y="852.27" width="7.80" height="9.08" fill="#D5583D"/>
<rect x="174.42" y="827.10" width="7.80" height="24.27" fill="#FF7050"/>
<rect x="174.42" y="804.30" width="7.80" height="21.90" fill="#FF1C9C"/>
<rect x="174.42" y="767.25" width="7.80" height="36.15" fill="#C71585"/>
<rect x="187.46" y="766.30" width="28.80" height="96.00" fill="#0b0805"/>
<rect x="188.36" y="833.75" width="7.80" height="27.60" fill="#D5583D"/>
<rect x="188.36" y="825.20" width="7.80" height="7.65" fill="#FF7050"/>
<rect x="188.36" y="815.70" width="7.80" height="8.60" fill="#FF1C9C"/>
<rect x="188.36" y="767.25" width="7.80" height="47.55" fill="#C71585"/>
<rect x="197.96" y="843.25" width="7.80" height="18.10" fill="#D5583D"/>
<rect x="197.96" y="829.48" width="7.80" height="12.87" fill="#FF7050"/>
<rect x="197.96" y="767.25" width="7.80" height="61.33" fill="#C71585"/>
<rect x="207.56" y="847.05" width="7.80" height="14.30" fill="#D5583D"/>
<rect x="207.56" y="838.02" width="7.80" height="8.12" fill="#FF7050"/>
<rect x="207.56" y="824.25" width="7.80" height="12.87" fill="#FF1C9C"/>
<rect x="207.56" y="767.25" width="7.80" height="56.10" fill="#C71585"/>
<rect x="220.60" y="766.30" width="19.20" height="96.00" fill="#0b0805"/>
<rect x="221.50" y="844.20" width="7.80" height="17.15" fill="#D5583D"/>
<rect x="221.50" y="831.85" width="7.80" height="11.45" fill="#FF7050"/>
<rect x="221.50" y="825.20" width="7.80" height="5.75" fill="#FF1C9C"/>
<rect x="221.50" y="767.25" width="7.80" height="57.05" fill="#C71585"/>
<rect x="231.10" y="858.45" width="7.80" height="2.90" fill="#FFC125"/>
<rect x="231.10" y="844.20" width="7.80" height="13.35" fill="#D5583D"/>
<rect x="231.10" y="838.02" width="7.80" height="5.28" fill="#FF7050"/>
<rect x="231.10" y="767.25" width="7.80" height="69.87" fill="#C71585"/>
<rect x="244.14" y="766.30" width="76.80" height="96.00" fill="#0b0805"/>
<rect x="245.04" y="767.25" width="7.80" height="94.10" fill="#C71585"/>
<rect x="254.64" y="767.25" width="7.80" height="94.10" fill="#C71585"/>
<rect x="264.24" y="767.25" width="7.80" height="94.10" fill="#C71585"/>
<rect x="273.84" y="767.25" width="7.80" height="94.10" fill="#C71585"/>
<rect x="283.44" y="767.25" width="7.80" height="94.10" fill="#C71585"/>
<rect x="293.04" y="858.92" width="7.80" height="2.43" fill="#4876FF"/>
<rect x="293.04" y="767.25" width="7.80" height="90.77" fill="#C71585"/>
<rect x="302.64" y="857.98" width="7.80" height="3.37" fill="#FFC125"/>
<rect x="302.64" y="856.55" width="7.80" height="0.53" fill="#D4A01F"/>
<rect x="302.64" y="845.15" width="7.80" height="10.50" fill="#FF1C9C"/>
<rect x="302.64" y="767.25" width="7.80" height="77.00" fill="#C71585"/>
<rect x="312.24" y="860.35" width="7.80" height="1.00" fill="#4876FF"/>
<rect x="312.24" y="767.25" width="7.80" height="92.20" fill="#C71585"/>
<rect x="325.28" y="766.30" width="48.00" height="96.00" fill="#0b0805"/>
<rect x="326.18" y="767.25" width="7.80" height="94.10" fill="#C71585"/>
<rect x="335.78" y="767.25" width="7.80" height="94.10" fill="#C71585"/>
<rect x="345.38" y="767.25" width="7.80" height="94.10" fill="#C71585"/>
<rect x="354.98" y="767.25" width="7.80" height="94.10" fill="#C71585"/>
<rect x="364.58" y="767.25" width="7.80" height="94.10" fill="#C71585"/>
<rect x="377.62" y="766.30" width="9.60" height="96.00" fill="#0b0805"/>
<rect x="378.52" y="859.40" width="7.80" height="1.95" fill="#3A3030"/>
<rect x="378.52" y="767.25" width="7.80" height="91.25" fill="#C71585"/>
<rect x="391.56" y="766.30" width="28.80" height="96.00" fill="#0b0805"/>
<rect x="392.46" y="855.60" width="7.80" height="5.75" fill="#FF7050"/>
<rect x="392.46" y="767.25" width="7.80" height="87.45" fill="#C71585"/>
<rect x="402.06" y="855.60" width="7.80" height="5.75" fill="#FFC125"/>
<rect x="402.06" y="848.95" width="7.80" height="5.75" fill="#D5583D"/>
<rect x="402.06" y="828.05" width="7.80" height="20.00" fill="#FF1C9C"/>
<rect x="402.06" y="767.25" width="7.80" height="59.90" fill="#C71585"/>
<rect x="411.66" y="858.45" width="7.80" height="2.90" fill="#FFC125"/>
<rect x="411.66" y="856.55" width="7.80" height="1.00" fill="#3A3030"/>
<rect x="411.66" y="851.80" width="7.80" height="3.85" fill="#FF1C9C"/>
<rect x="411.66" y="767.25" width="7.80" height="83.65" fill="#C71585"/>
<rect x="424.70" y="766.30" width="28.80" height="96.00" fill="#0b0805"/>
<rect x="425.60" y="860.35" width="7.80" height="1.00" fill="#D4A01F"/>
<rect x="425.60" y="767.25" width="7.80" height="92.20" fill="#C71585"/>
<rect x="435.20" y="860.83" width="7.80" height="0.52" fill="#D4A01F"/>
<rect x="435.20" y="767.25" width="7.80" height="92.68" fill="#C71585"/>
<rect x="444.80" y="861.30" width="7.80" height="0.05" fill="#3A3030"/>
<rect x="444.80" y="767.25" width="7.80" height="93.15" fill="#C71585"/>
<rect x="457.84" y="766.30" width="96.00" height="96.00" fill="#0b0805"/>
<rect x="458.74" y="767.25" width="7.80" height="94.10" fill="#C71585"/>
<rect x="468.34" y="767.25" width="7.80" height="94.10" fill="#C71585"/>
<rect x="477.94" y="767.25" width="7.80" height="94.10" fill="#C71585"/>
<rect x="487.54" y="767.25" width="7.80" height="94.10" fill="#C71585"/>
<rect x="497.14" y="767.25" width="7.80" height="94.10" fill="#C71585"/>
<rect x="506.74" y="767.25" width="7.80" height="94.10" fill="#C71585"/>
<rect x="516.34" y="767.25" width="7.80" height="94.10" fill="#C71585"/>
<rect x="525.94" y="767.25" width="7.80" height="94.10" fill="#C71585"/>
<rect x="535.54" y="767.25" width="7.80" height="94.10" fill="#C71585"/>
<rect x="545.14" y="767.25" width="7.80" height="94.10" fill="#C71585"/>
<rect x="558.18" y="766.30" width="76.80" height="96.00" fill="#0b0805"/>
<rect x="559.08" y="767.25" width="7.80" height="94.10" fill="#C71585"/>
<rect x="568.68" y="767.25" width="7.80" height="93.62" fill="#C71585"/>
<rect x="578.28" y="767.25" width="7.80" height="94.10" fill="#C71585"/>
<rect x="587.88" y="767.25" width="7.80" height="94.10" fill="#C71585"/>
<rect x="597.48" y="859.40" width="7.80" height="1.95" fill="#FF7050"/>
<rect x="597.48" y="767.25" width="7.80" height="91.25" fill="#C71585"/>
<rect x="607.08" y="767.25" width="7.80" height="94.10" fill="#C71585"/>
<rect x="616.68" y="849.90" width="7.80" height="11.45" fill="#FFC125"/>
<rect x="616.68" y="843.25" width="7.80" height="5.75" fill="#D4A01F"/>
<rect x="616.68" y="767.25" width="7.80" height="75.10" fill="#C71585"/>
<rect x="626.28" y="767.25" width="7.80" height="94.10" fill="#C71585"/>
<rect x="639.32" y="766.30" width="19.20" height="96.00" fill="#0b0805"/>
<rect x="640.22" y="857.50" width="7.80" height="3.85" fill="#4876FF"/>
<rect x="640.22" y="834.70" width="7.80" height="21.90" fill="#FFC125"/>
<rect x="640.22" y="825.20" width="7.80" height="8.60" fill="#D4A01F"/>
<rect x="640.22" y="767.25" width="7.80" height="57.05" fill="#FF1C9C"/>
<rect x="649.82" y="858.45" width="7.80" height="2.90" fill="#4876FF"/>
<rect x="649.82" y="842.30" width="7.80" height="15.25" fill="#FFC125"/>
<rect x="649.82" y="827.10" width="7.80" height="14.30" fill="#D4A01F"/>
<rect x="649.82" y="767.25" width="7.80" height="58.95" fill="#FF1C9C"/>
<rect x="662.86" y="766.30" width="19.20" height="96.00" fill="#0b0805"/>
<rect x="663.76" y="767.25" width="7.80" height="94.10" fill="#FF1C9C"/>
<rect x="673.36" y="767.25" width="7.80" height="94.10" fill="#FF1C9C"/>
<rect x="686.40" y="766.30" width="124.80" height="96.00" fill="#0b0805"/>
<rect x="687.30" y="857.50" width="7.80" height="3.85" fill="#D4A01F"/>
<rect x="687.30" y="829.19" width="7.80" height="27.41" fill="#D5583D"/>
<rect x="687.30" y="767.25" width="7.80" height="61.04" fill="#FF1C9C"/>
<rect x="696.90" y="852.75" width="7.80" height="8.60" fill="#D4A01F"/>
<rect x="696.90" y="818.08" width="7.80" height="33.77" fill="#D5583D"/>
<rect x="696.90" y="767.25" width="7.80" height="49.93" fill="#FF1C9C"/>
<rect x="706.50" y="854.65" width="7.80" height="6.70" fill="#D4A01F"/>
<rect x="706.50" y="819.98" width="7.80" height="33.77" fill="#D5583D"/>
<rect x="706.50" y="767.25" width="7.80" height="51.83" fill="#FF1C9C"/>
<rect x="716.10" y="858.92" width="7.80" height="2.43" fill="#D4A01F"/>
<rect x="716.10" y="825.67" width="7.80" height="32.35" fill="#D5583D"/>
<rect x="716.10" y="767.25" width="7.80" height="57.52" fill="#FF1C9C"/>
<rect x="725.70" y="822.35" width="7.80" height="39.00" fill="#D5583D"/>
<rect x="725.70" y="767.25" width="7.80" height="54.20" fill="#FF1C9C"/>
<rect x="735.30" y="821.40" width="7.80" height="39.95" fill="#D5583D"/>
<rect x="735.30" y="767.25" width="7.80" height="53.25" fill="#FF1C9C"/>
<rect x="744.90" y="857.50" width="7.80" height="3.85" fill="#D4A01F"/>
<rect x="744.90" y="820.92" width="7.80" height="35.68" fill="#D5583D"/>
<rect x="744.90" y="767.25" width="7.80" height="52.77" fill="#FF1C9C"/>
<rect x="754.50" y="858.45" width="7.80" height="2.90" fill="#D4A01F"/>
<rect x="754.50" y="821.88" width="7.80" height="35.68" fill="#D5583D"/>
<rect x="754.50" y="767.25" width="7.80" height="53.73" fill="#FF1C9C"/>
<rect x="764.10" y="860.35" width="7.80" height="1.00" fill="#D4A01F"/>
<rect x="764.10" y="828.72" width="7.80" height="30.73" fill="#D5583D"/>
<rect x="764.10" y="767.25" width="7.80" height="60.57" fill="#FF1C9C"/>
<rect x="773.70" y="828.05" width="7.80" height="33.30" fill="#D5583D"/>
<rect x="773.70" y="767.25" width="7.80" height="59.90" fill="#FF1C9C"/>
<rect x="783.30" y="861.30" width="7.80" height="0.05" fill="#D4A01F"/>
<rect x="783.30" y="820.45" width="7.80" height="39.95" fill="#D5583D"/>
<rect x="783.30" y="767.25" width="7.80" height="52.30" fill="#FF1C9C"/>
<rect x="792.90" y="856.55" width="7.80" height="4.80" fill="#D4A01F"/>
<rect x="792.90" y="826.34" width="7.80" height="29.31" fill="#D5583D"/>
<rect x="792.90" y="767.25" width="7.80" height="58.19" fill="#FF1C9C"/>
<rect x="802.50" y="825.67" width="7.80" height="35.68" fill="#D5583D"/>
<rect x="802.50" y="767.25" width="7.80" height="57.52" fill="#FF1C9C"/>
<rect x="847.30" y="766.30" width="38.40" height="96.00" fill="#0b0805"/>
<rect x="848.20" y="767.25" width="7.80" height="94.10" fill="#FF7050"/>
<rect x="857.80" y="767.25" width="7.80" height="94.10" fill="#FF7050"/>
<rect x="867.40" y="767.25" width="7.80" height="94.10" fill="#FF7050"/>
<rect x="877.00" y="767.25" width="7.80" height="94.10" fill="#FF7050"/>
<rect x="890.04" y="766.30" width="67.20" height="96.00" fill="#0b0805"/>
<rect x="890.94" y="859.40" width="7.80" height="1.95" fill="#4876FF"/>
<rect x="890.94" y="856.55" width="7.80" height="1.95" fill="#3A3030"/>
<rect x="890.94" y="848.00" width="7.80" height="7.65" fill="#8B7558"/>
<rect x="890.94" y="800.50" width="7.80" height="46.60" fill="#FF7050"/>
<rect x="890.94" y="769.15" width="7.80" height="30.45" fill="#FF7050"/>
<rect x="890.94" y="767.25" width="7.80" height="1.00" fill="#C71585"/>
<rect x="900.54" y="858.45" width="7.80" height="2.90" fill="#3A3030"/>
<rect x="900.54" y="853.70" width="7.80" height="3.85" fill="#8B7558"/>
<rect x="900.54" y="808.10" width="7.80" height="44.70" fill="#FF7050"/>
<rect x="900.54" y="768.20" width="7.80" height="39.00" fill="#FF7050"/>
<rect x="900.54" y="767.25" width="7.80" height="0.05" fill="#C71585"/>
<rect x="910.14" y="858.45" width="7.80" height="2.90" fill="#8B7558"/>
<rect x="910.14" y="854.65" width="7.80" height="2.90" fill="#D5583D"/>
<rect x="910.14" y="779.60" width="7.80" height="74.15" fill="#FF7050"/>
<rect x="910.14" y="767.25" width="7.80" height="11.45" fill="#FF1C9C"/>
<rect x="919.74" y="859.40" width="7.80" height="1.95" fill="#FFC125"/>
<rect x="919.74" y="843.25" width="7.80" height="15.25" fill="#D5583D"/>
<rect x="919.74" y="774.85" width="7.80" height="67.50" fill="#FF7050"/>
<rect x="919.74" y="767.25" width="7.80" height="6.70" fill="#FF1C9C"/>
<rect x="929.34" y="853.70" width="7.80" height="7.65" fill="#8B7558"/>
<rect x="929.34" y="846.10" width="7.80" height="6.70" fill="#D5583D"/>
<rect x="929.34" y="778.65" width="7.80" height="66.55" fill="#FF7050"/>
<rect x="929.34" y="767.25" width="7.80" height="10.50" fill="#FF1C9C"/>
<rect x="938.94" y="857.50" width="7.80" height="3.85" fill="#FFC125"/>
<rect x="938.94" y="836.60" width="7.80" height="20.00" fill="#D5583D"/>
<rect x="938.94" y="773.90" width="7.80" height="61.80" fill="#FF7050"/>
<rect x="938.94" y="767.25" width="7.80" height="5.75" fill="#FF1C9C"/>
<rect x="948.54" y="858.45" width="7.80" height="2.90" fill="#FFC125"/>
<rect x="948.54" y="845.15" width="7.80" height="12.40" fill="#D5583D"/>
<rect x="948.54" y="776.75" width="7.80" height="67.50" fill="#FF7050"/>
<rect x="948.54" y="767.25" width="7.80" height="8.60" fill="#FF1C9C"/>
<rect x="961.58" y="766.30" width="9.60" height="96.00" fill="#0b0805"/>
<rect x="962.48" y="767.25" width="7.80" height="94.10" fill="#FF7050"/>
<rect x="975.52" y="766.30" width="9.60" height="96.00" fill="#0b0805"/>
<rect x="976.42" y="767.25" width="7.80" height="94.10" fill="#FF7050"/>
<rect x="989.46" y="766.30" width="19.20" height="96.00" fill="#0b0805"/>
<rect x="990.36" y="767.25" width="7.80" height="94.10" fill="#FF7050"/>
<rect x="999.96" y="767.25" width="7.80" height="94.10" fill="#FF7050"/>
<rect x="1013.00" y="766.30" width="9.60" height="96.00" fill="#0b0805"/>
<rect x="1013.90" y="767.25" width="7.80" height="94.10" fill="#FF7050"/>
<rect x="1026.94" y="766.30" width="268.80" height="96.00" fill="#0b0805"/>
<rect x="1027.84" y="767.25" width="7.80" height="94.10" fill="#EA6543"/>
<rect x="1037.44" y="767.25" width="7.80" height="94.10" fill="#EA6543"/>
<rect x="1047.04" y="767.25" width="7.80" height="94.10" fill="#EA6543"/>
<rect x="1056.64" y="767.25" width="7.80" height="94.10" fill="#EA6543"/>
<rect x="1066.24" y="767.25" width="7.80" height="94.10" fill="#EA6543"/>
<rect x="1075.84" y="767.25" width="7.80" height="94.10" fill="#EA6543"/>
<rect x="1085.44" y="767.25" width="7.80" height="94.10" fill="#EA6543"/>
<rect x="1095.04" y="767.25" width="7.80" height="94.10" fill="#EA6543"/>
<rect x="1104.64" y="767.25" width="7.80" height="94.10" fill="#EA6543"/>
<rect x="1114.24" y="767.25" width="7.80" height="94.10" fill="#EA6543"/>
<rect x="1123.84" y="767.25" width="7.80" height="94.10" fill="#EA6543"/>
<rect x="1133.44" y="767.25" width="7.80" height="94.10" fill="#EA6543"/>
<rect x="1143.04" y="767.25" width="7.80" height="94.10" fill="#EA6543"/>
<rect x="1152.64" y="767.25" width="7.80" height="94.10" fill="#EA6543"/>
<rect x="1162.24" y="767.25" width="7.80" height="94.10" fill="#EA6543"/>
<rect x="1171.84" y="767.25" width="7.80" height="94.10" fill="#EA6543"/>
<rect x="1181.44" y="767.25" width="7.80" height="94.10" fill="#EA6543"/>
<rect x="1191.04" y="767.25" width="7.80" height="94.10" fill="#EA6543"/>
<rect x="1200.64" y="767.25" width="7.80" height="94.10" fill="#EA6543"/>
<rect x="1210.24" y="767.25" width="7.80" height="94.10" fill="#EA6543"/>
<rect x="1219.84" y="767.25" width="7.80" height="94.10" fill="#EA6543"/>
<rect x="1229.44" y="767.25" width="7.80" height="94.10" fill="#EA6543"/>
<rect x="1239.04" y="767.25" width="7.80" height="94.10" fill="#EA6543"/>
<rect x="1248.64" y="767.25" width="7.80" height="94.10" fill="#EA6543"/>
<rect x="1258.24" y="767.25" width="7.80" height="94.10" fill="#EA6543"/>
<rect x="1267.84" y="767.25" width="7.80" height="94.10" fill="#EA6543"/>
<rect x="1277.44" y="767.25" width="7.80" height="94.10" fill="#EA6543"/>
<rect x="1287.04" y="767.25" width="7.80" height="94.10" fill="#EA6543"/>
<rect x="1300.08" y="766.30" width="19.20" height="96.00" fill="#0b0805"/>
<rect x="1300.98" y="861.30" width="7.80" height="0.05" fill="#3A3030"/>
<rect x="1300.98" y="847.52" width="7.80" height="12.87" fill="#D5583D"/>
<rect x="1300.98" y="776.75" width="7.80" height="69.87" fill="#FF7050"/>
<rect x="1300.98" y="767.25" width="7.80" height="8.60" fill="#FF1C9C"/>
<rect x="1310.58" y="850.85" width="7.80" height="10.50" fill="#D5583D"/>
<rect x="1310.58" y="795.27" width="7.80" height="54.68" fill="#FF7050"/>
<rect x="1310.58" y="767.25" width="7.80" height="27.12" fill="#FF1C9C"/>
<rect x="1323.62" y="766.30" width="38.40" height="96.00" fill="#0b0805"/>
<rect x="1324.52" y="833.75" width="7.80" height="27.60" fill="#D5583D"/>
<rect x="1324.52" y="808.10" width="7.80" height="24.75" fill="#FF7050"/>
<rect x="1324.52" y="767.25" width="7.80" height="39.95" fill="#FF1C9C"/>
<rect x="1334.12" y="837.08" width="7.80" height="24.27" fill="#D5583D"/>
<rect x="1334.12" y="820.45" width="7.80" height="15.72" fill="#FF7050"/>
<rect x="1334.12" y="792.90" width="7.80" height="26.65" fill="#FF7050"/>
<rect x="1334.12" y="767.25" width="7.80" height="24.75" fill="#FF1C9C"/>
<rect x="1343.72" y="837.55" width="7.80" height="23.80" fill="#D5583D"/>
<rect x="1343.72" y="817.60" width="7.80" height="19.05" fill="#FF7050"/>
<rect x="1343.72" y="793.85" width="7.80" height="22.85" fill="#FF7050"/>
<rect x="1343.72" y="767.25" width="7.80" height="25.70" fill="#FF1C9C"/>
<rect x="1353.32" y="837.08" width="7.80" height="24.27" fill="#D5583D"/>
<rect x="1353.32" y="822.35" width="7.80" height="13.83" fill="#FF7050"/>
<rect x="1353.32" y="800.50" width="7.80" height="20.95" fill="#FF7050"/>
<rect x="1353.32" y="767.25" width="7.80" height="32.35" fill="#FF1C9C"/>
<rect x="1366.36" y="766.30" width="9.60" height="96.00" fill="#0b0805"/>
<rect x="1367.26" y="859.40" width="7.80" height="1.95" fill="#FFC125"/>
<rect x="1367.26" y="856.55" width="7.80" height="1.95" fill="#D4A01F"/>
<rect x="1367.26" y="824.25" width="7.80" height="31.40" fill="#D5583D"/>
<rect x="1367.26" y="800.50" width="7.80" height="22.85" fill="#FF7050"/>
<rect x="1367.26" y="793.85" width="7.80" height="5.75" fill="#FF7050"/>
<rect x="1367.26" y="767.25" width="7.80" height="25.70" fill="#FF1C9C"/>
<rect x="1380.30" y="766.30" width="38.40" height="96.00" fill="#0b0805"/>
<rect x="1381.20" y="767.25" width="7.80" height="94.10" fill="#D5583D"/>
<rect x="1390.80" y="767.25" width="7.80" height="94.10" fill="#D5583D"/>
<rect x="1400.40" y="767.25" width="7.80" height="94.10" fill="#D5583D"/>
<rect x="1410.00" y="767.25" width="7.80" height="94.10" fill="#D5583D"/>
<rect x="1423.04" y="766.30" width="19.20" height="96.00" fill="#0b0805"/>
<rect x="1423.94" y="859.40" width="7.80" height="1.95" fill="#3A3030"/>
<rect x="1423.94" y="800.50" width="7.80" height="58.00" fill="#D5583D"/>
<rect x="1423.94" y="784.35" width="7.80" height="15.25" fill="#FF7050"/>
<rect x="1423.94" y="769.15" width="7.80" height="14.30" fill="#FF7050"/>
<rect x="1423.94" y="767.25" width="7.80" height="1.00" fill="#3A3030"/>
<rect x="1433.54" y="833.75" width="7.80" height="27.60" fill="#8B7558"/>
<rect x="1433.54" y="792.90" width="7.80" height="39.95" fill="#D5583D"/>
<rect x="1433.54" y="769.15" width="7.80" height="22.85" fill="#FF7050"/>
<rect x="1433.54" y="767.25" width="7.80" height="1.00" fill="#3A3030"/>
<rect x="1446.58" y="766.30" width="9.60" height="96.00" fill="#0b0805"/>
<rect x="1447.48" y="834.70" width="7.80" height="26.65" fill="#8B7558"/>
<rect x="1447.48" y="820.45" width="7.80" height="13.35" fill="#FFC125"/>
<rect x="1447.48" y="781.50" width="7.80" height="38.05" fill="#D5583D"/>
<rect x="1447.48" y="769.15" width="7.80" height="11.45" fill="#FF7050"/>
<rect x="1447.48" y="767.25" width="7.80" height="1.00" fill="#3A3030"/>
<rect x="1460.52" y="766.30" width="9.60" height="96.00" fill="#0b0805"/>
<rect x="1461.42" y="859.40" width="7.80" height="1.95" fill="#3A3030"/>
<rect x="1461.42" y="809.05" width="7.80" height="49.45" fill="#D5583D"/>
<rect x="1461.42" y="793.85" width="7.80" height="14.30" fill="#FF7050"/>
<rect x="1461.42" y="769.15" width="7.80" height="23.80" fill="#FF7050"/>
<rect x="1461.42" y="767.25" width="7.80" height="1.00" fill="#3A3030"/>
<rect x="1474.46" y="766.30" width="19.20" height="96.00" fill="#0b0805"/>
<rect x="1475.36" y="857.50" width="7.80" height="3.85" fill="#FFC125"/>
<rect x="1475.36" y="826.15" width="7.80" height="30.45" fill="#D5583D"/>
<rect x="1475.36" y="797.65" width="7.80" height="27.60" fill="#FF7050"/>
<rect x="1475.36" y="776.75" width="7.80" height="20.00" fill="#FF7050"/>
<rect x="1475.36" y="767.25" width="7.80" height="8.60" fill="#FF1C9C"/>
<rect x="1484.96" y="812.85" width="7.80" height="48.50" fill="#8B7558"/>
<rect x="1484.96" y="810.95" width="7.80" height="1.00" fill="#D5583D"/>
<rect x="1484.96" y="797.65" width="7.80" height="12.40" fill="#FF7050"/>
<rect x="1484.96" y="780.55" width="7.80" height="16.20" fill="#FF7050"/>
<rect x="1484.96" y="767.25" width="7.80" height="12.40" fill="#FF7050"/>
<rect x="1529.55" y="766.30" width="9.60" height="96.00" fill="#0b0805"/>
<rect x="1530.45" y="767.25" width="7.80" height="94.10" fill="#D4A01F"/>
<rect x="1543.49" y="766.30" width="28.80" height="96.00" fill="#0b0805"/>
<rect x="1544.39" y="767.25" width="7.80" height="94.10" fill="#FFC125"/>
<rect x="1553.99" y="767.25" width="7.80" height="94.10" fill="#FFC125"/>
<rect x="1563.59" y="767.25" width="7.80" height="94.10" fill="#FFC125"/>
<rect x="1576.63" y="766.30" width="57.60" height="96.00" fill="#0b0805"/>
<rect x="1577.53" y="767.25" width="7.80" height="94.10" fill="#FFF68F"/>
<rect x="1587.13" y="767.25" width="7.80" height="94.10" fill="#FFF68F"/>
<rect x="1596.73" y="767.25" width="7.80" height="94.10" fill="#FFF68F"/>
<rect x="1606.33" y="767.25" width="7.80" height="94.10" fill="#FFF68F"/>
<rect x="1615.93" y="767.25" width="7.80" height="94.10" fill="#FFF68F"/>
<rect x="1625.53" y="767.25" width="7.80" height="94.10" fill="#FFF68F"/>
<rect x="1638.57" y="766.30" width="28.80" height="96.00" fill="#0b0805"/>
<rect x="1639.47" y="767.25" width="7.80" height="94.10" fill="#8B7355"/>
<rect x="1649.07" y="767.25" width="7.80" height="94.10" fill="#8B7355"/>
<rect x="1658.67" y="767.25" width="7.80" height="94.10" fill="#8B7355"/>
<rect x="1671.71" y="766.30" width="9.60" height="96.00" fill="#0b0805"/>
<rect x="1672.61" y="767.25" width="7.80" height="94.10" fill="#EE82EE"/>
<rect x="1685.65" y="766.30" width="28.80" height="96.00" fill="#0b0805"/>
<rect x="1686.55" y="767.25" width="7.80" height="94.10" fill="#8B4789"/>
<rect x="1696.15" y="767.25" width="7.80" height="94.10" fill="#8B4789"/>
<rect x="1705.75" y="767.25" width="7.80" height="94.10" fill="#8B4789"/>
<rect x="1718.79" y="766.30" width="9.60" height="96.00" fill="#0b0805"/>
<rect x="1719.69" y="767.25" width="7.80" height="94.10" fill="#4876FF"/>
<rect x="1732.73" y="766.30" width="9.60" height="96.00" fill="#0b0805"/>
<rect x="1733.63" y="767.25" width="7.80" height="94.10" fill="#A9C1DE"/>
<rect x="1746.67" y="766.30" width="9.60" height="96.00" fill="#0b0805"/>
<rect x="1747.57" y="767.25" width="7.80" height="94.10" fill="#4D4D4D"/>
<rect x="1760.61" y="766.30" width="38.40" height="96.00" fill="#0b0805"/>
<rect x="1761.51" y="767.25" width="7.80" height="94.10" fill="#4D4D4D"/>
<rect x="1771.11" y="767.25" width="7.80" height="94.10" fill="#4D4D4D"/>
<rect x="1780.71" y="767.25" width="7.80" height="94.10" fill="#4D4D4D"/>
<rect x="1790.31" y="767.25" width="7.80" height="94.10" fill="#4D4D4D"/>
<path d="M1803.05 766.80H1822.85M1803.05 861.80H1822.85" stroke="#222" stroke-width="0.9" fill="none"/>
</g>
<path d="M50.10 833.13v4.0m-1.3 0h2.6M50.10 814.41v5.0m-1.3 0h2.6M50.10 798.83v4.0m-1.3 0h2.6M50.10 767.20v3.0m-1.3 0h2.6M59.70 841.77v4.0m-1.3 0h2.6M59.70 816.22v7.0m-1.3 0h2.6M59.70 786.20v7.0m-1.3 0h2.6M59.70 767.20v3.0m-1.3 0h2.6M69.30 838.07v7.0m-1.3 0h2.6M69.30 811.18v3.0m-1.3 0h2.6M69.30 775.75v4.0m-1.3 0h2.6M69.30 767.20v3.0m-1.3 0h2.6M78.90 838.07v7.0m-1.3 0h2.6M78.90 811.94v7.0m-1.3 0h2.6M78.90 787.15v10.0m-1.3 0h2.6M78.90 767.20v3.0m-1.3 0h2.6M88.50 834.36v5.0m-1.3 0h2.6M88.50 813.18v4.0m-1.3 0h2.6M88.50 767.20v3.0m-1.3 0h2.6M98.10 836.07v7.0m-1.3 0h2.6M98.10 808.71v10.0m-1.3 0h2.6M98.10 773.85v5.0m-1.3 0h2.6M98.10 767.20v3.0m-1.3 0h2.6M107.70 841.11v7.0m-1.3 0h2.6M107.70 814.41v5.0m-1.3 0h2.6M107.70 770.05v7.0m-1.3 0h2.6M107.70 767.20v3.0m-1.3 0h2.6M117.30 827.62v4.0m-1.3 0h2.6M117.30 810.71v4.0m-1.3 0h2.6M117.30 768.62v3.0m-1.3 0h2.6M117.30 767.20v3.0m-1.3 0h2.6M131.24 860.30v3.0m-1.3 0h2.6M131.24 824.67v4.0m-1.3 0h2.6M131.24 800.45v4.0m-1.3 0h2.6M131.24 787.62v4.0m-1.3 0h2.6M131.24 767.20v3.0m-1.3 0h2.6M145.18 845.10v3.0m-1.3 0h2.6M145.18 807.57v7.0m-1.3 0h2.6M145.18 793.80v10.0m-1.3 0h2.6M145.18 775.75v4.0m-1.3 0h2.6M145.18 767.20v3.0m-1.3 0h2.6M154.78 846.05v5.0m-1.3 0h2.6M154.78 843.20v5.0m-1.3 0h2.6M154.78 811.85v3.0m-1.3 0h2.6M154.78 794.75v4.0m-1.3 0h2.6M154.78 776.70v7.0m-1.3 0h2.6M154.78 767.20v3.0m-1.3 0h2.6M164.38 841.77v10.0m-1.3 0h2.6M164.38 837.50v5.0m-1.3 0h2.6M164.38 806.15v10.0m-1.3 0h2.6M164.38 791.90v10.0m-1.3 0h2.6M164.38 771.95v5.0m-1.3 0h2.6M164.38 767.20v3.0m-1.3 0h2.6M178.32 852.22v3.0m-1.3 0h2.6M178.32 827.05v10.0m-1.3 0h2.6M178.32 804.25v10.0m-1.3 0h2.6M178.32 767.20v3.0m-1.3 0h2.6M192.26 833.70v3.0m-1.3 0h2.6M192.26 825.15v7.0m-1.3 0h2.6M192.26 815.65v10.0m-1.3 0h2.6M192.26 767.20v3.0m-1.3 0h2.6M201.86 843.20v7.0m-1.3 0h2.6M201.86 829.42v7.0m-1.3 0h2.6M201.86 767.20v3.0m-1.3 0h2.6M211.46 847.00v7.0m-1.3 0h2.6M211.46 837.97v7.0m-1.3 0h2.6M211.46 824.20v3.0m-1.3 0h2.6M211.46 767.20v3.0m-1.3 0h2.6M225.40 844.15v7.0m-1.3 0h2.6M225.40 831.80v7.0m-1.3 0h2.6M225.40 825.15v3.0m-1.3 0h2.6M225.40 767.20v3.0m-1.3 0h2.6M235.00 858.40v3.0m-1.3 0h2.6M235.00 844.15v3.0m-1.3 0h2.6M235.00 837.97v4.0m-1.3 0h2.6M235.00 767.20v3.0m-1.3 0h2.6M296.94 858.87v3.4m-1.3 0h2.6M296.94 767.20v3.0m-1.3 0h2.6M306.54 857.92v4.0m-1.3 0h2.6M306.54 856.50v3.0m-1.3 0h2.6M306.54 845.10v3.0m-1.3 0h2.6M306.54 767.20v3.0m-1.3 0h2.6M316.14 860.30v3.4m-1.3 0h2.6M316.14 767.20v3.0m-1.3 0h2.6M382.42 859.35v3.4m-1.3 0h2.6M382.42 767.20v3.0m-1.3 0h2.6M396.36 855.55v3.4m-1.3 0h2.6M396.36 767.20v3.0m-1.3 0h2.6M405.96 855.55v4.0m-1.3 0h2.6M405.96 848.90v10.0m-1.3 0h2.6M405.96 828.00v3.0m-1.3 0h2.6M405.96 767.20v3.0m-1.3 0h2.6M415.56 858.40v3.0m-1.3 0h2.6M415.56 856.50v3.0m-1.3 0h2.6M415.56 851.75v6.0m-1.3 0h2.6M415.56 767.20v3.0m-1.3 0h2.6M429.50 860.30v3.4m-1.3 0h2.6M429.50 767.20v3.0m-1.3 0h2.6M439.10 860.77v3.4m-1.3 0h2.6M439.10 767.20v3.0m-1.3 0h2.6M448.70 767.20v3.0m-1.3 0h2.6M572.58 767.20v3.0m-1.3 0h2.6M601.38 859.35v3.4m-1.3 0h2.6M601.38 767.20v3.0m-1.3 0h2.6M620.58 849.85v4.0m-1.3 0h2.6M620.58 843.20v10.0m-1.3 0h2.6M620.58 767.20v3.0m-1.3 0h2.6M644.12 857.45v3.0m-1.3 0h2.6M644.12 834.65v5.0m-1.3 0h2.6M644.12 825.15v10.0m-1.3 0h2.6M644.12 767.20v3.0m-1.3 0h2.6M653.72 858.40v3.0m-1.3 0h2.6M653.72 842.25v3.0m-1.3 0h2.6M653.72 827.05v4.0m-1.3 0h2.6M653.72 767.20v3.0m-1.3 0h2.6M691.20 857.45v6.0m-1.3 0h2.6M691.20 829.14v7.0m-1.3 0h2.6M691.20 767.20v3.0m-1.3 0h2.6M700.80 852.70v3.0m-1.3 0h2.6M700.80 818.02v5.0m-1.3 0h2.6M700.80 767.20v3.0m-1.3 0h2.6M710.40 854.60v4.0m-1.3 0h2.6M710.40 819.92v10.0m-1.3 0h2.6M710.40 767.20v3.0m-1.3 0h2.6M720.00 858.87v4.0m-1.3 0h2.6M720.00 825.62v7.0m-1.3 0h2.6M720.00 767.20v3.0m-1.3 0h2.6M729.60 822.30v3.4m-1.3 0h2.6M729.60 767.20v3.0m-1.3 0h2.6M739.20 821.35v3.4m-1.3 0h2.6M739.20 767.20v3.0m-1.3 0h2.6M748.80 857.45v3.0m-1.3 0h2.6M748.80 820.87v3.0m-1.3 0h2.6M748.80 767.20v3.0m-1.3 0h2.6M758.40 858.40v4.0m-1.3 0h2.6M758.40 821.82v7.0m-1.3 0h2.6M758.40 767.20v3.0m-1.3 0h2.6M768.00 860.30v4.0m-1.3 0h2.6M768.00 828.66v7.0m-1.3 0h2.6M768.00 767.20v3.0m-1.3 0h2.6M777.60 828.00v3.4m-1.3 0h2.6M777.60 767.20v3.0m-1.3 0h2.6M787.20 820.40v5.0m-1.3 0h2.6M787.20 767.20v3.0m-1.3 0h2.6M796.80 856.50v3.0m-1.3 0h2.6M796.80 826.29v4.0m-1.3 0h2.6M796.80 767.20v3.0m-1.3 0h2.6M806.40 825.62v3.4m-1.3 0h2.6M806.40 767.20v3.0m-1.3 0h2.6M894.84 859.35v3.0m-1.3 0h2.6M894.84 856.50v6.0m-1.3 0h2.6M894.84 847.95v5.0m-1.3 0h2.6M894.84 800.45v5.0m-1.3 0h2.6M894.84 769.10v7.0m-1.3 0h2.6M894.84 767.20v3.0m-1.3 0h2.6M904.44 858.40v6.0m-1.3 0h2.6M904.44 853.65v3.0m-1.3 0h2.6M904.44 808.05v10.0m-1.3 0h2.6M904.44 768.15v3.0m-1.3 0h2.6M914.04 858.40v3.0m-1.3 0h2.6M914.04 854.60v6.0m-1.3 0h2.6M914.04 779.55v5.0m-1.3 0h2.6M914.04 767.20v3.0m-1.3 0h2.6M923.64 859.35v3.0m-1.3 0h2.6M923.64 843.20v10.0m-1.3 0h2.6M923.64 774.80v3.0m-1.3 0h2.6M923.64 767.20v3.0m-1.3 0h2.6M933.24 853.65v6.0m-1.3 0h2.6M933.24 846.05v5.0m-1.3 0h2.6M933.24 778.60v3.0m-1.3 0h2.6M933.24 767.20v3.0m-1.3 0h2.6M942.84 857.45v6.0m-1.3 0h2.6M942.84 836.55v5.0m-1.3 0h2.6M942.84 773.85v10.0m-1.3 0h2.6M942.84 767.20v3.0m-1.3 0h2.6M952.44 858.40v4.0m-1.3 0h2.6M952.44 845.10v4.0m-1.3 0h2.6M952.44 776.70v5.0m-1.3 0h2.6M952.44 767.20v3.0m-1.3 0h2.6M1304.88 847.47v4.0m-1.3 0h2.6M1304.88 776.70v10.0m-1.3 0h2.6M1304.88 767.20v3.0m-1.3 0h2.6M1314.48 850.80v6.0m-1.3 0h2.6M1314.48 795.22v10.0m-1.3 0h2.6M1314.48 767.20v3.0m-1.3 0h2.6M1328.42 833.70v5.0m-1.3 0h2.6M1328.42 808.05v4.0m-1.3 0h2.6M1328.42 767.20v3.0m-1.3 0h2.6M1338.02 837.02v10.0m-1.3 0h2.6M1338.02 820.40v4.0m-1.3 0h2.6M1338.02 792.85v4.0m-1.3 0h2.6M1338.02 767.20v3.0m-1.3 0h2.6M1347.62 837.50v7.0m-1.3 0h2.6M1347.62 817.55v4.0m-1.3 0h2.6M1347.62 793.80v4.0m-1.3 0h2.6M1347.62 767.20v3.0m-1.3 0h2.6M1357.22 837.02v10.0m-1.3 0h2.6M1357.22 822.30v7.0m-1.3 0h2.6M1357.22 800.45v5.0m-1.3 0h2.6M1357.22 767.20v3.0m-1.3 0h2.6M1371.16 859.35v6.0m-1.3 0h2.6M1371.16 856.50v3.0m-1.3 0h2.6M1371.16 824.20v3.0m-1.3 0h2.6M1371.16 800.45v5.0m-1.3 0h2.6M1371.16 793.80v7.0m-1.3 0h2.6M1371.16 767.20v3.0m-1.3 0h2.6M1427.84 859.35v4.0m-1.3 0h2.6M1427.84 800.45v4.0m-1.3 0h2.6M1427.84 784.30v10.0m-1.3 0h2.6M1427.84 769.10v5.0m-1.3 0h2.6M1427.84 767.20v3.0m-1.3 0h2.6M1437.44 833.70v7.0m-1.3 0h2.6M1437.44 792.85v5.0m-1.3 0h2.6M1437.44 769.10v5.0m-1.3 0h2.6M1437.44 767.20v3.0m-1.3 0h2.6M1451.38 834.65v3.0m-1.3 0h2.6M1451.38 820.40v4.0m-1.3 0h2.6M1451.38 781.45v3.0m-1.3 0h2.6M1451.38 769.10v4.0m-1.3 0h2.6M1451.38 767.20v3.0m-1.3 0h2.6M1465.32 859.35v4.0m-1.3 0h2.6M1465.32 809.00v4.0m-1.3 0h2.6M1465.32 793.80v5.0m-1.3 0h2.6M1465.32 769.10v4.0m-1.3 0h2.6M1465.32 767.20v3.0m-1.3 0h2.6M1479.26 857.45v4.0m-1.3 0h2.6M1479.26 826.10v10.0m-1.3 0h2.6M1479.26 797.60v10.0m-1.3 0h2.6M1479.26 776.70v3.0m-1.3 0h2.6M1479.26 767.20v3.0m-1.3 0h2.6M1488.86 812.80v7.0m-1.3 0h2.6M1488.86 810.90v5.0m-1.3 0h2.6M1488.86 797.60v3.0m-1.3 0h2.6M1488.86 780.50v3.0m-1.3 0h2.6M1488.86 767.20v3.0m-1.3 0h2.6" stroke="#1a1206" stroke-width="0.9" fill="none"/>
<path d="M247.14 759.68l3.6 3.6m0 -3.6l-3.6 3.6M256.74 759.68l3.6 3.6m0 -3.6l-3.6 3.6M266.34 759.68l3.6 3.6m0 -3.6l-3.6 3.6M275.94 759.68l3.6 3.6m0 -3.6l-3.6 3.6M285.54 759.68l3.6 3.6m0 -3.6l-3.6 3.6M665.86 759.68l3.6 3.6m0 -3.6l-3.6 3.6M675.46 759.68l3.6 3.6m0 -3.6l-3.6 3.6M850.30 759.68l3.6 3.6m0 -3.6l-3.6 3.6M859.90 759.68l3.6 3.6m0 -3.6l-3.6 3.6M869.50 759.68l3.6 3.6m0 -3.6l-3.6 3.6M879.10 759.68l3.6 3.6m0 -3.6l-3.6 3.6M964.58 759.68l3.6 3.6m0 -3.6l-3.6 3.6M978.52 759.68l3.6 3.6m0 -3.6l-3.6 3.6M992.46 759.68l3.6 3.6m0 -3.6l-3.6 3.6M1002.06 759.68l3.6 3.6m0 -3.6l-3.6 3.6M1016.00 759.68l3.6 3.6m0 -3.6l-3.6 3.6M1029.94 759.68l3.6 3.6m0 -3.6l-3.6 3.6M1039.54 759.68l3.6 3.6m0 -3.6l-3.6 3.6M1049.14 759.68l3.6 3.6m0 -3.6l-3.6 3.6M1058.74 759.68l3.6 3.6m0 -3.6l-3.6 3.6M1068.34 759.68l3.6 3.6m0 -3.6l-3.6 3.6M1077.94 759.68l3.6 3.6m0 -3.6l-3.6 3.6M1087.54 759.68l3.6 3.6m0 -3.6l-3.6 3.6M1097.14 759.68l3.6 3.6m0 -3.6l-3.6 3.6M1106.74 759.68l3.6 3.6m0 -3.6l-3.6 3.6M1116.34 759.68l3.6 3.6m0 -3.6l-3.6 3.6M1125.94 759.68l3.6 3.6m0 -3.6l-3.6 3.6M1135.54 759.68l3.6 3.6m0 -3.6l-3.6 3.6M1145.14 759.68l3.6 3.6m0 -3.6l-3.6 3.6M1154.74 759.68l3.6 3.6m0 -3.6l-3.6 3.6M1164.34 759.68l3.6 3.6m0 -3.6l-3.6 3.6M1173.94 759.68l3.6 3.6m0 -3.6l-3.6 3.6M1183.54 759.68l3.6 3.6m0 -3.6l-3.6 3.6M1193.14 759.68l3.6 3.6m0 -3.6l-3.6 3.6M1202.74 759.68l3.6 3.6m0 -3.6l-3.6 3.6M1212.34 759.68l3.6 3.6m0 -3.6l-3.6 3.6M1221.94 759.68l3.6 3.6m0 -3.6l-3.6 3.6M1231.54 759.68l3.6 3.6m0 -3.6l-3.6 3.6M1241.14 759.68l3.6 3.6m0 -3.6l-3.6 3.6M1250.74 759.68l3.6 3.6m0 -3.6l-3.6 3.6M1260.34 759.68l3.6 3.6m0 -3.6l-3.6 3.6M1269.94 759.68l3.6 3.6m0 -3.6l-3.6 3.6M1279.54 759.68l3.6 3.6m0 -3.6l-3.6 3.6M1289.14 759.68l3.6 3.6m0 -3.6l-3.6 3.6M1383.30 759.68l3.6 3.6m0 -3.6l-3.6 3.6M1392.90 759.68l3.6 3.6m0 -3.6l-3.6 3.6M1402.50 759.68l3.6 3.6m0 -3.6l-3.6 3.6M1412.10 759.68l3.6 3.6m0 -3.6l-3.6 3.6M1532.55 759.68l3.6 3.6m0 -3.6l-3.6 3.6M1546.49 759.68l3.6 3.6m0 -3.6l-3.6 3.6M1556.09 759.68l3.6 3.6m0 -3.6l-3.6 3.6M1565.69 759.68l3.6 3.6m0 -3.6l-3.6 3.6M1579.63 759.68l3.6 3.6m0 -3.6l-3.6 3.6M1589.23 759.68l3.6 3.6m0 -3.6l-3.6 3.6M1598.83 759.68l3.6 3.6m0 -3.6l-3.6 3.6M1608.43 759.68l3.6 3.6m0 -3.6l-3.6 3.6M1618.03 759.68l3.6 3.6m0 -3.6l-3.6 3.6M1627.63 759.68l3.6 3.6m0 -3.6l-3.6 3.6M1641.57 759.68l3.6 3.6m0 -3.6l-3.6 3.6M1651.17 759.68l3.6 3.6m0 -3.6l-3.6 3.6M1660.77 759.68l3.6 3.6m0 -3.6l-3.6 3.6M1674.71 759.68l3.6 3.6m0 -3.6l-3.6 3.6M1688.65 759.68l3.6 3.6m0 -3.6l-3.6 3.6M1698.25 759.68l3.6 3.6m0 -3.6l-3.6 3.6M1707.85 759.68l3.6 3.6m0 -3.6l-3.6 3.6M1721.79 759.68l3.6 3.6m0 -3.6l-3.6 3.6M1735.73 759.68l3.6 3.6m0 -3.6l-3.6 3.6M1749.67 759.68l3.6 3.6m0 -3.6l-3.6 3.6M1763.61 759.68l3.6 3.6m0 -3.6l-3.6 3.6M1773.21 759.68l3.6 3.6m0 -3.6l-3.6 3.6M1782.81 759.68l3.6 3.6m0 -3.6l-3.6 3.6M1792.41 759.68l3.6 3.6m0 -3.6l-3.6 3.6" stroke="#000" stroke-width="1.45" fill="none"/>
<g font-family="Liberation Sans, Arial, Helvetica, sans-serif" font-size="12.5" fill="#4d4d4d" text-anchor="end">
<text x="36.5" y="771.2">1.00</text>
<line x1="38" y1="766.80" x2="44.2" y2="766.80" stroke="#222" stroke-width="1.1"/>
<text x="36.5" y="794.9">0.75</text>
<line x1="38" y1="790.55" x2="44.2" y2="790.55" stroke="#222" stroke-width="1.1"/>
<text x="36.5" y="818.7">0.50</text>
<line x1="38" y1="814.30" x2="44.2" y2="814.30" stroke="#222" stroke-width="1.1"/>
<text x="36.5" y="842.4">0.25</text>
<line x1="38" y1="838.05" x2="44.2" y2="838.05" stroke="#222" stroke-width="1.1"/>
<text x="36.5" y="866.2">0.00</text>
<line x1="38" y1="861.80" x2="44.2" y2="861.80" stroke="#222" stroke-width="1.1"/>
</g>
<text font-family="Liberation Sans, Arial, Helvetica, sans-serif" font-size="12.5" fill="#1a1a1a" text-anchor="middle" transform="translate(1831.5,814.0) rotate(90)">hgEur3</text>
<path d="M50.10 871.70v4.2M59.70 871.70v4.2M69.30 871.70v4.2M78.90 871.70v4.2M88.50 871.70v4.2M98.10 871.70v4.2M107.70 871.70v4.2M117.30 871.70v4.2M131.24 871.70v4.2M145.18 871.70v4.2M154.78 871.70v4.2M164.38 871.70v4.2M178.32 871.70v4.2M192.26 871.70v4.2M201.86 871.70v4.2M211.46 871.70v4.2M225.40 871.70v4.2M235.00 871.70v4.2M248.94 871.70v4.2M258.54 871.70v4.2M268.14 871.70v4.2M277.74 871.70v4.2M287.34 871.70v4.2M296.94 871.70v4.2M306.54 871.70v4.2M316.14 871.70v4.2M330.08 871.70v4.2M339.68 871.70v4.2M349.28 871.70v4.2M358.88 871.70v4.2M368.48 871.70v4.2M382.42 871.70v4.2M396.36 871.70v4.2M405.96 871.70v4.2M415.56 871.70v4.2M429.50 871.70v4.2M439.10 871.70v4.2M448.70 871.70v4.2M462.64 871.70v4.2M472.24 871.70v4.2M481.84 871.70v4.2M491.44 871.70v4.2M501.04 871.70v4.2M510.64 871.70v4.2M520.24 871.70v4.2M529.84 871.70v4.2M539.44 871.70v4.2M549.04 871.70v4.2M562.98 871.70v4.2M572.58 871.70v4.2M582.18 871.70v4.2M591.78 871.70v4.2M601.38 871.70v4.2M610.98 871.70v4.2M620.58 871.70v4.2M630.18 871.70v4.2M644.12 871.70v4.2M653.72 871.70v4.2M667.66 871.70v4.2M677.26 871.70v4.2M691.20 871.70v4.2M700.80 871.70v4.2M710.40 871.70v4.2M720.00 871.70v4.2M729.60 871.70v4.2M739.20 871.70v4.2M748.80 871.70v4.2M758.40 871.70v4.2M768.00 871.70v4.2M777.60 871.70v4.2M787.20 871.70v4.2M796.80 871.70v4.2M806.40 871.70v4.2M852.10 871.70v4.2M861.70 871.70v4.2M871.30 871.70v4.2M880.90 871.70v4.2M894.84 871.70v4.2M904.44 871.70v4.2M914.04 871.70v4.2M923.64 871.70v4.2M933.24 871.70v4.2M942.84 871.70v4.2M952.44 871.70v4.2M966.38 871.70v4.2M980.32 871.70v4.2M994.26 871.70v4.2M1003.86 871.70v4.2M1017.80 871.70v4.2M1031.74 871.70v4.2M1041.34 871.70v4.2M1050.94 871.70v4.2M1060.54 871.70v4.2M1070.14 871.70v4.2M1079.74 871.70v4.2M1089.34 871.70v4.2M1098.94 871.70v4.2M1108.54 871.70v4.2M1118.14 871.70v4.2M1127.74 871.70v4.2M1137.34 871.70v4.2M1146.94 871.70v4.2M1156.54 871.70v4.2M1166.14 871.70v4.2M1175.74 871.70v4.2M1185.34 871.70v4.2M1194.94 871.70v4.2M1204.54 871.70v4.2M1214.14 871.70v4.2M1223.74 871.70v4.2M1233.34 871.70v4.2M1242.94 871.70v4.2M1252.54 871.70v4.2M1262.14 871.70v4.2M1271.74 871.70v4.2M1281.34 871.70v4.2M1290.94 871.70v4.2M1304.88 871.70v4.2M1314.48 871.70v4.2M1328.42 871.70v4.2M1338.02 871.70v4.2M1347.62 871.70v4.2M1357.22 871.70v4.2M1371.16 871.70v4.2M1385.10 871.70v4.2M1394.70 871.70v4.2M1404.30 871.70v4.2M1413.90 871.70v4.2M1427.84 871.70v4.2M1437.44 871.70v4.2M1451.38 871.70v4.2M1465.32 871.70v4.2M1479.26 871.70v4.2M1488.86 871.70v4.2M1534.35 871.70v4.2M1548.29 871.70v4.2M1557.89 871.70v4.2M1567.49 871.70v4.2M1581.43 871.70v4.2M1591.03 871.70v4.2M1600.63 871.70v4.2M1610.23 871.70v4.2M1619.83 871.70v4.2M1629.43 871.70v4.2M1643.37 871.70v4.2M1652.97 871.70v4.2M1662.57 871.70v4.2M1676.51 871.70v4.2M1690.45 871.70v4.2M1700.05 871.70v4.2M1709.65 871.70v4.2M1723.59 871.70v4.2M1737.53 871.70v4.2M1751.47 871.70v4.2M1765.41 871.70v4.2M1775.01 871.70v4.2M1784.61 871.70v4.2M1794.21 871.70v4.2M1808.15 871.70v4.2M1817.75 871.70v4.2" stroke="#222" stroke-width="1.1" fill="none"/>
<g font-family="Liberation Sans, Arial, Helvetica, sans-serif" font-size="12.5" fill="#4d4d4d" text-anchor="end">
<text transform="translate(50.10,879.3) rotate(-90)" dy="0.36em" font-size="13.3">NEO18 / 9875 / I2a</text>
<text transform="translate(59.70,879.3) rotate(-90)" dy="0.36em" font-size="13.3">NEO27 / 9693 / I2a</text>
<text transform="translate(69.30,879.3) rotate(-90)" dy="0.36em" font-size="7">sf9 / 9144</text>
<text transform="translate(78.90,879.3) rotate(-90)" dy="0.36em">sf12 / 8895</text>
<text transform="translate(88.50,879.3) rotate(-90)" dy="0.36em">sbj001 / 8771 / I2</text>
<text transform="translate(98.10,879.3) rotate(-90)" dy="0.36em">Motala12 / 7626 / I2a</text>
<text transform="translate(107.70,879.3) rotate(-90)" dy="0.36em">Motala2 / 7594.5 / I2</text>
<text transform="translate(117.30,879.3) rotate(-90)" dy="0.36em">Motala1 / 7568.5</text>
<text transform="translate(131.24,879.3) rotate(-90)" dy="0.36em">NEO898 / 5081 / I2a</text>
<text transform="translate(145.18,879.3) rotate(-90)" dy="0.36em">ajv54 / 5080 / I2a</text>
<text transform="translate(154.78,879.3) rotate(-90)" dy="0.36em">Ajv58 / 4700 / I2a</text>
<text transform="translate(164.38,879.3) rotate(-90)" dy="0.36em">Ajv70 / 4700 / I2a</text>
<text transform="translate(178.32,879.3) rotate(-90)" dy="0.36em">ble008 / 9825</text>
<text transform="translate(192.26,879.3) rotate(-90)" dy="0.36em">H22 / 9363.5</text>
<text transform="translate(201.86,879.3) rotate(-90)" dy="0.36em">H26 / 9363.5 / I2</text>
<text transform="translate(211.46,879.3) rotate(-90)" dy="0.36em">NEO17 / 9147 / I2</text>
<text transform="translate(225.40,879.3) rotate(-90)" dy="0.36em">stg001 / 5857 / I2a</text>
<text transform="translate(235.00,879.3) rotate(-90)" dy="0.36em">VK531 / 4350 / R1b</text>
<text transform="translate(248.94,879.3) rotate(-90)" dy="0.36em">Sidelkino / 11258.5</text>
<text transform="translate(258.54,879.3) rotate(-90)" dy="0.36em">NEO202 / 10853 / R1a</text>
<text transform="translate(268.14,879.3) rotate(-90)" dy="0.36em">NEO539 / 10057</text>
<text transform="translate(277.74,879.3) rotate(-90)" dy="0.36em">NEO100 / 9927 / Q1b</text>
<text transform="translate(287.34,879.3) rotate(-90)" dy="0.36em">NEO536 / 9568 / R1b</text>
<text transform="translate(296.94,879.3) rotate(-90)" dy="0.36em">Karelia / 8279.5 / R1a</text>
<text transform="translate(306.54,879.3) rotate(-90)" dy="0.36em">NEO87 / 8204</text>
<text transform="translate(316.14,879.3) rotate(-90)" dy="0.36em">NEO88 / 7858 / R1b</text>
<text transform="translate(330.08,879.3) rotate(-90)" dy="0.36em">NEO555 / 8277 / R1b</text>
<text transform="translate(339.68,879.3) rotate(-90)" dy="0.36em">NEO559 / 8268 / R1b</text>
<text transform="translate(349.28,879.3) rotate(-90)" dy="0.36em">NEO558 / 8085 / R1a</text>
<text transform="translate(358.88,879.3) rotate(-90)" dy="0.36em">NEO557 / 7912 / R1b</text>
<text transform="translate(368.48,879.3) rotate(-90)" dy="0.36em">NEO560 / 7905 / R1b</text>
<text transform="translate(382.42,879.3) rotate(-90)" dy="0.36em">Latvia_MN2 / 5965</text>
<text transform="translate(396.36,879.3) rotate(-90)" dy="0.36em">NEO556 / 7030</text>
<text transform="translate(405.96,879.3) rotate(-90)" dy="0.36em">NEO173 / 6343</text>
<text transform="translate(415.56,879.3) rotate(-90)" dy="0.36em">NEO687 / 5443 / R1a</text>
<text transform="translate(429.50,879.3) rotate(-90)" dy="0.36em">NEO185 / 7028 / Q1b</text>
<text transform="translate(439.10,879.3) rotate(-90)" dy="0.36em">NEO186 / 6919 / R1b</text>
<text transform="translate(448.70,879.3) rotate(-90)" dy="0.36em">NEO192 / 6842</text>
<text transform="translate(462.64,879.3) rotate(-90)" dy="0.36em">NEO180 / 5939 / R1b</text>
<text transform="translate(472.24,879.3) rotate(-90)" dy="0.36em">NEO195 / 5747 / I2a</text>
<text transform="translate(481.84,879.3) rotate(-90)" dy="0.36em">NEO189 / 5604 / R1a</text>
<text transform="translate(491.44,879.3) rotate(-90)" dy="0.36em">NEO194 / 5597 / R1b</text>
<text transform="translate(501.04,879.3) rotate(-90)" dy="0.36em">NEO179 / 5465</text>
<text transform="translate(510.64,879.3) rotate(-90)" dy="0.36em">NEO184 / 5457</text>
<text transform="translate(520.24,879.3) rotate(-90)" dy="0.36em">NEO193 / 5451 / R1b</text>
<text transform="translate(529.84,879.3) rotate(-90)" dy="0.36em">NEO178 / 5268 / I2a</text>
<text transform="translate(539.44,879.3) rotate(-90)" dy="0.36em">NEO197 / 5245 / I2a</text>
<text transform="translate(549.04,879.3) rotate(-90)" dy="0.36em">NEO187 / 4940</text>
<text transform="translate(562.98,879.3) rotate(-90)" dy="0.36em">NEO171 / 5835</text>
<text transform="translate(572.58,879.3) rotate(-90)" dy="0.36em">NEO164 / 5669 / R1a</text>
<text transform="translate(582.18,879.3) rotate(-90)" dy="0.36em">NEO166 / 5663 / R1b</text>
<text transform="translate(591.78,879.3) rotate(-90)" dy="0.36em">NEO167 / 5655</text>
<text transform="translate(601.38,879.3) rotate(-90)" dy="0.36em">NEO163 / 5604 / J1</text>
<text transform="translate(610.98,879.3) rotate(-90)" dy="0.36em">NEO170 / 5563</text>
<text transform="translate(620.58,879.3) rotate(-90)" dy="0.36em">NEO174 / 5307</text>
<text transform="translate(630.18,879.3) rotate(-90)" dy="0.36em">NEO160 / 5263</text>
<text transform="translate(644.12,879.3) rotate(-90)" dy="0.36em">NEO212 / 7393 / I2a</text>
<text transform="translate(653.72,879.3) rotate(-90)" dy="0.36em">NEO113 / 7298 / R1a</text>
<text transform="translate(667.66,879.3) rotate(-90)" dy="0.36em">Ukraine_N1 / 10643 / R1</text>
<text transform="translate(677.26,879.3) rotate(-90)" dy="0.36em">NEO501 / 10622 / Q</text>
<text transform="translate(691.20,879.3) rotate(-90)" dy="0.36em">NEO521 / 8270</text>
<text transform="translate(700.80,879.3) rotate(-90)" dy="0.36em">NEO270 / 7293 / I2a</text>
<text transform="translate(710.40,879.3) rotate(-90)" dy="0.36em">Ukraine_HG1 / 7250 / I2a</text>
<text transform="translate(720.00,879.3) rotate(-90)" dy="0.36em">NEO516 / 7096 / Q1b</text>
<text transform="translate(729.60,879.3) rotate(-90)" dy="0.36em">NEO498 / 7056 / R1b</text>
<text transform="translate(739.20,879.3) rotate(-90)" dy="0.36em">NEO304 / 7006 / I2a</text>
<text transform="translate(748.80,879.3) rotate(-90)" dy="0.36em">NEO552 / 6970 / I2a</text>
<text transform="translate(758.40,879.3) rotate(-90)" dy="0.36em">NEO507 / 6887 / R1b</text>
<text transform="translate(768.00,879.3) rotate(-90)" dy="0.36em">NEO528 / 6842 / I2a</text>
<text transform="translate(777.60,879.3) rotate(-90)" dy="0.36em">NEO302 / 6839 / I2a</text>
<text transform="translate(787.20,879.3) rotate(-90)" dy="0.36em">NEO503 / 6706</text>
<text transform="translate(796.80,879.3) rotate(-90)" dy="0.36em">NEO300 / 6678</text>
<text transform="translate(806.40,879.3) rotate(-90)" dy="0.36em">NEO502 / 6616 / I2a</text>
<text transform="translate(852.10,879.3) rotate(-90)" dy="0.36em">ST3 / 14800 / I2a</text>
<text transform="translate(861.70,879.3) rotate(-90)" dy="0.36em">R11 / 11908 / I2a</text>
<text transform="translate(871.30,879.3) rotate(-90)" dy="0.36em">R7 / 10681.5 / I2a</text>
<text transform="translate(880.90,879.3) rotate(-90)" dy="0.36em">R15 / 9124.5 / I2a</text>
<text transform="translate(894.84,879.3) rotate(-90)" dy="0.36em">NEO694 / 9522 / I2a</text>
<text transform="translate(904.44,879.3) rotate(-90)" dy="0.36em">Chan / 9131</text>
<text transform="translate(914.04,879.3) rotate(-90)" dy="0.36em">NEO646 / 8274</text>
<text transform="translate(923.64,879.3) rotate(-90)" dy="0.36em">NEO938 / 7878</text>
<text transform="translate(933.24,879.3) rotate(-90)" dy="0.36em">Brana / 7815 / C1</text>
<text transform="translate(942.84,879.3) rotate(-90)" dy="0.36em">NEO648 / 7524 / I2a</text>
<text transform="translate(952.44,879.3) rotate(-90)" dy="0.36em">Canes1 / 7115</text>
<text transform="translate(966.38,879.3) rotate(-90)" dy="0.36em">Bichon / 13665 / I2a</text>
<text transform="translate(980.32,879.3) rotate(-90)" dy="0.36em">Loschbour / 8050 / I2a</text>
<text transform="translate(994.26,879.3) rotate(-90)" dy="0.36em">PER1150503 / 9067</text>
<text transform="translate(1003.86,879.3) rotate(-90)" dy="0.36em">PER3023 / 9067</text>
<text transform="translate(1017.80,879.3) rotate(-90)" dy="0.36em">Cheddar_man / 10300 / I2a</text>
<text transform="translate(1031.74,879.3) rotate(-90)" dy="0.36em">NEO254 / 10465 / I2a</text>
<text transform="translate(1041.34,879.3) rotate(-90)" dy="0.36em">NEO91 / 9134 / I2a</text>
<text transform="translate(1050.94,879.3) rotate(-90)" dy="0.36em">NEO759 / 9040 / I2</text>
<text transform="translate(1060.54,879.3) rotate(-90)" dy="0.36em">NEO123 / 8178</text>
<text transform="translate(1070.14,879.3) rotate(-90)" dy="0.36em">NEO19 / 8172 / I2a</text>
<text transform="translate(1079.74,879.3) rotate(-90)" dy="0.36em">NEO122 / 8156</text>
<text transform="translate(1089.34,879.3) rotate(-90)" dy="0.36em">NEO683 / 7521</text>
<text transform="translate(1098.94,879.3) rotate(-90)" dy="0.36em">NEO589 / 7475 / I2a</text>
<text transform="translate(1108.54,879.3) rotate(-90)" dy="0.36em">NEO932 / 7398</text>
<text transform="translate(1118.14,879.3) rotate(-90)" dy="0.36em">NEO749 / 7072 / I2a</text>
<text transform="translate(1127.74,879.3) rotate(-90)" dy="0.36em">NEO791 / 7033 / I2</text>
<text transform="translate(1137.34,879.3) rotate(-90)" dy="0.36em">NEO586 / 7030 / I2</text>
<text transform="translate(1146.94,879.3) rotate(-90)" dy="0.36em">NEO583 / 6980</text>
<text transform="translate(1156.54,879.3) rotate(-90)" dy="0.36em">NEO733 / 6819</text>
<text transform="translate(1166.14,879.3) rotate(-90)" dy="0.36em">NEO745 / 6801 / I2</text>
<text transform="translate(1175.74,879.3) rotate(-90)" dy="0.36em">NEO856 / 6778</text>
<text transform="translate(1185.34,879.3) rotate(-90)" dy="0.36em">NEO747 / 6728 / I2a</text>
<text transform="translate(1194.94,879.3) rotate(-90)" dy="0.36em">NEO941 / 6374</text>
<text transform="translate(1204.54,879.3) rotate(-90)" dy="0.36em">NEO570 / 6372</text>
<text transform="translate(1214.14,879.3) rotate(-90)" dy="0.36em">NEO751 / 6315 / I2</text>
<text transform="translate(1223.74,879.3) rotate(-90)" dy="0.36em">NEO852 / 6306</text>
<text transform="translate(1233.34,879.3) rotate(-90)" dy="0.36em">NEO855 / 6299 / I2a</text>
<text transform="translate(1242.94,879.3) rotate(-90)" dy="0.36em">NEO568 / 6297 / I2</text>
<text transform="translate(1252.54,879.3) rotate(-90)" dy="0.36em">NEO598 / 6068</text>
<text transform="translate(1262.14,879.3) rotate(-90)" dy="0.36em">NEO853 / 6045</text>
<text transform="translate(1271.74,879.3) rotate(-90)" dy="0.36em">NEO960 / 5963 / I2a</text>
<text transform="translate(1281.34,879.3) rotate(-90)" dy="0.36em">NEO645 / 5836 / I2</text>
<text transform="translate(1290.94,879.3) rotate(-90)" dy="0.36em">syltholm / 5759.5</text>
<text transform="translate(1304.88,879.3) rotate(-90)" dy="0.36em">NEO679 / 6907</text>
<text transform="translate(1314.48,879.3) rotate(-90)" dy="0.36em">NEO260 / 5822 / I2</text>
<text transform="translate(1328.42,879.3) rotate(-90)" dy="0.36em">Latvia_HG1 / 8308</text>
<text transform="translate(1338.02,879.3) rotate(-90)" dy="0.36em">Latvia_HG2 / 7688.5 / R1b</text>
<text transform="translate(1347.62,879.3) rotate(-90)" dy="0.36em">NEO307 / 7456 / I2a</text>
<text transform="translate(1357.22,879.3) rotate(-90)" dy="0.36em">Latvia_HG3 / 7027 / R1b</text>
<text transform="translate(1371.16,879.3) rotate(-90)" dy="0.36em">Latvia_MN1 / 6063.5 / R1b</text>
<text transform="translate(1385.10,879.3) rotate(-90)" dy="0.36em">SC2 / 8825 / R1b</text>
<text transform="translate(1394.70,879.3) rotate(-90)" dy="0.36em">NEO672 / 8814</text>
<text transform="translate(1404.30,879.3) rotate(-90)" dy="0.36em">SC1 / 8814 / R1b</text>
<text transform="translate(1413.90,879.3) rotate(-90)" dy="0.36em">OC1 / 8703.5 / R1b</text>
<text transform="translate(1427.84,879.3) rotate(-90)" dy="0.36em">NEO669 / 9800</text>
<text transform="translate(1437.44,879.3) rotate(-90)" dy="0.36em">NEO658 / 8676</text>
<text transform="translate(1451.38,879.3) rotate(-90)" dy="0.36em">GB1 / 5377.5</text>
<text transform="translate(1465.32,879.3) rotate(-90)" dy="0.36em">KO1 / 7660 / I2a</text>
<text transform="translate(1479.26,879.3) rotate(-90)" dy="0.36em">PL_N22 / 6291</text>
<text transform="translate(1488.86,879.3) rotate(-90)" dy="0.36em">PL_N42 / 6055</text>
<text transform="translate(1534.35,879.3) rotate(-90)" dy="0.36em">NEO283 / 25635</text>
<text transform="translate(1548.29,879.3) rotate(-90)" dy="0.36em">SATP / 13255 / J1</text>
<text transform="translate(1557.89,879.3) rotate(-90)" dy="0.36em">NEO281 / 9723 / J2b</text>
<text transform="translate(1567.49,879.3) rotate(-90)" dy="0.36em">KK1 / 9720 / J2a</text>
<text transform="translate(1581.43,879.3) rotate(-90)" dy="0.36em">AH2 / 9930.5 / J2b</text>
<text transform="translate(1591.03,879.3) rotate(-90)" dy="0.36em">AH4 / 9929.5</text>
<text transform="translate(1600.63,879.3) rotate(-90)" dy="0.36em">AH1 / 9900</text>
<text transform="translate(1610.23,879.3) rotate(-90)" dy="0.36em">GD13a / 9846</text>
<text transform="translate(1619.83,879.3) rotate(-90)" dy="0.36em">WC1 / 9218.5 / G2a</text>
<text transform="translate(1629.43,879.3) rotate(-90)" dy="0.36em">NEO816 / 8700 / J2a</text>
<text transform="translate(1643.37,879.3) rotate(-90)" dy="0.36em">Bon002 / 10078</text>
<text transform="translate(1652.97,879.3) rotate(-90)" dy="0.36em">Bon004 / 10076 / G2a</text>
<text transform="translate(1662.57,879.3) rotate(-90)" dy="0.36em">Bon001 / 10032 / G2a</text>
<text transform="translate(1676.51,879.3) rotate(-90)" dy="0.36em">UstIshim / 45020 / K2a</text>
<text transform="translate(1690.45,879.3) rotate(-90)" dy="0.36em">Funadomari_5 / 3755 / D1a</text>
<text transform="translate(1700.05,879.3) rotate(-90)" dy="0.36em">Funadomari_23 / 3755</text>
<text transform="translate(1709.65,879.3) rotate(-90)" dy="0.36em">IK002 / 2569</text>
<text transform="translate(1723.59,879.3) rotate(-90)" dy="0.36em">MA1 / 24305 / R</text>
<text transform="translate(1737.53,879.3) rotate(-90)" dy="0.36em">Kolyma_River / 9785.5 / Q1a</text>
<text transform="translate(1751.47,879.3) rotate(-90)" dy="0.36em">Kostenki / 37470 / C1</text>
<text transform="translate(1765.41,879.3) rotate(-90)" dy="0.36em">SII / 34234 / C1</text>
<text transform="translate(1775.01,879.3) rotate(-90)" dy="0.36em">SIII / 34092.5 / C1</text>
<text transform="translate(1784.61,879.3) rotate(-90)" dy="0.36em">SIV / 33992 / C1</text>
<text transform="translate(1794.21,879.3) rotate(-90)" dy="0.36em">SI / 32822.5 / C1</text>
<text transform="translate(1808.15,879.3) rotate(-90)" dy="0.36em">Yana / 31950 / K2b</text>
<text transform="translate(1817.75,879.3) rotate(-90)" dy="0.36em">Yana2 / 31950 / K2b</text>
</g>
<text x="3.6" y="15.2" font-family="Liberation Sans, Arial, Helvetica, sans-serif" font-size="22" font-weight="bold" fill="#000">a</text>
<text x="104.2" y="1080" font-family="Liberation Sans, Arial, Helvetica, sans-serif" font-size="22" font-weight="bold" fill="#000">b</text>
<path d="M186.4 1146.0H680.8M186.4 1228.0H680.8M186.4 1310.0H680.8M279.3 1097.0V1334.9M349.6 1097.0V1334.9M419.8 1097.0V1334.9M490.4 1097.0V1334.9" stroke="#c2c2c2" stroke-width="1.7" stroke-dasharray="0.1 6.8" stroke-linecap="round" fill="none"/>
<path d="M186.4 1328.19h7.3M186.4 1322.70h7.3M186.4 1317.95h7.3M186.4 1313.75h7.3M186.4 1310.00h19.6M186.4 1285.32h7.3M186.4 1270.88h7.3M186.4 1260.63h7.3M186.4 1252.68h12.3M186.4 1246.19h7.3M186.4 1240.70h7.3M186.4 1235.95h7.3M186.4 1231.75h7.3M186.4 1228.00h19.6M186.4 1203.32h7.3M186.4 1188.88h7.3M186.4 1178.63h7.3M186.4 1170.68h12.3M186.4 1164.19h7.3M186.4 1158.70h7.3M186.4 1153.95h7.3M186.4 1149.75h7.3M186.4 1146.00h19.6M186.4 1121.32h7.3M186.4 1106.88h7.3" stroke="#1c1c1c" stroke-width="1.8" fill="none"/>
<path d="M186.4 1383.8H680.8M186.4 1465.5H680.8M186.4 1547.3H680.8M279.3 1334.9V1572.0M349.6 1334.9V1572.0M419.8 1334.9V1572.0M490.4 1334.9V1572.0" stroke="#c2c2c2" stroke-width="1.7" stroke-dasharray="0.1 6.8" stroke-linecap="round" fill="none"/>
<path d="M186.4 1565.44h7.3M186.4 1559.96h7.3M186.4 1555.22h7.3M186.4 1551.04h7.3M186.4 1547.30h19.6M186.4 1522.69h7.3M186.4 1508.30h7.3M186.4 1498.08h7.3M186.4 1490.16h12.3M186.4 1483.69h7.3M186.4 1478.21h7.3M186.4 1473.47h7.3M186.4 1469.29h7.3M186.4 1465.55h19.6M186.4 1440.94h7.3M186.4 1426.55h7.3M186.4 1416.33h7.3M186.4 1408.41h12.3M186.4 1401.94h7.3M186.4 1396.46h7.3M186.4 1391.72h7.3M186.4 1387.54h7.3M186.4 1383.80h19.6M186.4 1359.19h7.3M186.4 1344.80h7.3" stroke="#1c1c1c" stroke-width="1.8" fill="none"/>
<path d="M681.2 1146.0H1175.6M681.2 1228.0H1175.6M681.2 1310.0H1175.6M774.1 1097.0V1334.9M844.4 1097.0V1334.9M914.6 1097.0V1334.9M985.2 1097.0V1334.9" stroke="#c2c2c2" stroke-width="1.7" stroke-dasharray="0.1 6.8" stroke-linecap="round" fill="none"/>
<path d="M681.2 1328.19h7.3M681.2 1322.70h7.3M681.2 1317.95h7.3M681.2 1313.75h7.3M681.2 1310.00h19.6M681.2 1285.32h7.3M681.2 1270.88h7.3M681.2 1260.63h7.3M681.2 1252.68h12.3M681.2 1246.19h7.3M681.2 1240.70h7.3M681.2 1235.95h7.3M681.2 1231.75h7.3M681.2 1228.00h19.6M681.2 1203.32h7.3M681.2 1188.88h7.3M681.2 1178.63h7.3M681.2 1170.68h12.3M681.2 1164.19h7.3M681.2 1158.70h7.3M681.2 1153.95h7.3M681.2 1149.75h7.3M681.2 1146.00h19.6M681.2 1121.32h7.3M681.2 1106.88h7.3" stroke="#1c1c1c" stroke-width="1.8" fill="none"/>
<path d="M681.2 1383.8H1175.6M681.2 1465.5H1175.6M681.2 1547.3H1175.6M774.1 1334.9V1572.0M844.4 1334.9V1572.0M914.6 1334.9V1572.0M985.2 1334.9V1572.0" stroke="#c2c2c2" stroke-width="1.7" stroke-dasharray="0.1 6.8" stroke-linecap="round" fill="none"/>
<path d="M681.2 1565.44h7.3M681.2 1559.96h7.3M681.2 1555.22h7.3M681.2 1551.04h7.3M681.2 1547.30h19.6M681.2 1522.69h7.3M681.2 1508.30h7.3M681.2 1498.08h7.3M681.2 1490.16h12.3M681.2 1483.69h7.3M681.2 1478.21h7.3M681.2 1473.47h7.3M681.2 1469.29h7.3M681.2 1465.55h19.6M681.2 1440.94h7.3M681.2 1426.55h7.3M681.2 1416.33h7.3M681.2 1408.41h12.3M681.2 1401.94h7.3M681.2 1396.46h7.3M681.2 1391.72h7.3M681.2 1387.54h7.3M681.2 1383.80h19.6M681.2 1359.19h7.3M681.2 1344.80h7.3" stroke="#1c1c1c" stroke-width="1.8" fill="none"/>
<path d="M1176.0 1146.0H1670.4M1176.0 1228.0H1670.4M1176.0 1310.0H1670.4M1268.9 1097.0V1334.9M1339.2 1097.0V1334.9M1409.4 1097.0V1334.9M1480.0 1097.0V1334.9" stroke="#c2c2c2" stroke-width="1.7" stroke-dasharray="0.1 6.8" stroke-linecap="round" fill="none"/>
<path d="M1176.0 1328.19h7.3M1176.0 1322.70h7.3M1176.0 1317.95h7.3M1176.0 1313.75h7.3M1176.0 1310.00h19.6M1176.0 1285.32h7.3M1176.0 1270.88h7.3M1176.0 1260.63h7.3M1176.0 1252.68h12.3M1176.0 1246.19h7.3M1176.0 1240.70h7.3M1176.0 1235.95h7.3M1176.0 1231.75h7.3M1176.0 1228.00h19.6M1176.0 1203.32h7.3M1176.0 1188.88h7.3M1176.0 1178.63h7.3M1176.0 1170.68h12.3M1176.0 1164.19h7.3M1176.0 1158.70h7.3M1176.0 1153.95h7.3M1176.0 1149.75h7.3M1176.0 1146.00h19.6M1176.0 1121.32h7.3M1176.0 1106.88h7.3" stroke="#1c1c1c" stroke-width="1.8" fill="none"/>
<path d="M1176.0 1383.8H1670.4M1176.0 1465.5H1670.4M1176.0 1547.3H1670.4M1268.9 1334.9V1572.0M1339.2 1334.9V1572.0M1409.4 1334.9V1572.0M1480.0 1334.9V1572.0" stroke="#c2c2c2" stroke-width="1.7" stroke-dasharray="0.1 6.8" stroke-linecap="round" fill="none"/>
<path d="M1176.0 1565.44h7.3M1176.0 1559.96h7.3M1176.0 1555.22h7.3M1176.0 1551.04h7.3M1176.0 1547.30h19.6M1176.0 1522.69h7.3M1176.0 1508.30h7.3M1176.0 1498.08h7.3M1176.0 1490.16h12.3M1176.0 1483.69h7.3M1176.0 1478.21h7.3M1176.0 1473.47h7.3M1176.0 1469.29h7.3M1176.0 1465.55h19.6M1176.0 1440.94h7.3M1176.0 1426.55h7.3M1176.0 1416.33h7.3M1176.0 1408.41h12.3M1176.0 1401.94h7.3M1176.0 1396.46h7.3M1176.0 1391.72h7.3M1176.0 1387.54h7.3M1176.0 1383.80h19.6M1176.0 1359.19h7.3M1176.0 1344.80h7.3" stroke="#1c1c1c" stroke-width="1.8" fill="none"/>
<svg x="186.4" y="1097.0" width="494.4" height="237.9" viewBox="186.4 1097.0 494.4 237.9" overflow="hidden">
<path d="M279.3 1129.3L349.6 1184.9L419.8 1192.2L490.4 1195.8M279.3 1130.4L349.6 1188.5L419.8 1198.3L490.4 1201.2M279.3 1131.5L349.6 1192.2L419.8 1203.1L490.4 1206.7M279.3 1132.2L349.6 1195.8L419.8 1207.8L490.4 1210.3M279.3 1132.9L349.6 1199.4L419.8 1212.1L490.4 1215.8M279.3 1134.0L349.6 1202.0L419.8 1215.8L490.4 1218.7M279.3 1135.1L349.6 1204.9L419.8 1219.4L490.4 1220.1M279.3 1135.9L349.6 1207.8L419.8 1223.8L490.4 1232.1" stroke="#8f8f8f" stroke-width="1.2" fill="none" stroke-opacity="0.85"/>
<path d="M492.4 1195.8L498.1 1130.1M492.4 1201.2L498.1 1155.6M492.4 1206.7L498.1 1181.0M492.4 1218.7L498.1 1235.5M492.4 1220.1L498.1 1251.8M492.4 1232.1L498.1 1276.9" stroke="#a8a8a8" stroke-width="0.9" fill="none"/>
<circle cx="279.3" cy="1129.3" r="6.6" fill="#E9D3DE" fill-opacity="0.85"/><circle cx="279.3" cy="1129.3" r="4.7" fill="#8B1C62"/>
<circle cx="349.6" cy="1184.9" r="6.6" fill="#E9D3DE" fill-opacity="0.85"/><circle cx="349.6" cy="1184.9" r="4.7" fill="#8B1C62"/>
<circle cx="419.8" cy="1192.2" r="6.6" fill="#E9D3DE" fill-opacity="0.85"/><circle cx="419.8" cy="1192.2" r="4.7" fill="#8B1C62"/>
<circle cx="490.4" cy="1195.8" r="6.6" fill="#E9D3DE" fill-opacity="0.85"/><circle cx="490.4" cy="1195.8" r="4.7" fill="#8B1C62"/>
<circle cx="279.3" cy="1130.4" r="6.6" fill="#E9D3DE" fill-opacity="0.85"/><circle cx="279.3" cy="1130.4" r="4.7" fill="#8B1C62"/>
<circle cx="349.6" cy="1188.5" r="6.6" fill="#E9D3DE" fill-opacity="0.85"/><circle cx="349.6" cy="1188.5" r="4.7" fill="#8B1C62"/>
<circle cx="419.8" cy="1198.3" r="6.6" fill="#E9D3DE" fill-opacity="0.85"/><circle cx="419.8" cy="1198.3" r="4.7" fill="#8B1C62"/>
<circle cx="490.4" cy="1201.2" r="6.6" fill="#E9D3DE" fill-opacity="0.85"/><circle cx="490.4" cy="1201.2" r="4.7" fill="#8B1C62"/>
<circle cx="279.3" cy="1131.5" r="6.6" fill="#E9D3DE" fill-opacity="0.85"/><circle cx="279.3" cy="1131.5" r="4.7" fill="#8B1C62"/>
<circle cx="349.6" cy="1192.2" r="6.6" fill="#E9D3DE" fill-opacity="0.85"/><circle cx="349.6" cy="1192.2" r="4.7" fill="#8B1C62"/>
<circle cx="419.8" cy="1203.1" r="6.6" fill="#E9D3DE" fill-opacity="0.85"/><circle cx="419.8" cy="1203.1" r="4.7" fill="#8B1C62"/>
<circle cx="490.4" cy="1206.7" r="6.6" fill="#E9D3DE" fill-opacity="0.85"/><circle cx="490.4" cy="1206.7" r="4.7" fill="#8B1C62"/>
<circle cx="279.3" cy="1132.2" r="6.6" fill="#E9D3DE" fill-opacity="0.85"/><circle cx="279.3" cy="1132.2" r="4.7" fill="#8B1C62"/>
<circle cx="349.6" cy="1195.8" r="6.6" fill="#E9D3DE" fill-opacity="0.85"/><circle cx="349.6" cy="1195.8" r="4.7" fill="#8B1C62"/>
<circle cx="419.8" cy="1207.8" r="6.6" fill="#E9D3DE" fill-opacity="0.85"/><circle cx="419.8" cy="1207.8" r="4.7" fill="#8B1C62"/>
<circle cx="490.4" cy="1210.3" r="6.6" fill="#E9D3DE" fill-opacity="0.85"/><circle cx="490.4" cy="1210.3" r="4.7" fill="#8B1C62"/>
<circle cx="279.3" cy="1132.9" r="6.6" fill="#E9D3DE" fill-opacity="0.85"/><circle cx="279.3" cy="1132.9" r="4.7" fill="#8B1C62"/>
<circle cx="349.6" cy="1199.4" r="6.6" fill="#E9D3DE" fill-opacity="0.85"/><circle cx="349.6" cy="1199.4" r="4.7" fill="#8B1C62"/>
<circle cx="419.8" cy="1212.1" r="6.6" fill="#E9D3DE" fill-opacity="0.85"/><circle cx="419.8" cy="1212.1" r="4.7" fill="#8B1C62"/>
<circle cx="490.4" cy="1215.8" r="6.6" fill="#E9D3DE" fill-opacity="0.85"/><circle cx="490.4" cy="1215.8" r="4.7" fill="#8B1C62"/>
<circle cx="279.3" cy="1134.0" r="6.6" fill="#E9D3DE" fill-opacity="0.85"/><circle cx="279.3" cy="1134.0" r="4.7" fill="#8B1C62"/>
<circle cx="349.6" cy="1202.0" r="6.6" fill="#E9D3DE" fill-opacity="0.85"/><circle cx="349.6" cy="1202.0" r="4.7" fill="#8B1C62"/>
<circle cx="419.8" cy="1215.8" r="6.6" fill="#E9D3DE" fill-opacity="0.85"/><circle cx="419.8" cy="1215.8" r="4.7" fill="#8B1C62"/>
<circle cx="490.4" cy="1218.7" r="6.6" fill="#E9D3DE" fill-opacity="0.85"/><circle cx="490.4" cy="1218.7" r="4.7" fill="#8B1C62"/>
<circle cx="279.3" cy="1135.1" r="6.6" fill="#E9D3DE" fill-opacity="0.85"/><circle cx="279.3" cy="1135.1" r="4.7" fill="#8B1C62"/>
<circle cx="349.6" cy="1204.9" r="6.6" fill="#E9D3DE" fill-opacity="0.85"/><circle cx="349.6" cy="1204.9" r="4.7" fill="#8B1C62"/>
<circle cx="419.8" cy="1219.4" r="6.6" fill="#E9D3DE" fill-opacity="0.85"/><circle cx="419.8" cy="1219.4" r="4.7" fill="#8B1C62"/>
<circle cx="490.4" cy="1220.1" r="6.6" fill="#E9D3DE" fill-opacity="0.85"/><circle cx="490.4" cy="1220.1" r="4.7" fill="#8B1C62"/>
<circle cx="279.3" cy="1135.9" r="6.6" fill="#E9D3DE" fill-opacity="0.85"/><circle cx="279.3" cy="1135.9" r="4.7" fill="#8B1C62"/>
<circle cx="349.6" cy="1207.8" r="6.6" fill="#E9D3DE" fill-opacity="0.85"/><circle cx="349.6" cy="1207.8" r="4.7" fill="#8B1C62"/>
<circle cx="419.8" cy="1223.8" r="6.6" fill="#E9D3DE" fill-opacity="0.85"/><circle cx="419.8" cy="1223.8" r="4.7" fill="#8B1C62"/>
<circle cx="490.4" cy="1232.1" r="6.6" fill="#E9D3DE" fill-opacity="0.85"/><circle cx="490.4" cy="1232.1" r="4.7" fill="#8B1C62"/>
<g font-family="Liberation Sans, Arial, Helvetica, sans-serif" font-size="15.6" fill="#000">
<text x="499.6" y="1135.1">sf12 / 8895</text>
<text x="499.6" y="1160.6">sbj001 / 8771 / I2</text>
<text x="499.6" y="1186.0">Motala12 / 7626 / I2a</text>
<text x="499.6" y="1206.7">sf9 / 9144</text>
<text x="499.6" y="1224.1">NEO27 / 9693 / I2a</text>
<text x="499.6" y="1240.5">NEO18 / 9875 / I2a</text>
<text x="499.6" y="1256.8">Motala1 / 7568.5</text>
<text x="499.6" y="1281.9">Motala2 / 7594.5 / I2</text>
<text x="205.3" y="1325.8">Sweden_10000BP_7500BP</text>
</g>
</svg>
<svg x="681.2" y="1097.0" width="494.4" height="237.9" viewBox="681.2 1097.0 494.4 237.9" overflow="hidden">
<path d="M774.1 1135.1L844.4 1222.3L914.6 1230.3L985.2 1232.1M774.1 1143.1L844.4 1224.8L914.6 1232.1L985.2 1240.5M774.1 1144.9L844.4 1228.5L914.6 1236.8L985.2 1241.2M774.1 1146.0L844.4 1230.3L914.6 1237.6L985.2 1241.9M774.1 1147.5L844.4 1238.3L914.6 1246.6L985.2 1252.1M774.1 1156.6L844.4 1255.0L914.6 1260.4L985.2 1261.9" stroke="#8f8f8f" stroke-width="1.2" fill="none" stroke-opacity="0.85"/>
<path d="M987.2 1232.1L992.9 1191.9M987.2 1240.5L992.9 1217.3M987.2 1261.9L992.9 1284.1" stroke="#a8a8a8" stroke-width="0.9" fill="none"/>
<path d="M774.1 1127.5l7.6 7.6l-7.6 7.6l-7.6 -7.6z" fill="#E9D3DE" fill-opacity="0.85"/><path d="M774.1 1129.5l5.6 5.6l-5.6 5.6l-5.6 -5.6z" fill="#8B1C62"/>
<path d="M844.4 1214.7l7.6 7.6l-7.6 7.6l-7.6 -7.6z" fill="#E9D3DE" fill-opacity="0.85"/><path d="M844.4 1216.7l5.6 5.6l-5.6 5.6l-5.6 -5.6z" fill="#8B1C62"/>
<path d="M914.6 1222.7l7.6 7.6l-7.6 7.6l-7.6 -7.6z" fill="#E9D3DE" fill-opacity="0.85"/><path d="M914.6 1224.7l5.6 5.6l-5.6 5.6l-5.6 -5.6z" fill="#8B1C62"/>
<path d="M985.2 1224.5l7.6 7.6l-7.6 7.6l-7.6 -7.6z" fill="#E9D3DE" fill-opacity="0.85"/><path d="M985.2 1226.5l5.6 5.6l-5.6 5.6l-5.6 -5.6z" fill="#8B1C62"/>
<path d="M774.1 1135.5l7.6 7.6l-7.6 7.6l-7.6 -7.6z" fill="#E9D3DE" fill-opacity="0.85"/><path d="M774.1 1137.5l5.6 5.6l-5.6 5.6l-5.6 -5.6z" fill="#8B1C62"/>
<path d="M844.4 1217.2l7.6 7.6l-7.6 7.6l-7.6 -7.6z" fill="#E9D3DE" fill-opacity="0.85"/><path d="M844.4 1219.2l5.6 5.6l-5.6 5.6l-5.6 -5.6z" fill="#8B1C62"/>
<path d="M914.6 1224.5l7.6 7.6l-7.6 7.6l-7.6 -7.6z" fill="#E9D3DE" fill-opacity="0.85"/><path d="M914.6 1226.5l5.6 5.6l-5.6 5.6l-5.6 -5.6z" fill="#8B1C62"/>
<path d="M985.2 1232.9l7.6 7.6l-7.6 7.6l-7.6 -7.6z" fill="#E9D3DE" fill-opacity="0.85"/><path d="M985.2 1234.9l5.6 5.6l-5.6 5.6l-5.6 -5.6z" fill="#8B1C62"/>
<path d="M774.1 1137.3l7.6 7.6l-7.6 7.6l-7.6 -7.6z" fill="#E9D3DE" fill-opacity="0.85"/><path d="M774.1 1139.3l5.6 5.6l-5.6 5.6l-5.6 -5.6z" fill="#8B1C62"/>
<path d="M844.4 1220.9l7.6 7.6l-7.6 7.6l-7.6 -7.6z" fill="#E9D3DE" fill-opacity="0.85"/><path d="M844.4 1222.9l5.6 5.6l-5.6 5.6l-5.6 -5.6z" fill="#8B1C62"/>
<path d="M914.6 1229.2l7.6 7.6l-7.6 7.6l-7.6 -7.6z" fill="#E9D3DE" fill-opacity="0.85"/><path d="M914.6 1231.2l5.6 5.6l-5.6 5.6l-5.6 -5.6z" fill="#8B1C62"/>
<path d="M985.2 1233.6l7.6 7.6l-7.6 7.6l-7.6 -7.6z" fill="#E9D3DE" fill-opacity="0.85"/><path d="M985.2 1235.6l5.6 5.6l-5.6 5.6l-5.6 -5.6z" fill="#8B1C62"/>
<path d="M774.1 1138.4l7.6 7.6l-7.6 7.6l-7.6 -7.6z" fill="#E9D3DE" fill-opacity="0.85"/><path d="M774.1 1140.4l5.6 5.6l-5.6 5.6l-5.6 -5.6z" fill="#8B1C62"/>
<path d="M844.4 1222.7l7.6 7.6l-7.6 7.6l-7.6 -7.6z" fill="#E9D3DE" fill-opacity="0.85"/><path d="M844.4 1224.7l5.6 5.6l-5.6 5.6l-5.6 -5.6z" fill="#8B1C62"/>
<path d="M914.6 1230.0l7.6 7.6l-7.6 7.6l-7.6 -7.6z" fill="#E9D3DE" fill-opacity="0.85"/><path d="M914.6 1232.0l5.6 5.6l-5.6 5.6l-5.6 -5.6z" fill="#8B1C62"/>
<path d="M985.2 1234.3l7.6 7.6l-7.6 7.6l-7.6 -7.6z" fill="#E9D3DE" fill-opacity="0.85"/><path d="M985.2 1236.3l5.6 5.6l-5.6 5.6l-5.6 -5.6z" fill="#8B1C62"/>
<path d="M774.1 1139.9l7.6 7.6l-7.6 7.6l-7.6 -7.6z" fill="#E9D3DE" fill-opacity="0.85"/><path d="M774.1 1141.9l5.6 5.6l-5.6 5.6l-5.6 -5.6z" fill="#8B1C62"/>
<path d="M844.4 1230.7l7.6 7.6l-7.6 7.6l-7.6 -7.6z" fill="#E9D3DE" fill-opacity="0.85"/><path d="M844.4 1232.7l5.6 5.6l-5.6 5.6l-5.6 -5.6z" fill="#8B1C62"/>
<path d="M914.6 1239.0l7.6 7.6l-7.6 7.6l-7.6 -7.6z" fill="#E9D3DE" fill-opacity="0.85"/><path d="M914.6 1241.0l5.6 5.6l-5.6 5.6l-5.6 -5.6z" fill="#8B1C62"/>
<path d="M985.2 1244.5l7.6 7.6l-7.6 7.6l-7.6 -7.6z" fill="#E9D3DE" fill-opacity="0.85"/><path d="M985.2 1246.5l5.6 5.6l-5.6 5.6l-5.6 -5.6z" fill="#8B1C62"/>
<path d="M774.1 1149.0l7.6 7.6l-7.6 7.6l-7.6 -7.6z" fill="#E9D3DE" fill-opacity="0.85"/><path d="M774.1 1151.0l5.6 5.6l-5.6 5.6l-5.6 -5.6z" fill="#8B1C62"/>
<path d="M844.4 1247.4l7.6 7.6l-7.6 7.6l-7.6 -7.6z" fill="#E9D3DE" fill-opacity="0.85"/><path d="M844.4 1249.4l5.6 5.6l-5.6 5.6l-5.6 -5.6z" fill="#8B1C62"/>
<path d="M914.6 1252.8l7.6 7.6l-7.6 7.6l-7.6 -7.6z" fill="#E9D3DE" fill-opacity="0.85"/><path d="M914.6 1254.8l5.6 5.6l-5.6 5.6l-5.6 -5.6z" fill="#8B1C62"/>
<path d="M985.2 1254.3l7.6 7.6l-7.6 7.6l-7.6 -7.6z" fill="#E9D3DE" fill-opacity="0.85"/><path d="M985.2 1256.3l5.6 5.6l-5.6 5.6l-5.6 -5.6z" fill="#8B1C62"/>
<g font-family="Liberation Sans, Arial, Helvetica, sans-serif" font-size="15.6" fill="#000">
<text x="994.4" y="1196.9">H26 / 9363.5 / I2</text>
<text x="994.4" y="1222.3">H22 / 9363.5</text>
<text x="994.4" y="1244.1">NEO17 / 9147 / I2</text>
<text x="994.4" y="1258.6">ble008 / 9825</text>
<text x="994.4" y="1273.9">stg001 / 5857 / I2a</text>
<text x="994.4" y="1289.1">VK531 / 4350 / R1b</text>
<text x="702.0" y="1325.8">Norway_9300BP_4300BP</text>
</g>
</svg>
<svg x="1176.0" y="1097.0" width="494.4" height="237.9" viewBox="1176.0 1097.0 494.4 237.9" overflow="hidden">
<path d="M1268.9 1112.2L1339.2 1216.9L1409.4 1216.9L1480.0 1220.1M1268.9 1114.1L1339.2 1228.5L1409.4 1230.3L1480.0 1234.7M1268.9 1115.9L1339.2 1230.3L1409.4 1233.9L1480.0 1250.3M1268.9 1117.7L1339.2 1232.1L1409.4 1237.6L1480.0 1252.1M1268.9 1119.5L1339.2 1233.9L1409.4 1241.2L1480.0 1253.9M1268.9 1121.3L1339.2 1235.7L1409.4 1243.7L1480.0 1257.5M1268.9 1123.1L1339.2 1237.6L1409.4 1245.6L1480.0 1259.4" stroke="#8f8f8f" stroke-width="1.2" fill="none" stroke-opacity="0.85"/>
<path d="M1482.0 1220.1L1487.4 1207.9M1482.0 1252.1L1487.4 1262.7M1482.0 1253.9L1487.4 1278.0M1482.0 1257.5L1487.4 1296.1M1482.0 1259.4L1487.4 1321.6" stroke="#a8a8a8" stroke-width="0.9" fill="none"/>
<rect x="1264.1" y="1107.4" width="9.6" height="9.6" fill="#F0644A" stroke="#000" stroke-width="1.2"/>
<rect x="1334.4" y="1212.1" width="9.6" height="9.6" fill="#F0644A" stroke="#000" stroke-width="1.2"/>
<rect x="1404.6" y="1212.1" width="9.6" height="9.6" fill="#F0644A" stroke="#000" stroke-width="1.2"/>
<rect x="1475.2" y="1215.3" width="9.6" height="9.6" fill="#F0644A" stroke="#000" stroke-width="1.2"/>
<rect x="1264.1" y="1109.3" width="9.6" height="9.6" fill="#F0644A" stroke="#000" stroke-width="1.2"/>
<rect x="1334.4" y="1223.7" width="9.6" height="9.6" fill="#F0644A" stroke="#000" stroke-width="1.2"/>
<rect x="1404.6" y="1225.5" width="9.6" height="9.6" fill="#F0644A" stroke="#000" stroke-width="1.2"/>
<rect x="1475.2" y="1229.9" width="9.6" height="9.6" fill="#F0644A" stroke="#000" stroke-width="1.2"/>
<rect x="1264.1" y="1111.1" width="9.6" height="9.6" fill="#F0644A" stroke="#000" stroke-width="1.2"/>
<rect x="1334.4" y="1225.5" width="9.6" height="9.6" fill="#F0644A" stroke="#000" stroke-width="1.2"/>
<rect x="1404.6" y="1229.1" width="9.6" height="9.6" fill="#F0644A" stroke="#000" stroke-width="1.2"/>
<rect x="1475.2" y="1245.5" width="9.6" height="9.6" fill="#F0644A" stroke="#000" stroke-width="1.2"/>
<rect x="1264.1" y="1112.9" width="9.6" height="9.6" fill="#F0644A" stroke="#000" stroke-width="1.2"/>
<rect x="1334.4" y="1227.3" width="9.6" height="9.6" fill="#F0644A" stroke="#000" stroke-width="1.2"/>
<rect x="1404.6" y="1232.8" width="9.6" height="9.6" fill="#F0644A" stroke="#000" stroke-width="1.2"/>
<rect x="1475.2" y="1247.3" width="9.6" height="9.6" fill="#F0644A" stroke="#000" stroke-width="1.2"/>
<rect x="1264.1" y="1114.7" width="9.6" height="9.6" fill="#F0644A" stroke="#000" stroke-width="1.2"/>
<rect x="1334.4" y="1229.1" width="9.6" height="9.6" fill="#F0644A" stroke="#000" stroke-width="1.2"/>
<rect x="1404.6" y="1236.4" width="9.6" height="9.6" fill="#F0644A" stroke="#000" stroke-width="1.2"/>
<rect x="1475.2" y="1249.1" width="9.6" height="9.6" fill="#F0644A" stroke="#000" stroke-width="1.2"/>
<rect x="1264.1" y="1116.5" width="9.6" height="9.6" fill="#F0644A" stroke="#000" stroke-width="1.2"/>
<rect x="1334.4" y="1230.9" width="9.6" height="9.6" fill="#F0644A" stroke="#000" stroke-width="1.2"/>
<rect x="1404.6" y="1238.9" width="9.6" height="9.6" fill="#F0644A" stroke="#000" stroke-width="1.2"/>
<rect x="1475.2" y="1252.7" width="9.6" height="9.6" fill="#F0644A" stroke="#000" stroke-width="1.2"/>
<rect x="1264.1" y="1118.3" width="9.6" height="9.6" fill="#F0644A" stroke="#000" stroke-width="1.2"/>
<rect x="1334.4" y="1232.8" width="9.6" height="9.6" fill="#F0644A" stroke="#000" stroke-width="1.2"/>
<rect x="1404.6" y="1240.8" width="9.6" height="9.6" fill="#F0644A" stroke="#000" stroke-width="1.2"/>
<rect x="1475.2" y="1254.6" width="9.6" height="9.6" fill="#F0644A" stroke="#000" stroke-width="1.2"/>
<g font-family="Liberation Sans, Arial, Helvetica, sans-serif" font-size="15.6" fill="#000">
<text x="1488.9" y="1212.9">Chan / 9131</text>
<text x="1488.9" y="1233.2">NEO694 / 9522 / I2a</text>
<text x="1488.9" y="1252.1">NEO938 / 7878</text>
<text x="1488.9" y="1267.7">NEO646 / 8274</text>
<text x="1488.9" y="1283.0">Brana / 7815 / C1</text>
<text x="1488.9" y="1301.1">NEO648 / 7524 / I2a</text>
<text x="1488.9" y="1326.6">Canes1 / 7115</text>
<text x="1199.0" y="1325.8">Iberia_9000BP_7000BP</text>
</g>
</svg>
<svg x="186.4" y="1334.9" width="494.4" height="237.1" viewBox="186.4 1334.9 494.4 237.1" overflow="hidden">
<path d="M279.3 1343.9L349.6 1439.4L419.8 1444.9L490.4 1495.7M279.3 1353.3L349.6 1442.0L419.8 1452.1L490.4 1560.4" stroke="#8f8f8f" stroke-width="1.2" fill="none" stroke-opacity="0.85"/>
<path d="M279.3 1335.3l7.6 13h-15.2z" fill="#EA6448" stroke="#000" stroke-width="1.2" stroke-linejoin="miter"/>
<path d="M349.6 1430.8l7.6 13h-15.2z" fill="#EA6448" stroke="#000" stroke-width="1.2" stroke-linejoin="miter"/>
<path d="M419.8 1436.3l7.6 13h-15.2z" fill="#EA6448" stroke="#000" stroke-width="1.2" stroke-linejoin="miter"/>
<path d="M490.4 1487.1l7.6 13h-15.2z" fill="#EA6448" stroke="#000" stroke-width="1.2" stroke-linejoin="miter"/>
<path d="M279.3 1344.7l7.6 13h-15.2z" fill="#EA6448" stroke="#000" stroke-width="1.2" stroke-linejoin="miter"/>
<path d="M349.6 1433.4l7.6 13h-15.2z" fill="#EA6448" stroke="#000" stroke-width="1.2" stroke-linejoin="miter"/>
<path d="M419.8 1443.5l7.6 13h-15.2z" fill="#EA6448" stroke="#000" stroke-width="1.2" stroke-linejoin="miter"/>
<path d="M490.4 1551.8l7.6 13h-15.2z" fill="#EA6448" stroke="#000" stroke-width="1.2" stroke-linejoin="miter"/>
<g font-family="Liberation Sans, Arial, Helvetica, sans-serif" font-size="15.6" fill="#000">
<text x="500.7" y="1487.7">NEO260 / 5822 / I2</text>
<text x="500.7" y="1550.9">NEO679 / 6907</text>
<text x="206.1" y="1565.8">Denmark_10500BP_6000BP</text>
</g>
</svg>
<svg x="681.2" y="1334.9" width="494.4" height="237.1" viewBox="681.2 1334.9 494.4 237.1" overflow="hidden">
<path d="M774.1 1364.2L844.4 1464.8L914.6 1486.6L985.2 1499.4M774.1 1365.7L844.4 1465.9L914.6 1488.5L985.2 1499.4M774.1 1367.9L844.4 1467.4L914.6 1490.3L985.2 1510.3M774.1 1370.4L844.4 1473.9L914.6 1501.2L985.2 1524.1M774.1 1375.1L844.4 1475.7L914.6 1503.7L985.2 1536.8" stroke="#8f8f8f" stroke-width="1.2" fill="none" stroke-opacity="0.85"/>
<path d="M774.1 1372.8l7.6 -13h-15.2z" fill="#D9553D" stroke="#000" stroke-width="1.2"/>
<path d="M844.4 1473.4l7.6 -13h-15.2z" fill="#D9553D" stroke="#000" stroke-width="1.2"/>
<path d="M914.6 1495.2l7.6 -13h-15.2z" fill="#D9553D" stroke="#000" stroke-width="1.2"/>
<path d="M985.2 1508.0l7.6 -13h-15.2z" fill="#D9553D" stroke="#000" stroke-width="1.2"/>
<path d="M774.1 1374.3l7.6 -13h-15.2z" fill="#D9553D" stroke="#000" stroke-width="1.2"/>
<path d="M844.4 1474.5l7.6 -13h-15.2z" fill="#D9553D" stroke="#000" stroke-width="1.2"/>
<path d="M914.6 1497.1l7.6 -13h-15.2z" fill="#D9553D" stroke="#000" stroke-width="1.2"/>
<path d="M985.2 1508.0l7.6 -13h-15.2z" fill="#D9553D" stroke="#000" stroke-width="1.2"/>
<path d="M774.1 1376.5l7.6 -13h-15.2z" fill="#D9553D" stroke="#000" stroke-width="1.2"/>
<path d="M844.4 1476.0l7.6 -13h-15.2z" fill="#D9553D" stroke="#000" stroke-width="1.2"/>
<path d="M914.6 1498.9l7.6 -13h-15.2z" fill="#D9553D" stroke="#000" stroke-width="1.2"/>
<path d="M985.2 1518.9l7.6 -13h-15.2z" fill="#D9553D" stroke="#000" stroke-width="1.2"/>
<path d="M774.1 1379.0l7.6 -13h-15.2z" fill="#D9553D" stroke="#000" stroke-width="1.2"/>
<path d="M844.4 1482.5l7.6 -13h-15.2z" fill="#D9553D" stroke="#000" stroke-width="1.2"/>
<path d="M914.6 1509.8l7.6 -13h-15.2z" fill="#D9553D" stroke="#000" stroke-width="1.2"/>
<path d="M985.2 1532.7l7.6 -13h-15.2z" fill="#D9553D" stroke="#000" stroke-width="1.2"/>
<path d="M774.1 1383.7l7.6 -13h-15.2z" fill="#D9553D" stroke="#000" stroke-width="1.2"/>
<path d="M844.4 1484.3l7.6 -13h-15.2z" fill="#D9553D" stroke="#000" stroke-width="1.2"/>
<path d="M914.6 1512.3l7.6 -13h-15.2z" fill="#D9553D" stroke="#000" stroke-width="1.2"/>
<path d="M985.2 1545.4l7.6 -13h-15.2z" fill="#D9553D" stroke="#000" stroke-width="1.2"/>
<g font-family="Liberation Sans, Arial, Helvetica, sans-serif" font-size="15.6" fill="#000">
<text x="995.8" y="1482.3">Latvia_HG1 / 8308</text>
<text x="995.8" y="1498.6">Latvia_HG3 / 7027 / R1b</text>
<text x="995.8" y="1513.2">Latvia_HG2 / 7688.5 / R1b</text>
<text x="995.8" y="1528.4">Latvia_MN1 / 6063.5 / R1b</text>
<text x="995.8" y="1546.6">NEO307 / 7456 / I2a</text>
<text x="702.7" y="1565.8">Baltic_8300BP_6000BP</text>
</g>
</svg>
<svg x="1176.0" y="1334.9" width="494.4" height="237.1" viewBox="1176.0 1334.9 494.4 237.1" overflow="hidden">
<path d="M1268.9 1360.6L1339.2 1463.0L1409.4 1498.6L1480.0 1503.7M1268.9 1363.1L1339.2 1468.5L1409.4 1503.7L1480.0 1520.4M1268.9 1365.0L1339.2 1467.4L1409.4 1503.0L1480.0 1528.4M1268.9 1393.3L1339.2 1481.2L1409.4 1515.7L1480.0 1535.7M1268.9 1410.4L1339.2 1484.8L1409.4 1519.3L1480.0 1542.9M1268.9 1414.0L1339.2 1492.1L1409.4 1524.8L1480.0 1548.4" stroke="#8f8f8f" stroke-width="1.2" fill="none" stroke-opacity="0.85"/>
<rect x="1264.1" y="1355.8" width="9.6" height="9.6" fill="#D9553D" stroke="#000" stroke-width="1.2"/>
<rect x="1334.4" y="1458.2" width="9.6" height="9.6" fill="#D9553D" stroke="#000" stroke-width="1.2"/>
<rect x="1404.6" y="1493.8" width="9.6" height="9.6" fill="#D9553D" stroke="#000" stroke-width="1.2"/>
<rect x="1475.2" y="1498.9" width="9.6" height="9.6" fill="#D9553D" stroke="#000" stroke-width="1.2"/>
<rect x="1264.1" y="1358.3" width="9.6" height="9.6" fill="#D9553D" stroke="#000" stroke-width="1.2"/>
<rect x="1334.4" y="1463.7" width="9.6" height="9.6" fill="#D9553D" stroke="#000" stroke-width="1.2"/>
<rect x="1404.6" y="1498.9" width="9.6" height="9.6" fill="#D9553D" stroke="#000" stroke-width="1.2"/>
<rect x="1475.2" y="1515.6" width="9.6" height="9.6" fill="#D9553D" stroke="#000" stroke-width="1.2"/>
<rect x="1264.1" y="1360.2" width="9.6" height="9.6" fill="#D9553D" stroke="#000" stroke-width="1.2"/>
<rect x="1334.4" y="1462.6" width="9.6" height="9.6" fill="#D9553D" stroke="#000" stroke-width="1.2"/>
<rect x="1404.6" y="1498.2" width="9.6" height="9.6" fill="#D9553D" stroke="#000" stroke-width="1.2"/>
<rect x="1475.2" y="1523.6" width="9.6" height="9.6" fill="#D9553D" stroke="#000" stroke-width="1.2"/>
<rect x="1264.1" y="1388.5" width="9.6" height="9.6" fill="#D9553D" stroke="#000" stroke-width="1.2"/>
<rect x="1334.4" y="1476.4" width="9.6" height="9.6" fill="#D9553D" stroke="#000" stroke-width="1.2"/>
<rect x="1404.6" y="1510.9" width="9.6" height="9.6" fill="#D9553D" stroke="#000" stroke-width="1.2"/>
<rect x="1475.2" y="1530.9" width="9.6" height="9.6" fill="#D9553D" stroke="#000" stroke-width="1.2"/>
<rect x="1264.1" y="1405.6" width="9.6" height="9.6" fill="#D9553D" stroke="#000" stroke-width="1.2"/>
<rect x="1334.4" y="1480.0" width="9.6" height="9.6" fill="#D9553D" stroke="#000" stroke-width="1.2"/>
<rect x="1404.6" y="1514.5" width="9.6" height="9.6" fill="#D9553D" stroke="#000" stroke-width="1.2"/>
<rect x="1475.2" y="1538.1" width="9.6" height="9.6" fill="#D9553D" stroke="#000" stroke-width="1.2"/>
<rect x="1264.1" y="1409.2" width="9.6" height="9.6" fill="#D9553D" stroke="#000" stroke-width="1.2"/>
<rect x="1334.4" y="1487.3" width="9.6" height="9.6" fill="#D9553D" stroke="#000" stroke-width="1.2"/>
<rect x="1404.6" y="1520.0" width="9.6" height="9.6" fill="#D9553D" stroke="#000" stroke-width="1.2"/>
<rect x="1475.2" y="1543.6" width="9.6" height="9.6" fill="#D9553D" stroke="#000" stroke-width="1.2"/>
<g font-family="Liberation Sans, Arial, Helvetica, sans-serif" font-size="15.6" fill="#000">
<text x="1489.6" y="1495.0">GB1 / 5377.5</text>
<text x="1489.6" y="1511.0">PL_N42 / 6055</text>
<text x="1489.6" y="1525.9">NEO658 / 8676</text>
<text x="1489.6" y="1539.3">PL_N22 / 6291</text>
<text x="1489.6" y="1552.0">NEO669 / 9800</text>
<text x="1489.6" y="1567.6">KO1 / 7660 / I2a</text>
<text x="1200.9" y="1565.8">EuropeE_8600BP_6000BP</text>
</g>
</svg>
<g fill="none" stroke="#555" stroke-width="1.3">
<rect x="186.4" y="1097.0" width="1484.0" height="475.0"/>
<path d="M681.2 1097V1572M1176.0 1097V1572M186.4 1334.9H1670.4"/>
</g>
<g font-family="Liberation Sans, Arial, Helvetica, sans-serif" fill="#4d4d4d">
<text x="156.3" y="1155.3" font-size="15.6" text-anchor="end">10</text>
<text x="154.6" y="1145.6" font-size="15.6">−2</text>
<path d="M180 1146.00h6.4" stroke="#222" stroke-width="1.6"/>
<text x="156.3" y="1237.3" font-size="15.6" text-anchor="end">10</text>
<text x="154.6" y="1227.6" font-size="15.6">−3</text>
<path d="M180 1228.00h6.4" stroke="#222" stroke-width="1.6"/>
<text x="156.3" y="1319.3" font-size="15.6" text-anchor="end">10</text>
<text x="154.6" y="1309.6" font-size="15.6">−4</text>
<path d="M180 1310.00h6.4" stroke="#222" stroke-width="1.6"/>
<text x="156.3" y="1393.1" font-size="15.6" text-anchor="end">10</text>
<text x="154.6" y="1383.4" font-size="15.6">−2</text>
<path d="M180 1383.80h6.4" stroke="#222" stroke-width="1.6"/>
<text x="156.3" y="1474.8" font-size="15.6" text-anchor="end">10</text>
<text x="154.6" y="1465.1" font-size="15.6">−3</text>
<path d="M180 1465.55h6.4" stroke="#222" stroke-width="1.6"/>
<text x="156.3" y="1556.6" font-size="15.6" text-anchor="end">10</text>
<text x="154.6" y="1546.9" font-size="15.6">−4</text>
<path d="M180 1547.30h6.4" stroke="#222" stroke-width="1.6"/>
</g>
<g font-family="Liberation Sans, Arial, Helvetica, sans-serif" font-size="15.6" fill="#1a1a1a" text-anchor="middle">
<text x="271.9" y="1598.3">hgEurUP</text>
<text x="343.2" y="1598.3">hgEur1</text>
<text x="413.8" y="1598.3">hgEur2</text>
<text x="484.6" y="1598.3">hgEur3</text>
<text x="766.7" y="1598.3">hgEurUP</text>
<text x="838.0" y="1598.3">hgEur1</text>
<text x="908.6" y="1598.3">hgEur2</text>
<text x="979.4" y="1598.3">hgEur3</text>
<text x="1261.5" y="1598.3">hgEurUP</text>
<text x="1332.8" y="1598.3">hgEur1</text>
<text x="1403.4" y="1598.3">hgEur2</text>
<text x="1474.2" y="1598.3">hgEur3</text>
</g>
<path d="M279.3 1572v6.5M349.6 1572v6.5M419.8 1572v6.5M490.4 1572v6.5M774.1 1572v6.5M844.4 1572v6.5M914.6 1572v6.5M985.2 1572v6.5M1268.9 1572v6.5M1339.2 1572v6.5M1409.4 1572v6.5M1480.0 1572v6.5" stroke="#333" stroke-width="1.4" fill="none"/>
<defs><g id="bm">
<path d="M16.0 395.2L20.3 386.0L28.8 376.0L35.9 364.6L38.8 354.7L44.5 363.2L55.8 363.2L70.1 354.7L81.4 350.4L95.7 347.6L109.9 346.2L124.1 344.7L134.1 343.3L138.3 350.4L136.9 359.0L134.8 366.1L136.9 373.2L145.5 378.9L155.4 386.0L168.2 395.2ZM193.8 395.2L198.1 387.4L206.6 386.0L212.3 395.2ZM284.4 395.2L285.8 386.0L288.7 371.8L291.5 357.5L293.0 347.6L288.7 350.4L280.2 359.0L268.8 353.3L258.8 347.6L247.4 350.4L238.9 343.3L234.6 333.4L237.5 322.0L233.2 313.4L238.9 307.7L234.6 306.3L226.1 307.7L218.0 310.6L215.9 316.3L212.3 319.1L209.5 327.7L215.2 339.0L217.3 344.7L213.7 350.4L206.6 350.4L202.4 340.5L199.5 330.5L198.1 322.0L195.2 307.7L186.7 293.5L173.9 279.3L159.7 263.7L149.7 260.8L149.0 269.3L156.8 283.6L166.8 294.9L179.6 306.3L186.7 313.4L182.4 319.1L179.6 327.7L176.8 334.8L172.5 327.7L171.1 320.6L164.0 314.9L152.6 304.9L144.0 293.5L135.5 279.3L127.0 272.9L118.4 278.6L109.9 282.9L101.4 282.1L94.3 285.0L90.0 296.4L81.4 306.3L75.8 313.4L68.6 330.5L63.0 340.5L55.8 346.2L43.0 347.6L36.6 351.1L28.8 346.2L20.3 343.3L18.9 336.2L16.0 324.8L18.1 310.6L19.6 296.4L18.9 285.7L24.5 282.1L38.8 280.0L53.0 282.9L65.1 279.3L66.5 269.3L65.8 255.1L60.8 246.6L53.0 238.0L45.9 231.6L55.8 229.0L64.4 226.2L67.2 221.9L72.9 220.5L81.4 214.8L87.1 210.6L95.7 203.4L99.9 196.3L104.2 189.2L109.9 184.9L118.4 182.1L124.1 179.3L132.7 178.4L145.5 176.4L159.7 175.0L173.9 172.1L188.1 169.3L199.5 165.0L190.3 172.5L198.7 164.1L202.9 150.0L205.7 140.2L214.2 138.8L218.4 145.8L224.0 138.8L215.6 130.3L221.2 123.3L235.3 121.9L249.4 119.1L259.2 114.8L249.4 112.0L235.3 113.4L221.2 116.2L210.0 119.1L204.3 110.6L202.9 99.4L205.7 88.1L212.8 76.8L221.2 65.6L225.4 59.9L215.6 61.4L208.6 65.6L202.9 74.0L193.1 85.3L184.6 96.5L180.4 107.8L179.0 119.1L184.1 126.9L179.0 135.9L176.2 150.0L171.1 159.9L164.9 164.6L157.1 165.5L151.4 160.7L148.6 150.0L145.2 138.8L141.9 129.5L134.0 133.1L124.1 133.1L114.3 134.0L107.2 127.5L103.5 111.2L104.2 99.8L109.9 91.3L121.3 84.2L132.7 77.1L141.2 68.5L148.3 58.6L154.0 51.5L161.1 44.3L171.1 34.4L181.0 25.8L195.2 18.7L209.5 13.0L223.7 10.2L240.3 12.3L254.5 16.6L268.8 20.2L290.1 25.8L305.8 30.1L318.6 38.7L324.3 47.2L320.0 54.3L305.8 60.0L294.4 57.1L283.0 54.3L274.5 50.0L283.0 60.0L288.7 71.4L297.2 77.1L305.8 74.2L311.4 67.1L317.1 69.9L322.8 64.3L328.5 58.6L339.9 55.7L342.7 51.5L339.9 44.3L344.2 38.7L349.9 33.0L354.1 44.3L362.7 47.2L371.2 40.1L382.6 35.8L396.8 33.0L411.0 30.1L425.2 28.7L439.5 25.8L448.0 23.0L455.4 21.6L480.0 20.0L480.0 396.0ZM31.7 138.0L43.0 133.7L53.0 133.7L50.2 142.3L58.7 145.1L60.1 153.7L63.0 159.3L70.1 169.3L75.8 180.7L81.4 189.2L82.9 194.9L75.8 200.6L80.0 204.9L67.2 209.1L55.8 210.6L41.6 214.1L45.9 206.3L53.0 203.4L43.0 199.2L44.5 192.1L53.0 186.4L50.2 179.3L45.9 175.0L43.0 166.5L35.9 160.8L33.1 152.2L30.2 143.7ZM13.2 175.0L21.7 169.3L31.7 166.5L37.4 172.1L35.9 183.5L33.1 192.1L24.5 197.7L13.2 200.6L10.3 194.9L16.0 186.4ZM149.7 336.2L165.4 334.8L166.8 340.5L161.1 346.2L151.1 341.9ZM124.1 306.3L130.5 304.9L131.2 322.0L124.8 324.8ZM126.3 289.3L130.5 288.5L131.2 300.6L127.0 302.1ZM215.2 363.5L229.4 362.5L229.4 366.1L215.9 366.4ZM268.8 362.5L280.2 361.1L280.9 364.6L270.2 366.1ZM88.6 318.0L94.3 317.0L94.3 320.6L89.3 320.6ZM190.3 144.4L193.1 145.8L192.5 153.4L189.7 152.3ZM386.8 3.8L403.9 2.4L422.4 8.8L421.0 12.3L403.9 8.1L388.3 7.4ZM429.5 15.2L439.5 14.5L443.7 20.2L433.8 20.2ZM368.3 25.1L376.9 24.4L378.3 29.4L369.8 30.8Z" fill="#EFEBE9" stroke="#EFEBE9" stroke-width="0.8" stroke-linejoin="round"/>
<path d="M253.1 259.4L260.2 253.0L268.8 255.1L274.5 260.8L283.0 259.4L293.0 265.1L302.9 260.8L311.4 265.1L320.0 275.0L325.7 286.4L327.1 296.4L322.8 302.1L311.4 303.5L300.1 299.2L288.7 294.2L277.3 297.8L267.4 303.5L254.5 302.8L244.6 296.4L240.3 290.7L241.7 282.1L247.4 269.3ZM298.6 253.0L302.9 246.6L311.4 243.7L313.6 247.3L307.9 253.0L303.6 259.7L300.8 258.0ZM358.4 269.3L362.7 259.4L375.5 250.8L386.8 246.6L396.8 248.7L396.8 258.0L389.7 265.1L386.8 275.0L392.5 285.0L396.8 293.5L405.3 303.5L403.9 310.6L396.8 313.4L399.6 324.8L401.1 343.3L392.5 349.0L382.6 347.6L375.5 339.0L371.2 324.8L375.5 314.9L371.2 302.1L365.5 290.7L361.2 279.3ZM238.9 304.2L246.0 302.1L247.4 305.6L240.3 307.7Z" fill="#fff" stroke="#fff" stroke-width="0.6" stroke-linejoin="round"/>
<path d="M255.3 105.5L261.7 102.0L268.8 106.9L273.8 111.2L271.6 115.5L264.5 118.3L259.5 111.2ZM283.0 89.9L287.3 94.1L294.4 104.1L291.5 109.8L285.8 102.7L283.0 97.0ZM150.4 127.3L155.4 123.8L158.3 125.9L154.0 132.3L149.7 132.3ZM238.9 28.7L246.0 25.1L247.4 28.0L240.3 32.3ZM238.2 128.3L241.0 127.6L242.5 134.0L239.6 134.7ZM251.4 262.2L253.8 261.5L254.3 265.1L252.0 265.8Z" fill="#9DB4D3"/>
<path d="M123.4 237.6L146.9 226.2L156.8 231.9L166.8 232.6L179.6 238.3L188.8 239.0L188.1 254.6L191.0 263.2L200.9 268.2L209.5 270.3L213.0 277.4L231.1 279.5L234.6 276.5L241.7 267.9L244.6 262.2L251.7 263.7M271.6 145.8L280.2 150.8L284.4 152.2L288.7 148.0L294.4 147.3M306.5 140.8L310.0 137.3L317.1 141.6M324.3 143.0L332.8 143.0M337.1 150.8L345.6 155.1L355.5 153.7L365.5 156.5L372.6 161.5M379.0 182.8L369.8 185.7L365.5 194.9L358.4 199.2M350.6 214.8L347.0 223.4L344.2 230.5L351.3 233.3L358.4 243.3L366.2 251.8L368.3 254.6M366.2 251.8L362.7 258.9M446.6 249.7L439.5 253.2L430.9 260.3L428.1 270.3M325.7 314.9L317.1 317.7L308.6 322.0L307.2 330.5L310.0 336.2L304.3 343.3L305.8 350.4L308.6 356.1L314.3 357.5L322.8 367.5L331.4 376.0L339.9 378.9L342.7 386.0L343.5 395.2M347.7 310.6L350.6 314.9" fill="none" stroke="#9EABC7" stroke-width="1.35" stroke-linejoin="round"/>
<path d="M232.9 96.7l-0.4 2.7M243.9 84.4l-1.5 3.2M233.5 88.7l1.5 2.4M249.9 94.9l0.4 1.8M244.2 105.0l0.1 3.0M245.2 84.4l0.8 2.7M234.7 83.5l1.1 2.4M246.6 105.3l0.6 3.3M237.3 103.3l-0.2 3.4M251.1 85.2l-1.1 1.9M253.6 93.9l0.4 2.1M240.5 92.6l-0.4 2.7M242.7 105.9l0.5 3.4M250.5 108.1l0.5 1.8M250.6 107.4l1.2 2.6M246.4 88.2l1.0 2.6M234.2 84.4l1.1 3.5M228.6 103.2l-0.3 1.8M234.5 102.4l1.1 1.6M243.6 83.9l0.7 2.2M251.2 107.9l0.0 3.5M234.9 84.7l0.3 1.6M231.7 93.2l0.3 1.8M227.3 105.0l-0.6 3.4M251.6 92.4l-0.1 2.5M244.4 98.0l0.2 2.7M252.9 95.7l-0.2 2.9M232.9 90.5l1.4 2.5M241.7 83.0l-0.3 2.7M226.7 98.5l0.4 1.6M243.9 94.7l0.5 2.2M246.2 101.6l-1.4 1.6M245.3 107.4l-0.7 2.4M243.0 90.9l-0.4 2.1M236.6 98.0l-0.6 2.3M248.1 83.4l0.2 3.0M234.9 88.4l0.9 2.0M231.4 93.9l0.6 1.7M268.7 43.9l1.0 2.2M273.2 38.5l-0.5 2.5M273.5 47.7l-0.8 1.7M270.4 39.2l0.9 2.8M267.5 42.1l0.9 2.5M272.8 44.3l-1.1 1.9M272.7 41.8l-0.5 2.1M269.5 46.4l1.3 1.7M266.0 63.8l1.1 3.0M269.6 64.0l1.3 1.8M322.8 70.4l0.5 2.3M317.6 67.6l-0.8 1.6M321.0 67.3l0.9 1.6M253.5 55.4l1.3 2.8M253.4 54.7l-1.5 2.6M245.1 53.2l0.5 2.3M156.8 92.7l1.4 1.5M154.0 91.0l1.2 2.2M155.7 75.9l1.3 2.2M152.7 89.4l1.9 2.2M163.8 71.5l1.4 2.3M150.6 77.5l0.9 1.8M156.9 82.1l1.7 1.0M150.7 74.3l0.7 1.1" fill="none" stroke="#9DB4D3" stroke-width="1.0"/>
</g></defs>
<text x="2.2" y="1636.5" font-family="Liberation Sans, Arial, Helvetica, sans-serif" font-size="22" font-weight="bold" fill="#000">c</text>
<svg x="15.40" y="1657.60" width="455.60" height="394.30" viewBox="0 0 455.60 394.30" overflow="hidden">
<use href="#bm"/>
<circle cx="185.2" cy="23.9" r="3.4" fill="#fff" fill-opacity="0.55" stroke="#5a5a5a" stroke-width="1.5"/>
<circle cx="162.1" cy="39.4" r="4.5" fill="#fff" fill-opacity="0.55" stroke="#5a5a5a" stroke-width="1.5"/>
<circle cx="165.5" cy="129.5" r="5.6" fill="#fff" fill-opacity="0.55" stroke="#5a5a5a" stroke-width="1.5"/>
<circle cx="164.9" cy="132.3" r="4.5" fill="#fff" fill-opacity="0.55" stroke="#5a5a5a" stroke-width="1.5"/>
<circle cx="156.5" cy="138.8" r="4.8" fill="#fff" fill-opacity="0.55" stroke="#5a5a5a" stroke-width="1.5"/>
<circle cx="117.1" cy="135.9" r="4.2" fill="#fff" fill-opacity="0.55" stroke="#5a5a5a" stroke-width="1.5"/>
<circle cx="118.5" cy="136.5" r="2.8" fill="#fff" fill-opacity="0.55" stroke="#5a5a5a" stroke-width="1.1"/>
<circle cx="183.8" cy="140.2" r="5.6" fill="#fff" fill-opacity="0.55" stroke="#5a5a5a" stroke-width="1.5"/>
<circle cx="186.0" cy="144.4" r="4.5" fill="#fff" fill-opacity="0.55" stroke="#5a5a5a" stroke-width="1.5"/>
<circle cx="212.8" cy="266.0" r="5.1" fill="#fff" fill-opacity="0.55" stroke="#5a5a5a" stroke-width="1.5"/>
<circle cx="225.4" cy="152.8" r="3.9" fill="#fff" fill-opacity="0.55" stroke="#5a5a5a" stroke-width="1.5"/>
<circle cx="224.0" cy="153.4" r="2.3" fill="#fff" fill-opacity="0.55" stroke="#5a5a5a" stroke-width="1.1"/>
<circle cx="309.0" cy="113.4" r="3.9" fill="#fff" fill-opacity="0.55" stroke="#5a5a5a" stroke-width="1.5"/>
<circle cx="309.0" cy="113.4" r="1.7" fill="#fff" fill-opacity="0.55" stroke="#5a5a5a" stroke-width="1.1"/>
<circle cx="311.8" cy="119.1" r="1.4" fill="#fff" fill-opacity="0.55" stroke="#5a5a5a" stroke-width="1.1"/>
<circle cx="317.8" cy="146.6" r="3.4" fill="#fff" fill-opacity="0.55" stroke="#5a5a5a" stroke-width="1.5"/>
<circle cx="316.4" cy="151.4" r="2.8" fill="#fff" fill-opacity="0.55" stroke="#5a5a5a" stroke-width="1.1"/>
<circle cx="319.7" cy="152.8" r="2.3" fill="#fff" fill-opacity="0.55" stroke="#5a5a5a" stroke-width="1.1"/>
<circle cx="301.4" cy="151.7" r="1.4" fill="#fff" fill-opacity="0.55" stroke="#5a5a5a" stroke-width="1.1"/>
<circle cx="305.1" cy="151.7" r="1.4" fill="#fff" fill-opacity="0.55" stroke="#5a5a5a" stroke-width="1.1"/>
<circle cx="429.5" cy="144.7" r="1.7" fill="#fff" fill-opacity="0.55" stroke="#5a5a5a" stroke-width="1.1"/>
<circle cx="312.7" cy="184.4" r="1.7" fill="#fff" fill-opacity="0.55" stroke="#5a5a5a" stroke-width="1.1"/>
<circle cx="309.9" cy="190.8" r="1.7" fill="#fff" fill-opacity="0.55" stroke="#5a5a5a" stroke-width="1.1"/>
<circle cx="314.1" cy="192.2" r="1.7" fill="#fff" fill-opacity="0.55" stroke="#5a5a5a" stroke-width="1.1"/>
<circle cx="318.3" cy="188.0" r="1.7" fill="#fff" fill-opacity="0.55" stroke="#5a5a5a" stroke-width="1.1"/>
<circle cx="311.3" cy="194.2" r="1.7" fill="#fff" fill-opacity="0.55" stroke="#5a5a5a" stroke-width="1.1"/>
<circle cx="315.5" cy="189.4" r="1.7" fill="#fff" fill-opacity="0.55" stroke="#5a5a5a" stroke-width="1.1"/>
<circle cx="312.7" cy="214.7" r="1.7" fill="#fff" fill-opacity="0.55" stroke="#5a5a5a" stroke-width="1.1"/>
<circle cx="317.8" cy="215.6" r="1.7" fill="#fff" fill-opacity="0.55" stroke="#5a5a5a" stroke-width="1.1"/>
<circle cx="284.5" cy="231.6" r="1.7" fill="#fff" fill-opacity="0.55" stroke="#5a5a5a" stroke-width="1.1"/>
<circle cx="283.1" cy="235.0" r="1.7" fill="#fff" fill-opacity="0.55" stroke="#5a5a5a" stroke-width="1.1"/>
<circle cx="287.4" cy="233.9" r="1.7" fill="#fff" fill-opacity="0.55" stroke="#5a5a5a" stroke-width="1.1"/>
<circle cx="286.0" cy="237.8" r="1.7" fill="#fff" fill-opacity="0.55" stroke="#5a5a5a" stroke-width="1.1"/>
<circle cx="284.0" cy="240.1" r="1.7" fill="#fff" fill-opacity="0.55" stroke="#5a5a5a" stroke-width="1.1"/>
<circle cx="288.8" cy="236.7" r="1.7" fill="#fff" fill-opacity="0.55" stroke="#5a5a5a" stroke-width="1.1"/>
<circle cx="281.2" cy="246.3" r="1.7" fill="#fff" fill-opacity="0.55" stroke="#5a5a5a" stroke-width="1.1"/>
<circle cx="288.2" cy="101.3" r="1.7" fill="#fff" fill-opacity="0.55" stroke="#5a5a5a" stroke-width="1.1"/>
<circle cx="71.2" cy="328.7" r="12.7" fill="#fff" fill-opacity="0.5"/><path d="M61.6 320.5A12.7 12.7 0 1 1 61.6 337.0Z" fill="#484848" fill-opacity="0.84" stroke="#222" stroke-width="0.8"/><circle cx="71.2" cy="328.7" r="12.7" fill="none" stroke="#1a1a1a" stroke-width="1.3"/>
<circle cx="222.6" cy="138.8" r="8.4" fill="#fff" fill-opacity="0.5"/><path d="M222.6 130.3A8.4 8.4 0 0 1 222.6 147.2Z" fill="#484848" fill-opacity="0.84" stroke="#222" stroke-width="0.8"/><circle cx="222.6" cy="138.8" r="8.4" fill="none" stroke="#1a1a1a" stroke-width="1.3"/>
<circle cx="226.9" cy="152.3" r="9.0" fill="#fff" fill-opacity="0.5"/><path d="M225.9 143.3A9.0 9.0 0 1 1 225.9 161.2Z" fill="#484848" fill-opacity="0.84" stroke="#222" stroke-width="0.8"/><circle cx="226.9" cy="152.3" r="9.0" fill="none" stroke="#1a1a1a" stroke-width="1.3"/>
<circle cx="186.9" cy="189.4" r="9.9" fill="#fff" fill-opacity="0.5"/><path d="M186.9 179.6A9.9 9.9 0 0 1 186.9 199.3Z" fill="#484848" fill-opacity="0.84" stroke="#222" stroke-width="0.8"/><circle cx="186.9" cy="189.4" r="9.9" fill="none" stroke="#1a1a1a" stroke-width="1.3"/>
<circle cx="188.9" cy="188.9" r="9.3" fill="#fff" fill-opacity="0.5"/><path d="M187.9 179.6A9.3 9.3 0 1 1 187.9 198.1Z" fill="#484848" fill-opacity="0.84" stroke="#222" stroke-width="0.8"/><circle cx="188.9" cy="188.9" r="9.3" fill="none" stroke="#1a1a1a" stroke-width="1.3"/>
<circle cx="199.5" cy="240.6" r="9.0" fill="#fff" fill-opacity="0.5"/><path d="M199.5 231.6A9.0 9.0 0 0 1 199.5 249.6Z" fill="#484848" fill-opacity="0.84" stroke="#222" stroke-width="0.8"/><circle cx="199.5" cy="240.6" r="9.0" fill="none" stroke="#1a1a1a" stroke-width="1.3"/>
<circle cx="205.2" cy="266.8" r="8.4" fill="#fff" fill-opacity="0.5"/><path d="M205.2 258.4A8.4 8.4 0 0 1 205.2 275.3Z" fill="#484848" fill-opacity="0.84" stroke="#222" stroke-width="0.8"/><circle cx="205.2" cy="266.8" r="8.4" fill="none" stroke="#1a1a1a" stroke-width="1.3"/>
<circle cx="139.6" cy="132.3" r="9.0" fill="#fff" fill-opacity="0.5"/><path d="M139.6 123.3A9.0 9.0 0 0 1 139.6 141.3Z" fill="#484848" fill-opacity="0.84" stroke="#222" stroke-width="0.8"/><circle cx="139.6" cy="132.3" r="9.0" fill="none" stroke="#1a1a1a" stroke-width="1.3"/>
<circle cx="126.9" cy="150.0" r="14.1" fill="#5b5b5b" fill-opacity="0.92" stroke="#111" stroke-width="1.3"/>
<circle cx="135.4" cy="145.8" r="14.1" fill="#5b5b5b" fill-opacity="0.92" stroke="#111" stroke-width="1.3"/>
<circle cx="141.0" cy="152.8" r="14.1" fill="#5b5b5b" fill-opacity="0.92" stroke="#111" stroke-width="1.3"/>
<circle cx="148.0" cy="158.5" r="14.1" fill="#5b5b5b" fill-opacity="0.92" stroke="#111" stroke-width="1.3"/>
<circle cx="152.3" cy="161.3" r="13.5" fill="#5b5b5b" fill-opacity="0.92" stroke="#111" stroke-width="1.3"/>
<circle cx="129.7" cy="158.5" r="13.5" fill="#5b5b5b" fill-opacity="0.92" stroke="#111" stroke-width="1.3"/>
<circle cx="135.4" cy="164.1" r="14.1" fill="#5b5b5b" fill-opacity="0.92" stroke="#111" stroke-width="1.3"/>
<circle cx="141.0" cy="169.7" r="14.1" fill="#5b5b5b" fill-opacity="0.92" stroke="#111" stroke-width="1.3"/>
<circle cx="145.2" cy="166.9" r="13.5" fill="#5b5b5b" fill-opacity="0.92" stroke="#111" stroke-width="1.3"/>
<circle cx="156.5" cy="159.9" r="12.7" fill="#5b5b5b" fill-opacity="0.92" stroke="#111" stroke-width="1.3"/>
<circle cx="122.7" cy="154.2" r="12.7" fill="#5b5b5b" fill-opacity="0.92" stroke="#111" stroke-width="1.3"/>
<circle cx="142.4" cy="172.5" r="13.5" fill="#5b5b5b" fill-opacity="0.92" stroke="#111" stroke-width="1.3"/>
<circle cx="54.3" cy="199.3" r="14.1" fill="#5b5b5b" fill-opacity="0.92" stroke="#111" stroke-width="1.3"/>
<circle cx="108.6" cy="220.9" r="14.1" fill="#5b5b5b" fill-opacity="0.92" stroke="#111" stroke-width="1.3"/>
<circle cx="117.1" cy="246.6" r="13.5" fill="#5b5b5b" fill-opacity="0.92" stroke="#111" stroke-width="1.3"/>
<circle cx="73.5" cy="258.4" r="12.7" fill="#5b5b5b" fill-opacity="0.92" stroke="#111" stroke-width="1.3"/>
<circle cx="74.9" cy="259.8" r="12.4" fill="#5b5b5b" fill-opacity="0.92" stroke="#111" stroke-width="1.3"/>
<circle cx="29.8" cy="285.1" r="11.8" fill="#5b5b5b" fill-opacity="0.92" stroke="#111" stroke-width="1.3"/>
<circle cx="34.1" cy="284.5" r="11.8" fill="#5b5b5b" fill-opacity="0.92" stroke="#111" stroke-width="1.3"/>
<circle cx="45.3" cy="281.7" r="11.3" fill="#5b5b5b" fill-opacity="0.92" stroke="#111" stroke-width="1.3"/>
<circle cx="43.9" cy="282.3" r="11.3" fill="#5b5b5b" fill-opacity="0.92" stroke="#111" stroke-width="1.3"/>
<circle cx="31.2" cy="286.5" r="11.3" fill="#5b5b5b" fill-opacity="0.92" stroke="#111" stroke-width="1.3"/>
<circle cx="157.3" cy="292.1" r="6.2" fill="#3a3a3a" stroke="#111" stroke-width="1.4"/>
<circle cx="155.9" cy="293.6" r="6.2" fill="#FF6347" stroke="#111" stroke-width="1.4"/>
<circle cx="162.4" cy="336.3" r="6.2" fill="#FF6347" stroke="#111" stroke-width="1.4"/>
<text x="446.7" y="382.9" font-family="Liberation Sans, Arial, Helvetica, sans-serif" font-size="15.8" fill="#111" text-anchor="end">Italy_15000BP_9000BP</text>
</svg>
<svg x="472.55" y="1657.60" width="455.60" height="394.30" viewBox="0 0 455.60 394.30" overflow="hidden">
<use href="#bm"/>
<circle cx="126.7" cy="151.4" r="2.8" fill="#fff" fill-opacity="0.55" stroke="#5a5a5a" stroke-width="1.1"/>
<circle cx="129.5" cy="158.5" r="3.4" fill="#fff" fill-opacity="0.55" stroke="#5a5a5a" stroke-width="1.5"/>
<circle cx="133.7" cy="147.2" r="3.9" fill="#fff" fill-opacity="0.55" stroke="#5a5a5a" stroke-width="1.5"/>
<circle cx="135.1" cy="154.2" r="2.8" fill="#fff" fill-opacity="0.55" stroke="#5a5a5a" stroke-width="1.1"/>
<circle cx="132.3" cy="166.9" r="3.4" fill="#fff" fill-opacity="0.55" stroke="#5a5a5a" stroke-width="1.5"/>
<circle cx="136.5" cy="161.3" r="2.8" fill="#fff" fill-opacity="0.55" stroke="#5a5a5a" stroke-width="1.1"/>
<circle cx="54.3" cy="199.8" r="1.7" fill="#fff" fill-opacity="0.55" stroke="#5a5a5a" stroke-width="1.1"/>
<circle cx="108.9" cy="220.9" r="1.7" fill="#fff" fill-opacity="0.55" stroke="#5a5a5a" stroke-width="1.1"/>
<circle cx="117.4" cy="246.6" r="3.9" fill="#fff" fill-opacity="0.55" stroke="#5a5a5a" stroke-width="1.5"/>
<circle cx="74.0" cy="255.6" r="5.1" fill="#fff" fill-opacity="0.55" stroke="#5a5a5a" stroke-width="1.5"/>
<circle cx="73.2" cy="262.0" r="4.5" fill="#fff" fill-opacity="0.55" stroke="#5a5a5a" stroke-width="1.5"/>
<circle cx="71.2" cy="328.7" r="3.1" fill="#fff" fill-opacity="0.55" stroke="#5a5a5a" stroke-width="1.5"/>
<circle cx="429.8" cy="144.7" r="3.1" fill="#fff" fill-opacity="0.55" stroke="#5a5a5a" stroke-width="1.5"/>
<circle cx="309.6" cy="109.2" r="1.7" fill="#fff" fill-opacity="0.55" stroke="#5a5a5a" stroke-width="1.1"/>
<circle cx="312.4" cy="112.0" r="1.7" fill="#fff" fill-opacity="0.55" stroke="#5a5a5a" stroke-width="1.1"/>
<circle cx="311.0" cy="114.8" r="1.7" fill="#fff" fill-opacity="0.55" stroke="#5a5a5a" stroke-width="1.1"/>
<circle cx="312.4" cy="119.1" r="1.7" fill="#fff" fill-opacity="0.55" stroke="#5a5a5a" stroke-width="1.1"/>
<circle cx="318.0" cy="146.6" r="2.8" fill="#fff" fill-opacity="0.55" stroke="#5a5a5a" stroke-width="1.1"/>
<circle cx="316.6" cy="151.4" r="2.8" fill="#fff" fill-opacity="0.55" stroke="#5a5a5a" stroke-width="1.1"/>
<circle cx="319.4" cy="153.4" r="2.3" fill="#fff" fill-opacity="0.55" stroke="#5a5a5a" stroke-width="1.1"/>
<circle cx="301.2" cy="151.7" r="1.4" fill="#fff" fill-opacity="0.55" stroke="#5a5a5a" stroke-width="1.1"/>
<circle cx="304.8" cy="151.7" r="1.4" fill="#fff" fill-opacity="0.55" stroke="#5a5a5a" stroke-width="1.1"/>
<circle cx="309.0" cy="190.8" r="5.1" fill="#fff" fill-opacity="0.55" stroke="#5a5a5a" stroke-width="1.5"/>
<circle cx="313.8" cy="184.6" r="1.7" fill="#fff" fill-opacity="0.55" stroke="#5a5a5a" stroke-width="1.1"/>
<circle cx="318.0" cy="188.9" r="1.7" fill="#fff" fill-opacity="0.55" stroke="#5a5a5a" stroke-width="1.1"/>
<circle cx="311.0" cy="192.8" r="2.3" fill="#fff" fill-opacity="0.55" stroke="#5a5a5a" stroke-width="1.1"/>
<circle cx="312.4" cy="214.7" r="1.4" fill="#fff" fill-opacity="0.55" stroke="#5a5a5a" stroke-width="1.1"/>
<circle cx="317.5" cy="215.6" r="1.4" fill="#fff" fill-opacity="0.55" stroke="#5a5a5a" stroke-width="1.1"/>
<circle cx="288.5" cy="100.8" r="1.7" fill="#fff" fill-opacity="0.55" stroke="#5a5a5a" stroke-width="1.1"/>
<circle cx="31.0" cy="285.7" r="1.7" fill="#fff" fill-opacity="0.55" stroke="#5a5a5a" stroke-width="1.1"/>
<circle cx="184.9" cy="23.4" r="6.8" fill="#fff" fill-opacity="0.5"/><path d="M187.3 17.1A6.8 6.8 0 0 1 187.3 29.7Z" fill="#484848" fill-opacity="0.84" stroke="#222" stroke-width="0.8"/><circle cx="184.9" cy="23.4" r="6.8" fill="none" stroke="#1a1a1a" stroke-width="1.3"/>
<circle cx="161.8" cy="39.4" r="8.4" fill="#fff" fill-opacity="0.5"/><path d="M163.2 31.1A8.4 8.4 0 0 1 163.2 47.7Z" fill="#484848" fill-opacity="0.84" stroke="#222" stroke-width="0.8"/><circle cx="161.8" cy="39.4" r="8.4" fill="none" stroke="#1a1a1a" stroke-width="1.3"/>
<circle cx="118.2" cy="135.9" r="9.0" fill="#fff" fill-opacity="0.5"/><path d="M118.2 126.9A9.0 9.0 0 0 1 118.2 144.9Z" fill="#484848" fill-opacity="0.84" stroke="#222" stroke-width="0.8"/><circle cx="118.2" cy="135.9" r="9.0" fill="none" stroke="#1a1a1a" stroke-width="1.3"/>
<circle cx="139.3" cy="133.1" r="10.1" fill="#fff" fill-opacity="0.5"/><path d="M139.3 123.0A10.1 10.1 0 0 1 139.3 143.3Z" fill="#484848" fill-opacity="0.84" stroke="#222" stroke-width="0.8"/><circle cx="139.3" cy="133.1" r="10.1" fill="none" stroke="#1a1a1a" stroke-width="1.3"/>
<circle cx="142.1" cy="134.0" r="8.4" fill="#fff" fill-opacity="0.5"/><path d="M140.4 125.7A8.4 8.4 0 1 1 140.4 142.2Z" fill="#484848" fill-opacity="0.84" stroke="#222" stroke-width="0.8"/><circle cx="142.1" cy="134.0" r="8.4" fill="none" stroke="#1a1a1a" stroke-width="1.3"/>
<circle cx="163.2" cy="130.3" r="11.8" fill="#fff" fill-opacity="0.5"/><path d="M159.7 119.0A11.8 11.8 0 1 1 159.7 141.6Z" fill="#484848" fill-opacity="0.84" stroke="#222" stroke-width="0.8"/><circle cx="163.2" cy="130.3" r="11.8" fill="none" stroke="#1a1a1a" stroke-width="1.3"/>
<circle cx="166.1" cy="127.5" r="10.7" fill="#fff" fill-opacity="0.5"/><path d="M163.9 117.0A10.7 10.7 0 1 1 163.9 138.0Z" fill="#484848" fill-opacity="0.84" stroke="#222" stroke-width="0.8"/><circle cx="166.1" cy="127.5" r="10.7" fill="none" stroke="#1a1a1a" stroke-width="1.3"/>
<circle cx="156.2" cy="138.8" r="10.1" fill="#fff" fill-opacity="0.5"/><path d="M156.2 128.6A10.1 10.1 0 0 1 156.2 148.9Z" fill="#484848" fill-opacity="0.84" stroke="#222" stroke-width="0.8"/><circle cx="156.2" cy="138.8" r="10.1" fill="none" stroke="#1a1a1a" stroke-width="1.3"/>
<circle cx="184.4" cy="144.4" r="11.8" fill="#fff" fill-opacity="0.5"/><path d="M182.0 132.8A11.8 11.8 0 1 1 182.0 156.0Z" fill="#484848" fill-opacity="0.84" stroke="#222" stroke-width="0.8"/><circle cx="184.4" cy="144.4" r="11.8" fill="none" stroke="#1a1a1a" stroke-width="1.3"/>
<circle cx="222.3" cy="137.9" r="10.7" fill="#fff" fill-opacity="0.5"/><path d="M222.3 127.2A10.7 10.7 0 0 1 222.3 148.6Z" fill="#484848" fill-opacity="0.84" stroke="#222" stroke-width="0.8"/><circle cx="222.3" cy="137.9" r="10.7" fill="none" stroke="#1a1a1a" stroke-width="1.3"/>
<circle cx="225.7" cy="153.4" r="11.8" fill="#fff" fill-opacity="0.5"/><path d="M223.8 141.7A11.8 11.8 0 1 1 223.8 165.1Z" fill="#484848" fill-opacity="0.84" stroke="#222" stroke-width="0.8"/><circle cx="225.7" cy="153.4" r="11.8" fill="none" stroke="#1a1a1a" stroke-width="1.3"/>
<circle cx="144.9" cy="162.7" r="10.1" fill="#fff" fill-opacity="0.5"/><path d="M143.9 152.6A10.1 10.1 0 1 1 143.9 172.8Z" fill="#484848" fill-opacity="0.84" stroke="#222" stroke-width="0.8"/><circle cx="144.9" cy="162.7" r="10.1" fill="none" stroke="#1a1a1a" stroke-width="1.3"/>
<circle cx="147.8" cy="161.3" r="9.6" fill="#fff" fill-opacity="0.5"/><path d="M145.8 151.9A9.6 9.6 0 1 1 145.8 170.6Z" fill="#484848" fill-opacity="0.84" stroke="#222" stroke-width="0.8"/><circle cx="147.8" cy="161.3" r="9.6" fill="none" stroke="#1a1a1a" stroke-width="1.3"/>
<circle cx="152.0" cy="163.2" r="8.4" fill="#fff" fill-opacity="0.5"/><path d="M150.3 155.0A8.4 8.4 0 1 1 150.3 171.5Z" fill="#484848" fill-opacity="0.84" stroke="#222" stroke-width="0.8"/><circle cx="152.0" cy="163.2" r="8.4" fill="none" stroke="#1a1a1a" stroke-width="1.3"/>
<circle cx="187.2" cy="188.9" r="10.7" fill="#fff" fill-opacity="0.5"/><path d="M185.5 178.3A10.7 10.7 0 1 1 185.5 199.4Z" fill="#484848" fill-opacity="0.84" stroke="#222" stroke-width="0.8"/><circle cx="187.2" cy="188.9" r="10.7" fill="none" stroke="#1a1a1a" stroke-width="1.3"/>
<circle cx="199.3" cy="240.6" r="10.7" fill="#fff" fill-opacity="0.5"/><path d="M198.2 230.0A10.7 10.7 0 1 1 198.2 251.3Z" fill="#484848" fill-opacity="0.84" stroke="#222" stroke-width="0.8"/><circle cx="199.3" cy="240.6" r="10.7" fill="none" stroke="#1a1a1a" stroke-width="1.3"/>
<circle cx="204.1" cy="265.4" r="10.7" fill="#fff" fill-opacity="0.5"/><path d="M200.8 255.2A10.7 10.7 0 1 1 200.8 275.6Z" fill="#484848" fill-opacity="0.84" stroke="#222" stroke-width="0.8"/><circle cx="204.1" cy="265.4" r="10.7" fill="none" stroke="#1a1a1a" stroke-width="1.3"/>
<circle cx="212.5" cy="266.8" r="9.6" fill="#fff" fill-opacity="0.5"/><path d="M203.9 262.6A9.6 9.6 0 1 1 203.9 271.0Z" fill="#484848" fill-opacity="0.84" stroke="#222" stroke-width="0.8"/><circle cx="212.5" cy="266.8" r="9.6" fill="none" stroke="#1a1a1a" stroke-width="1.3"/>
<circle cx="285.7" cy="234.4" r="11.8" fill="#fff" fill-opacity="0.5"/><path d="M280.9 223.6A11.8 11.8 0 1 1 280.9 245.3Z" fill="#484848" fill-opacity="0.84" stroke="#222" stroke-width="0.8"/><circle cx="285.7" cy="234.4" r="11.8" fill="none" stroke="#1a1a1a" stroke-width="1.3"/>
<circle cx="284.3" cy="233.0" r="11.3" fill="#fff" fill-opacity="0.5"/><path d="M278.6 223.3A11.3 11.3 0 1 1 278.6 242.8Z" fill="#484848" fill-opacity="0.84" stroke="#222" stroke-width="0.8"/><circle cx="284.3" cy="233.0" r="11.3" fill="none" stroke="#1a1a1a" stroke-width="1.3"/>
<circle cx="282.9" cy="237.3" r="10.1" fill="#fff" fill-opacity="0.5"/><path d="M278.8 228.0A10.1 10.1 0 1 1 278.8 246.6Z" fill="#484848" fill-opacity="0.84" stroke="#222" stroke-width="0.8"/><circle cx="282.9" cy="237.3" r="10.1" fill="none" stroke="#1a1a1a" stroke-width="1.3"/>
<circle cx="280.0" cy="245.7" r="8.4" fill="#fff" fill-opacity="0.5"/><path d="M280.9 237.3A8.4 8.4 0 0 1 280.9 254.1Z" fill="#484848" fill-opacity="0.84" stroke="#222" stroke-width="0.8"/><circle cx="280.0" cy="245.7" r="8.4" fill="none" stroke="#1a1a1a" stroke-width="1.3"/>
<circle cx="43.6" cy="280.9" r="10.1" fill="#fff" fill-opacity="0.5"/><path d="M39.6 271.6A10.1 10.1 0 1 1 39.6 290.2Z" fill="#484848" fill-opacity="0.84" stroke="#222" stroke-width="0.8"/><circle cx="43.6" cy="280.9" r="10.1" fill="none" stroke="#1a1a1a" stroke-width="1.3"/>
<circle cx="40.8" cy="281.7" r="9.6" fill="#fff" fill-opacity="0.5"/><path d="M37.9 272.6A9.6 9.6 0 1 1 37.9 290.9Z" fill="#484848" fill-opacity="0.84" stroke="#222" stroke-width="0.8"/><circle cx="40.8" cy="281.7" r="9.6" fill="none" stroke="#1a1a1a" stroke-width="1.3"/>
<circle cx="39.4" cy="282.9" r="8.4" fill="#fff" fill-opacity="0.5"/><path d="M37.7 274.6A8.4 8.4 0 1 1 37.7 291.1Z" fill="#484848" fill-opacity="0.84" stroke="#222" stroke-width="0.8"/><circle cx="39.4" cy="282.9" r="8.4" fill="none" stroke="#1a1a1a" stroke-width="1.3"/>
<circle cx="36.6" cy="283.7" r="7.9" fill="#fff" fill-opacity="0.5"/><path d="M36.6 275.8A7.9 7.9 0 0 1 36.6 291.6Z" fill="#484848" fill-opacity="0.84" stroke="#222" stroke-width="0.8"/><circle cx="36.6" cy="283.7" r="7.9" fill="none" stroke="#1a1a1a" stroke-width="1.3"/>
<circle cx="208.3" cy="275.3" r="5.6" fill="#222" stroke="#111" stroke-width="1.4"/>
<circle cx="210.0" cy="271.0" r="4.8" fill="#E04A3A" stroke="#111" stroke-width="1.4"/>
<text x="441.6" y="382.9" font-family="Liberation Sans, Arial, Helvetica, sans-serif" font-size="15.8" fill="#111" text-anchor="end">Romania_8800BP</text>
</svg>
<svg x="929.70" y="1657.60" width="455.60" height="394.30" viewBox="0 0 455.60 394.30" overflow="hidden">
<use href="#bm"/>
<circle cx="225.4" cy="154.2" r="3.9" fill="#fff" fill-opacity="0.55" stroke="#5a5a5a" stroke-width="1.5"/>
<circle cx="224.6" cy="153.7" r="1.7" fill="#fff" fill-opacity="0.55" stroke="#5a5a5a" stroke-width="1.1"/>
<circle cx="305.7" cy="151.4" r="5.6" fill="#fff" fill-opacity="0.55" stroke="#5a5a5a" stroke-width="1.5"/>
<circle cx="306.5" cy="150.9" r="2.3" fill="#fff" fill-opacity="0.55" stroke="#5a5a5a" stroke-width="1.1"/>
<circle cx="309.9" cy="190.8" r="6.2" fill="#fff" fill-opacity="0.55" stroke="#5a5a5a" stroke-width="1.5"/>
<circle cx="311.3" cy="189.4" r="2.3" fill="#fff" fill-opacity="0.55" stroke="#5a5a5a" stroke-width="1.1"/>
<circle cx="166.3" cy="133.1" r="5.1" fill="#fff" fill-opacity="0.55" stroke="#5a5a5a" stroke-width="1.5"/>
<circle cx="166.3" cy="133.1" r="2.5" fill="#fff" fill-opacity="0.55" stroke="#5a5a5a" stroke-width="1.1"/>
<circle cx="185.2" cy="145.2" r="5.6" fill="#fff" fill-opacity="0.55" stroke="#5a5a5a" stroke-width="1.5"/>
<circle cx="184.6" cy="145.8" r="2.3" fill="#fff" fill-opacity="0.55" stroke="#5a5a5a" stroke-width="1.1"/>
<circle cx="185.5" cy="138.8" r="1.4" fill="#fff" fill-opacity="0.55" stroke="#5a5a5a" stroke-width="1.1"/>
<circle cx="185.5" cy="23.6" r="1.7" fill="#fff" fill-opacity="0.55" stroke="#5a5a5a" stroke-width="1.1"/>
<circle cx="163.0" cy="39.1" r="1.7" fill="#fff" fill-opacity="0.55" stroke="#5a5a5a" stroke-width="1.1"/>
<circle cx="119.1" cy="135.9" r="1.7" fill="#fff" fill-opacity="0.55" stroke="#5a5a5a" stroke-width="1.1"/>
<circle cx="122.7" cy="138.2" r="1.7" fill="#fff" fill-opacity="0.55" stroke="#5a5a5a" stroke-width="1.1"/>
<circle cx="140.2" cy="133.1" r="1.7" fill="#fff" fill-opacity="0.55" stroke="#5a5a5a" stroke-width="1.1"/>
<circle cx="144.4" cy="134.5" r="1.7" fill="#fff" fill-opacity="0.55" stroke="#5a5a5a" stroke-width="1.1"/>
<circle cx="157.1" cy="138.2" r="2.3" fill="#fff" fill-opacity="0.55" stroke="#5a5a5a" stroke-width="1.1"/>
<circle cx="55.2" cy="199.8" r="2.0" fill="#fff" fill-opacity="0.55" stroke="#5a5a5a" stroke-width="1.1"/>
<circle cx="109.5" cy="220.9" r="1.7" fill="#fff" fill-opacity="0.55" stroke="#5a5a5a" stroke-width="1.1"/>
<circle cx="117.6" cy="246.8" r="1.7" fill="#fff" fill-opacity="0.55" stroke="#5a5a5a" stroke-width="1.1"/>
<circle cx="75.1" cy="257.0" r="1.7" fill="#fff" fill-opacity="0.55" stroke="#5a5a5a" stroke-width="1.1"/>
<circle cx="74.0" cy="262.0" r="1.7" fill="#fff" fill-opacity="0.55" stroke="#5a5a5a" stroke-width="1.1"/>
<circle cx="31.5" cy="285.7" r="1.7" fill="#fff" fill-opacity="0.55" stroke="#5a5a5a" stroke-width="1.1"/>
<circle cx="39.7" cy="284.5" r="3.9" fill="#fff" fill-opacity="0.55" stroke="#5a5a5a" stroke-width="1.5"/>
<circle cx="45.3" cy="282.3" r="2.8" fill="#fff" fill-opacity="0.55" stroke="#5a5a5a" stroke-width="1.1"/>
<circle cx="46.7" cy="280.0" r="2.3" fill="#fff" fill-opacity="0.55" stroke="#5a5a5a" stroke-width="1.1"/>
<circle cx="71.5" cy="328.5" r="3.4" fill="#fff" fill-opacity="0.55" stroke="#5a5a5a" stroke-width="1.5"/>
<circle cx="184.6" cy="190.3" r="1.7" fill="#fff" fill-opacity="0.55" stroke="#5a5a5a" stroke-width="1.1"/>
<circle cx="189.1" cy="188.9" r="1.7" fill="#fff" fill-opacity="0.55" stroke="#5a5a5a" stroke-width="1.1"/>
<circle cx="199.8" cy="240.9" r="1.7" fill="#fff" fill-opacity="0.55" stroke="#5a5a5a" stroke-width="1.1"/>
<circle cx="205.2" cy="266.0" r="1.7" fill="#fff" fill-opacity="0.55" stroke="#5a5a5a" stroke-width="1.1"/>
<circle cx="207.1" cy="268.2" r="1.7" fill="#fff" fill-opacity="0.55" stroke="#5a5a5a" stroke-width="1.1"/>
<circle cx="212.8" cy="266.3" r="1.7" fill="#fff" fill-opacity="0.55" stroke="#5a5a5a" stroke-width="1.1"/>
<circle cx="224.0" cy="137.9" r="1.7" fill="#fff" fill-opacity="0.55" stroke="#5a5a5a" stroke-width="1.1"/>
<circle cx="289.3" cy="101.3" r="1.7" fill="#fff" fill-opacity="0.55" stroke="#5a5a5a" stroke-width="1.1"/>
<circle cx="309.0" cy="109.2" r="1.7" fill="#fff" fill-opacity="0.55" stroke="#5a5a5a" stroke-width="1.1"/>
<circle cx="312.7" cy="112.0" r="1.7" fill="#fff" fill-opacity="0.55" stroke="#5a5a5a" stroke-width="1.1"/>
<circle cx="311.3" cy="114.8" r="1.7" fill="#fff" fill-opacity="0.55" stroke="#5a5a5a" stroke-width="1.1"/>
<circle cx="312.7" cy="119.1" r="1.7" fill="#fff" fill-opacity="0.55" stroke="#5a5a5a" stroke-width="1.1"/>
<circle cx="318.3" cy="146.6" r="2.0" fill="#fff" fill-opacity="0.55" stroke="#5a5a5a" stroke-width="1.1"/>
<circle cx="319.7" cy="150.0" r="2.0" fill="#fff" fill-opacity="0.55" stroke="#5a5a5a" stroke-width="1.1"/>
<circle cx="317.8" cy="152.8" r="2.0" fill="#fff" fill-opacity="0.55" stroke="#5a5a5a" stroke-width="1.1"/>
<circle cx="320.6" cy="154.2" r="2.0" fill="#fff" fill-opacity="0.55" stroke="#5a5a5a" stroke-width="1.1"/>
<circle cx="314.1" cy="184.4" r="1.7" fill="#fff" fill-opacity="0.55" stroke="#5a5a5a" stroke-width="1.1"/>
<circle cx="319.2" cy="188.9" r="1.7" fill="#fff" fill-opacity="0.55" stroke="#5a5a5a" stroke-width="1.1"/>
<circle cx="430.1" cy="144.7" r="3.9" fill="#fff" fill-opacity="0.55" stroke="#5a5a5a" stroke-width="1.5"/>
<circle cx="141.7" cy="164.0" r="1.7" fill="#fff" fill-opacity="0.55" stroke="#5a5a5a" stroke-width="1.1"/>
<circle cx="141.5" cy="160.2" r="1.7" fill="#fff" fill-opacity="0.55" stroke="#5a5a5a" stroke-width="1.1"/>
<circle cx="133.7" cy="154.4" r="1.7" fill="#fff" fill-opacity="0.55" stroke="#5a5a5a" stroke-width="1.1"/>
<circle cx="146.5" cy="164.0" r="1.7" fill="#fff" fill-opacity="0.55" stroke="#5a5a5a" stroke-width="1.1"/>
<circle cx="134.0" cy="153.0" r="1.7" fill="#fff" fill-opacity="0.55" stroke="#5a5a5a" stroke-width="1.1"/>
<circle cx="134.4" cy="155.3" r="1.7" fill="#fff" fill-opacity="0.55" stroke="#5a5a5a" stroke-width="1.1"/>
<circle cx="147.9" cy="159.1" r="1.7" fill="#fff" fill-opacity="0.55" stroke="#5a5a5a" stroke-width="1.1"/>
<circle cx="129.1" cy="143.5" r="1.7" fill="#fff" fill-opacity="0.55" stroke="#5a5a5a" stroke-width="1.1"/>
<circle cx="131.1" cy="147.1" r="1.7" fill="#fff" fill-opacity="0.55" stroke="#5a5a5a" stroke-width="1.1"/>
<circle cx="140.8" cy="163.3" r="1.7" fill="#fff" fill-opacity="0.55" stroke="#5a5a5a" stroke-width="1.1"/>
<circle cx="144.4" cy="160.3" r="1.7" fill="#fff" fill-opacity="0.55" stroke="#5a5a5a" stroke-width="1.1"/>
<circle cx="146.6" cy="160.8" r="1.7" fill="#fff" fill-opacity="0.55" stroke="#5a5a5a" stroke-width="1.1"/>
<circle cx="161.4" cy="175.3" r="1.7" fill="#fff" fill-opacity="0.55" stroke="#5a5a5a" stroke-width="1.1"/>
<circle cx="146.4" cy="161.2" r="1.7" fill="#fff" fill-opacity="0.55" stroke="#5a5a5a" stroke-width="1.1"/>
<circle cx="132.1" cy="158.4" r="1.7" fill="#fff" fill-opacity="0.55" stroke="#5a5a5a" stroke-width="1.1"/>
<circle cx="143.1" cy="156.2" r="1.7" fill="#fff" fill-opacity="0.55" stroke="#5a5a5a" stroke-width="1.1"/>
<circle cx="158.8" cy="164.0" r="1.7" fill="#fff" fill-opacity="0.55" stroke="#5a5a5a" stroke-width="1.1"/>
<circle cx="138.4" cy="153.0" r="1.7" fill="#fff" fill-opacity="0.55" stroke="#5a5a5a" stroke-width="1.1"/>
<circle cx="154.9" cy="165.4" r="1.7" fill="#fff" fill-opacity="0.55" stroke="#5a5a5a" stroke-width="1.1"/>
<circle cx="148.9" cy="159.9" r="1.7" fill="#fff" fill-opacity="0.55" stroke="#5a5a5a" stroke-width="1.1"/>
<circle cx="129.1" cy="156.3" r="1.7" fill="#fff" fill-opacity="0.55" stroke="#5a5a5a" stroke-width="1.1"/>
<circle cx="145.8" cy="162.5" r="1.7" fill="#fff" fill-opacity="0.55" stroke="#5a5a5a" stroke-width="1.1"/>
<circle cx="126.7" cy="154.6" r="1.7" fill="#fff" fill-opacity="0.55" stroke="#5a5a5a" stroke-width="1.1"/>
<circle cx="133.9" cy="152.0" r="1.7" fill="#fff" fill-opacity="0.55" stroke="#5a5a5a" stroke-width="1.1"/>
<circle cx="136.1" cy="148.3" r="1.7" fill="#fff" fill-opacity="0.55" stroke="#5a5a5a" stroke-width="1.1"/>
<circle cx="142.6" cy="162.1" r="1.7" fill="#fff" fill-opacity="0.55" stroke="#5a5a5a" stroke-width="1.1"/>
<circle cx="316.1" cy="215.6" r="13.5" fill="#fff" fill-opacity="0.5"/><path d="M312.0 202.7A13.5 13.5 0 1 1 312.0 228.5Z" fill="#484848" fill-opacity="0.84" stroke="#222" stroke-width="0.8"/><circle cx="316.1" cy="215.6" r="13.5" fill="none" stroke="#1a1a1a" stroke-width="1.3"/>
<circle cx="317.5" cy="215.6" r="12.4" fill="#fff" fill-opacity="0.5"/><path d="M312.5 204.2A12.4 12.4 0 1 1 312.5 226.9Z" fill="#484848" fill-opacity="0.84" stroke="#222" stroke-width="0.8"/><circle cx="317.5" cy="215.6" r="12.4" fill="none" stroke="#1a1a1a" stroke-width="1.3"/>
<circle cx="318.9" cy="215.6" r="11.3" fill="#fff" fill-opacity="0.5"/><path d="M313.3 205.8A11.3 11.3 0 1 1 313.3 225.3Z" fill="#484848" fill-opacity="0.84" stroke="#222" stroke-width="0.8"/><circle cx="318.9" cy="215.6" r="11.3" fill="none" stroke="#1a1a1a" stroke-width="1.3"/>
<circle cx="287.4" cy="231.6" r="12.7" fill="#fff" fill-opacity="0.5"/><path d="M278.5 222.6A12.7 12.7 0 1 1 278.5 240.7Z" fill="#484848" fill-opacity="0.84" stroke="#222" stroke-width="0.8"/><circle cx="287.4" cy="231.6" r="12.7" fill="none" stroke="#1a1a1a" stroke-width="1.3"/>
<circle cx="286.0" cy="245.7" r="11.8" fill="#fff" fill-opacity="0.5"/><path d="M281.2 234.9A11.8 11.8 0 1 1 281.2 256.5Z" fill="#484848" fill-opacity="0.84" stroke="#222" stroke-width="0.8"/><circle cx="286.0" cy="245.7" r="11.8" fill="none" stroke="#1a1a1a" stroke-width="1.3"/>
<circle cx="284.5" cy="247.1" r="10.1" fill="#fff" fill-opacity="0.5"/><path d="M281.5 237.4A10.1 10.1 0 1 1 281.5 256.8Z" fill="#484848" fill-opacity="0.84" stroke="#222" stroke-width="0.8"/><circle cx="284.5" cy="247.1" r="10.1" fill="none" stroke="#1a1a1a" stroke-width="1.3"/>
<circle cx="283.7" cy="234.4" r="11.3" fill="#fff" fill-opacity="0.5"/><path d="M279.2 224.1A11.3 11.3 0 1 1 279.2 244.8Z" fill="#484848" fill-opacity="0.84" stroke="#222" stroke-width="0.8"/><circle cx="283.7" cy="234.4" r="11.3" fill="none" stroke="#1a1a1a" stroke-width="1.3"/>
<circle cx="226.9" cy="155.1" r="7.3" fill="#fff" fill-opacity="0.5"/><path d="M226.1 147.8A7.3 7.3 0 1 1 226.1 162.4Z" fill="#484848" fill-opacity="0.84" stroke="#222" stroke-width="0.8"/><circle cx="226.9" cy="155.1" r="7.3" fill="none" stroke="#1a1a1a" stroke-width="1.3"/>
<path d="M288.8 223.8l7.3 7.3l-7.3 7.3l-7.3 -7.3z" fill="#FF1C9C" stroke="#111" stroke-width="1.3"/>
<path d="M288.8 237.8l7.3 7.3l-7.3 7.3l-7.3 -7.3z" fill="#FF1C9C" stroke="#111" stroke-width="1.3"/>
<text x="446.7" y="382.9" font-family="Liberation Sans, Arial, Helvetica, sans-serif" font-size="15.8" fill="#111" text-anchor="end">Ukraine_10000BP_4000BP</text>
</svg>
<svg x="1386.85" y="1657.60" width="455.60" height="394.30" viewBox="0 0 455.60 394.30" overflow="hidden">
<use href="#bm"/>
<circle cx="165.5" cy="130.3" r="7.9" fill="#fff" fill-opacity="0.55" stroke="#5a5a5a" stroke-width="1.5"/>
<circle cx="166.1" cy="131.7" r="6.2" fill="#fff" fill-opacity="0.55" stroke="#5a5a5a" stroke-width="1.5"/>
<circle cx="167.5" cy="130.3" r="4.5" fill="#fff" fill-opacity="0.55" stroke="#5a5a5a" stroke-width="1.5"/>
<circle cx="183.8" cy="140.2" r="7.9" fill="#fff" fill-opacity="0.55" stroke="#5a5a5a" stroke-width="1.5"/>
<circle cx="185.2" cy="141.6" r="5.6" fill="#fff" fill-opacity="0.55" stroke="#5a5a5a" stroke-width="1.5"/>
<circle cx="186.0" cy="144.4" r="6.2" fill="#fff" fill-opacity="0.55" stroke="#5a5a5a" stroke-width="1.5"/>
<circle cx="222.6" cy="137.3" r="5.1" fill="#fff" fill-opacity="0.55" stroke="#5a5a5a" stroke-width="1.5"/>
<circle cx="143.5" cy="162.1" r="5.1" fill="#fff" fill-opacity="0.55" stroke="#5a5a5a" stroke-width="1.5"/>
<circle cx="143.5" cy="162.1" r="2.0" fill="#fff" fill-opacity="0.55" stroke="#5a5a5a" stroke-width="1.1"/>
<circle cx="55.2" cy="199.8" r="1.7" fill="#fff" fill-opacity="0.55" stroke="#5a5a5a" stroke-width="1.1"/>
<circle cx="109.2" cy="220.9" r="1.7" fill="#fff" fill-opacity="0.55" stroke="#5a5a5a" stroke-width="1.1"/>
<circle cx="117.6" cy="246.6" r="1.7" fill="#fff" fill-opacity="0.55" stroke="#5a5a5a" stroke-width="1.1"/>
<circle cx="74.9" cy="256.4" r="1.7" fill="#fff" fill-opacity="0.55" stroke="#5a5a5a" stroke-width="1.1"/>
<circle cx="74.0" cy="262.0" r="1.7" fill="#fff" fill-opacity="0.55" stroke="#5a5a5a" stroke-width="1.1"/>
<circle cx="31.2" cy="285.7" r="1.7" fill="#fff" fill-opacity="0.55" stroke="#5a5a5a" stroke-width="1.1"/>
<circle cx="40.2" cy="284.5" r="1.7" fill="#fff" fill-opacity="0.55" stroke="#5a5a5a" stroke-width="1.1"/>
<circle cx="44.5" cy="282.3" r="1.7" fill="#fff" fill-opacity="0.55" stroke="#5a5a5a" stroke-width="1.1"/>
<circle cx="46.4" cy="279.5" r="1.7" fill="#fff" fill-opacity="0.55" stroke="#5a5a5a" stroke-width="1.1"/>
<circle cx="71.8" cy="328.7" r="1.7" fill="#fff" fill-opacity="0.55" stroke="#5a5a5a" stroke-width="1.1"/>
<circle cx="184.4" cy="190.3" r="1.7" fill="#fff" fill-opacity="0.55" stroke="#5a5a5a" stroke-width="1.1"/>
<circle cx="188.9" cy="188.6" r="1.7" fill="#fff" fill-opacity="0.55" stroke="#5a5a5a" stroke-width="1.1"/>
<circle cx="199.8" cy="240.9" r="1.7" fill="#fff" fill-opacity="0.55" stroke="#5a5a5a" stroke-width="1.1"/>
<circle cx="204.9" cy="266.0" r="1.7" fill="#fff" fill-opacity="0.55" stroke="#5a5a5a" stroke-width="1.1"/>
<circle cx="206.9" cy="268.2" r="1.7" fill="#fff" fill-opacity="0.55" stroke="#5a5a5a" stroke-width="1.1"/>
<circle cx="212.5" cy="266.3" r="1.7" fill="#fff" fill-opacity="0.55" stroke="#5a5a5a" stroke-width="1.1"/>
<circle cx="313.3" cy="214.7" r="1.7" fill="#fff" fill-opacity="0.55" stroke="#5a5a5a" stroke-width="1.1"/>
<circle cx="318.3" cy="215.6" r="1.7" fill="#fff" fill-opacity="0.55" stroke="#5a5a5a" stroke-width="1.1"/>
<circle cx="285.1" cy="231.6" r="1.7" fill="#fff" fill-opacity="0.55" stroke="#5a5a5a" stroke-width="1.1"/>
<circle cx="283.7" cy="235.0" r="1.7" fill="#fff" fill-opacity="0.55" stroke="#5a5a5a" stroke-width="1.1"/>
<circle cx="287.9" cy="233.9" r="1.7" fill="#fff" fill-opacity="0.55" stroke="#5a5a5a" stroke-width="1.1"/>
<circle cx="286.5" cy="237.8" r="1.7" fill="#fff" fill-opacity="0.55" stroke="#5a5a5a" stroke-width="1.1"/>
<circle cx="284.5" cy="240.1" r="1.7" fill="#fff" fill-opacity="0.55" stroke="#5a5a5a" stroke-width="1.1"/>
<circle cx="289.3" cy="236.7" r="1.7" fill="#fff" fill-opacity="0.55" stroke="#5a5a5a" stroke-width="1.1"/>
<circle cx="281.7" cy="246.3" r="1.7" fill="#fff" fill-opacity="0.55" stroke="#5a5a5a" stroke-width="1.1"/>
<circle cx="131.2" cy="159.2" r="1.4" fill="#fff" fill-opacity="0.55" stroke="#5a5a5a" stroke-width="1.1"/>
<circle cx="148.1" cy="171.5" r="1.4" fill="#fff" fill-opacity="0.55" stroke="#5a5a5a" stroke-width="1.1"/>
<circle cx="132.4" cy="157.7" r="1.4" fill="#fff" fill-opacity="0.55" stroke="#5a5a5a" stroke-width="1.1"/>
<circle cx="141.5" cy="169.1" r="1.4" fill="#fff" fill-opacity="0.55" stroke="#5a5a5a" stroke-width="1.1"/>
<circle cx="131.1" cy="156.8" r="1.4" fill="#fff" fill-opacity="0.55" stroke="#5a5a5a" stroke-width="1.1"/>
<circle cx="134.7" cy="150.7" r="1.4" fill="#fff" fill-opacity="0.55" stroke="#5a5a5a" stroke-width="1.1"/>
<circle cx="130.9" cy="147.5" r="1.4" fill="#fff" fill-opacity="0.55" stroke="#5a5a5a" stroke-width="1.1"/>
<circle cx="143.1" cy="161.6" r="1.4" fill="#fff" fill-opacity="0.55" stroke="#5a5a5a" stroke-width="1.1"/>
<circle cx="154.3" cy="171.1" r="1.4" fill="#fff" fill-opacity="0.55" stroke="#5a5a5a" stroke-width="1.1"/>
<circle cx="148.7" cy="163.8" r="1.4" fill="#fff" fill-opacity="0.55" stroke="#5a5a5a" stroke-width="1.1"/>
<circle cx="156.3" cy="166.0" r="1.4" fill="#fff" fill-opacity="0.55" stroke="#5a5a5a" stroke-width="1.1"/>
<circle cx="135.3" cy="158.3" r="1.4" fill="#fff" fill-opacity="0.55" stroke="#5a5a5a" stroke-width="1.1"/>
<circle cx="137.6" cy="157.8" r="1.4" fill="#fff" fill-opacity="0.55" stroke="#5a5a5a" stroke-width="1.1"/>
<circle cx="143.7" cy="157.3" r="1.4" fill="#fff" fill-opacity="0.55" stroke="#5a5a5a" stroke-width="1.1"/>
<circle cx="133.3" cy="146.2" r="1.4" fill="#fff" fill-opacity="0.55" stroke="#5a5a5a" stroke-width="1.1"/>
<circle cx="144.9" cy="168.5" r="1.4" fill="#fff" fill-opacity="0.55" stroke="#5a5a5a" stroke-width="1.1"/>
<circle cx="142.2" cy="158.0" r="1.4" fill="#fff" fill-opacity="0.55" stroke="#5a5a5a" stroke-width="1.1"/>
<circle cx="143.4" cy="161.5" r="1.4" fill="#fff" fill-opacity="0.55" stroke="#5a5a5a" stroke-width="1.1"/>
<circle cx="146.8" cy="162.6" r="1.4" fill="#fff" fill-opacity="0.55" stroke="#5a5a5a" stroke-width="1.1"/>
<circle cx="139.6" cy="151.3" r="1.4" fill="#fff" fill-opacity="0.55" stroke="#5a5a5a" stroke-width="1.1"/>
<circle cx="185.8" cy="23.4" r="11.3" fill="#fff" fill-opacity="0.5"/><path d="M179.5 14.0A11.3 11.3 0 1 1 179.5 32.7Z" fill="#484848" fill-opacity="0.84" stroke="#222" stroke-width="0.8"/><circle cx="185.8" cy="23.4" r="11.3" fill="none" stroke="#1a1a1a" stroke-width="1.3"/>
<circle cx="162.7" cy="39.4" r="11.3" fill="#fff" fill-opacity="0.5"/><path d="M160.4 28.4A11.3 11.3 0 1 1 160.4 50.4Z" fill="#484848" fill-opacity="0.84" stroke="#222" stroke-width="0.8"/><circle cx="162.7" cy="39.4" r="11.3" fill="none" stroke="#1a1a1a" stroke-width="1.3"/>
<circle cx="119.1" cy="135.9" r="11.8" fill="#fff" fill-opacity="0.5"/><path d="M115.5 124.7A11.8 11.8 0 1 1 115.5 147.2Z" fill="#484848" fill-opacity="0.84" stroke="#222" stroke-width="0.8"/><circle cx="119.1" cy="135.9" r="11.8" fill="none" stroke="#1a1a1a" stroke-width="1.3"/>
<circle cx="143.5" cy="134.5" r="9.6" fill="#fff" fill-opacity="0.5"/><path d="M143.5 125.0A9.6 9.6 0 0 1 143.5 144.1Z" fill="#484848" fill-opacity="0.84" stroke="#222" stroke-width="0.8"/><circle cx="143.5" cy="134.5" r="9.6" fill="none" stroke="#1a1a1a" stroke-width="1.3"/>
<circle cx="157.6" cy="137.3" r="7.9" fill="#fff" fill-opacity="0.5"/><path d="M156.8 129.5A7.9 7.9 0 1 1 156.8 145.2Z" fill="#484848" fill-opacity="0.84" stroke="#222" stroke-width="0.8"/><circle cx="157.6" cy="137.3" r="7.9" fill="none" stroke="#1a1a1a" stroke-width="1.3"/>
<circle cx="287.9" cy="101.6" r="12.7" fill="#5b5b5b" fill-opacity="0.92" stroke="#111" stroke-width="1.3"/>
<circle cx="309.0" cy="109.2" r="14.1" fill="#5b5b5b" fill-opacity="0.92" stroke="#111" stroke-width="1.3"/>
<circle cx="311.8" cy="116.2" r="14.1" fill="#5b5b5b" fill-opacity="0.92" stroke="#111" stroke-width="1.3"/>
<circle cx="313.3" cy="119.1" r="13.5" fill="#5b5b5b" fill-opacity="0.92" stroke="#111" stroke-width="1.3"/>
<circle cx="223.2" cy="153.4" r="13.2" fill="#5b5b5b" fill-opacity="0.92" stroke="#111" stroke-width="1.3"/>
<circle cx="303.4" cy="150.6" r="13.5" fill="#5b5b5b" fill-opacity="0.92" stroke="#111" stroke-width="1.3"/>
<circle cx="318.9" cy="148.6" r="14.1" fill="#5b5b5b" fill-opacity="0.92" stroke="#111" stroke-width="1.3"/>
<circle cx="321.7" cy="154.2" r="13.5" fill="#5b5b5b" fill-opacity="0.92" stroke="#111" stroke-width="1.3"/>
<circle cx="316.1" cy="158.5" r="12.9" fill="#5b5b5b" fill-opacity="0.92" stroke="#111" stroke-width="1.3"/>
<circle cx="299.2" cy="151.4" r="12.4" fill="#5b5b5b" fill-opacity="0.92" stroke="#111" stroke-width="1.3"/>
<circle cx="320.3" cy="145.8" r="12.9" fill="#5b5b5b" fill-opacity="0.92" stroke="#111" stroke-width="1.3"/>
<circle cx="313.3" cy="186.6" r="14.1" fill="#5b5b5b" fill-opacity="0.92" stroke="#111" stroke-width="1.3"/>
<circle cx="316.1" cy="189.4" r="13.5" fill="#5b5b5b" fill-opacity="0.92" stroke="#111" stroke-width="1.3"/>
<circle cx="311.8" cy="192.2" r="12.9" fill="#5b5b5b" fill-opacity="0.92" stroke="#111" stroke-width="1.3"/>
<circle cx="318.9" cy="188.0" r="12.9" fill="#5b5b5b" fill-opacity="0.92" stroke="#111" stroke-width="1.3"/>
<circle cx="314.7" cy="193.6" r="12.4" fill="#5b5b5b" fill-opacity="0.92" stroke="#111" stroke-width="1.3"/>
<circle cx="430.1" cy="144.7" r="12.7" fill="#5b5b5b" fill-opacity="0.92" stroke="#111" stroke-width="1.3"/>
<circle cx="428.7" cy="144.7" r="12.7" fill="#5b5b5b" fill-opacity="0.92" stroke="#111" stroke-width="1.3"/>
<circle cx="223.2" cy="153.4" r="7.0" fill="none" stroke="#444" stroke-width="1.2"/>
<circle cx="223.8" cy="154.2" r="3.4" fill="none" stroke="#444" stroke-width="1.2"/>
<path d="M311.0 99.7l7.4 12.3h-14.8z" fill="#D4177A" stroke="#111" stroke-width="1.3"/>
<path d="M313.3 111.5l7.4 12.3h-14.8z" fill="#D4177A" stroke="#111" stroke-width="1.3"/>
<path d="M383.6 161.7l8.0 13.3h-16.0z" fill="#D4177A" stroke="#111" stroke-width="1.3"/>
<path d="M399.4 192.0l8.0 13.3h-16.0z" fill="#D4177A" stroke="#111" stroke-width="1.3"/>
<text x="449.4" y="382.9" font-family="Liberation Sans, Arial, Helvetica, sans-serif" font-size="15.8" fill="#111" text-anchor="end">RussiaNW_11000BP_8000BP</text>
</svg>
<g fill="none" stroke="#555" stroke-width="1.4">
<rect x="15.40" y="1657.60" width="455.60" height="394.30"/>
<rect x="472.55" y="1657.60" width="455.60" height="394.30"/>
<rect x="929.70" y="1657.60" width="455.60" height="394.30"/>
<rect x="1386.85" y="1657.60" width="455.60" height="394.30"/>
</g>
<text x="407.6" y="2101.4" font-family="Liberation Sans, Arial, Helvetica, sans-serif" font-size="22" font-weight="bold" fill="#000">d</text>
<svg x="453.70" y="2122.70" width="476.40" height="393.00" viewBox="0 0 476.40 393.00" overflow="hidden">
<g transform="translate(1.5,-0.4) scale(1.035,1.08)"><use href="#bm"/></g>
<ellipse cx="176.2" cy="151.5" rx="39.6" ry="28.8" fill="#B0206A" fill-opacity="0.11" stroke="#111" stroke-width="1.3" stroke-dasharray="1.2 3.2" transform="rotate(8 176.2 151.5)"/>
<path d="M167.4 44.3L169.7 144.2M167.4 44.3L190.3 153.0M323.0 112.7L169.7 145.6M60.5 219.0L149.1 177.9M149.1 177.9L169.7 145.6" stroke="#8c8c8c" stroke-width="1.1" stroke-opacity="0.75" fill="none"/>
<path d="M142.4 161.8L169.1 144.2M145.6 166.2L175.6 144.2M145.6 166.2L191.7 153.0M152.1 164.7L157.4 151.5M152.1 164.7L191.7 153.0M149.1 172.0L169.1 144.2M149.1 172.0L157.4 151.5M149.1 172.0L175.6 144.2M149.1 172.0L191.7 153.0M143.3 175.0L169.1 144.2M143.3 175.0L157.4 151.5M143.3 175.0L175.6 144.2M135.9 177.9L157.4 151.5M135.9 177.9L191.7 153.0M140.3 180.9L169.1 144.2M140.3 180.9L157.4 151.5M140.3 180.9L175.6 144.2M156.5 176.5L169.1 144.2M156.5 176.5L157.4 151.5M163.8 177.3L169.1 144.2M163.8 177.3L175.6 144.2M163.8 177.3L191.7 153.0M149.1 183.8L169.1 144.2M149.1 183.8L175.6 144.2M145.6 185.3L157.4 151.5M145.6 185.3L175.6 144.2M145.6 185.3L191.7 153.0" stroke="#333" stroke-width="1.0" stroke-opacity="0.35" fill="none"/>
<path d="M124.8 141.5l5.0 5.0l-5.0 5.0l-5.0 -5.0z" fill="#E6CBD9" fill-opacity="0.95"/><path d="M124.8 143.5l3.0 3.0l-3.0 3.0l-3.0 -3.0z" fill="#8E1B5C"/>
<path d="M121.8 148.6l5.0 5.0l-5.0 5.0l-5.0 -5.0z" fill="#E6CBD9" fill-opacity="0.95"/><path d="M121.8 150.6l3.0 3.0l-3.0 3.0l-3.0 -3.0z" fill="#8E1B5C"/>
<path d="M167.4 38.9l5.4 5.4l-5.4 5.4l-5.4 -5.4z" fill="#E6CBD9" fill-opacity="0.95"/><path d="M167.4 40.9l3.4 3.4l-3.4 3.4l-3.4 -3.4z" fill="#8E1B5C"/>
<path d="M323.0 106.9l5.5 9.6h-11.0z" fill="#E6CBD9" fill-opacity="0.95"/><path d="M323.0 109.1l3.4 5.9h-6.8z" fill="#CC1566"/>
<circle cx="193.8" cy="153.8" r="8.3" fill="#EBD3E0" fill-opacity="0.9" stroke="#A0195E" stroke-width="1.2"/>
<circle cx="190.3" cy="159.1" r="8.3" fill="#EBD3E0" fill-opacity="0.9" stroke="#A0195E" stroke-width="1.2"/>
<circle cx="169.1" cy="144.2" r="8.6" fill="#EBD3E0" fill-opacity="0.9"/><circle cx="169.1" cy="144.2" r="7.0" fill="#A0195E"/>
<circle cx="157.4" cy="151.5" r="8.1" fill="#EBD3E0" fill-opacity="0.9"/><circle cx="157.4" cy="151.5" r="6.5" fill="#A0195E"/>
<circle cx="175.6" cy="144.2" r="6.9" fill="#EBD3E0" fill-opacity="0.9"/><circle cx="175.6" cy="144.2" r="5.3" fill="#A0195E"/>
<rect x="189.2" y="147.5" width="5" height="5" fill="#8E1B5C"/>
<rect x="188.3" y="155.5" width="5" height="5" fill="#8E1B5C"/>
<path d="M142.4 156.4l5.3 9.2h-10.6z" fill="#F0714F" stroke="#140a08" stroke-width="2.0" stroke-linejoin="miter"/>
<path d="M145.6 160.8l5.3 9.2h-10.6z" fill="#F0714F" stroke="#140a08" stroke-width="2.0" stroke-linejoin="miter"/>
<path d="M152.1 159.3l5.3 9.2h-10.6z" fill="#F0714F" stroke="#140a08" stroke-width="2.0" stroke-linejoin="miter"/>
<path d="M149.1 166.6l5.3 9.2h-10.6z" fill="#F0714F" stroke="#140a08" stroke-width="2.0" stroke-linejoin="miter"/>
<path d="M143.3 169.6l5.3 9.2h-10.6z" fill="#F0714F" stroke="#140a08" stroke-width="2.0" stroke-linejoin="miter"/>
<path d="M135.9 172.5l5.3 9.2h-10.6z" fill="#F0714F" stroke="#140a08" stroke-width="2.0" stroke-linejoin="miter"/>
<path d="M140.3 175.5l5.3 9.2h-10.6z" fill="#F0714F" stroke="#140a08" stroke-width="2.0" stroke-linejoin="miter"/>
<path d="M156.5 171.1l5.3 9.2h-10.6z" fill="#F0714F" stroke="#140a08" stroke-width="2.0" stroke-linejoin="miter"/>
<path d="M163.8 171.9l5.3 9.2h-10.6z" fill="#F0714F" stroke="#140a08" stroke-width="2.0" stroke-linejoin="miter"/>
<path d="M149.1 178.4l5.3 9.2h-10.6z" fill="#F0714F" stroke="#140a08" stroke-width="2.0" stroke-linejoin="miter"/>
<path d="M145.6 179.9l5.3 9.2h-10.6z" fill="#F0714F" stroke="#140a08" stroke-width="2.0" stroke-linejoin="miter"/>
<path d="M147.1 137.3l5.3 9.2h-10.6z" fill="#F0714F" stroke="#140a08" stroke-width="2.0" stroke-linejoin="miter"/>
<rect x="143.9" y="173.5" width="7.6" height="7.6" fill="#F4B8A8" stroke="#B02060" stroke-width="1.2"/><rect x="145.9" y="175.5" width="3.6" height="3.6" fill="#8E1B5C"/>
<path d="M60.5 213.6l5.4 5.4l-5.4 5.4l-5.4 -5.4z" fill="#F0714F" stroke="#140a08" stroke-width="1.7"/>
<text x="462.7" y="384.9" font-family="Liberation Sans, Arial, Helvetica, sans-serif" font-size="15.6" fill="#111" text-anchor="end">Sweden_10000BP_7500BP</text>
</svg>
<svg x="930.10" y="2122.70" width="477.00" height="393.00" viewBox="0 0 477.00 393.00" overflow="hidden">
<g transform="translate(1.5,-0.4) scale(1.035,1.08)"><use href="#bm"/></g>
<path d="M102.3 161.5Q98.9 153.0 101.4 142.0Q103.9 130.9 110.2 117.7Q116.6 104.5 123.9 88.4Q131.2 72.2 137.6 56.8Q143.9 41.4 152.2 30.1Q160.6 18.8 172.8 13.2Q185.0 7.6 195.2 10.9Q205.5 14.1 208.5 24.1Q211.4 34.1 206.5 47.3Q201.7 60.5 195.4 76.6Q189.1 92.8 183.2 107.5Q177.3 122.1 169.0 137.6Q160.6 153.0 151.8 161.0Q143.0 169.1 132.3 172.8Q121.6 176.5 113.6 173.2Q105.7 170.0 102.3 161.5Z" fill="#B0206A" fill-opacity="0.12" stroke="#111" stroke-width="1.3" stroke-dasharray="1.2 3.2"/>
<path d="M187.6 30.2L304.5 113.3M187.6 30.2L322.7 112.4M187.6 30.2L320.0 128.6M187.6 30.2L330.3 167.1M187.6 30.2L235.5 173.5M187.6 30.2L124.8 146.5M187.6 30.2L147.4 144.2M187.6 30.2L157.7 151.5M187.6 30.2L167.9 144.7M187.6 30.2L192.9 153.8M167.1 44.3L304.5 113.3M167.1 44.3L322.7 112.4M167.1 44.3L320.0 128.6M167.1 44.3L327.4 130.1M167.1 44.3L330.3 167.1M167.1 44.3L235.5 173.5M167.1 44.3L329.4 208.2M167.1 44.3L147.4 144.2M167.1 44.3L157.7 151.5M167.1 44.3L167.9 144.7M167.1 44.3L192.9 153.8" stroke="#555" stroke-width="1.0" stroke-opacity="0.5" fill="none"/>
<path d="M124.8 146.5L304.5 113.3M124.8 146.5L322.7 112.4M124.8 146.5L327.4 130.1M124.8 146.5L320.0 128.6M124.8 146.5L402.2 185.8M124.8 146.5L330.3 167.1M147.4 144.2L304.5 113.3M147.4 144.2L322.7 112.4M147.4 144.2L327.4 130.1M147.4 144.2L402.2 185.8M157.7 151.5L322.7 112.4M157.7 151.5L327.4 130.1M157.7 151.5L320.0 128.6M157.7 151.5L402.2 185.8M157.7 151.5L330.3 167.1M192.9 153.8L402.2 185.8M124.8 151.5L192.9 155.9" stroke="#444" stroke-width="1.3" stroke-opacity="0.42" fill="none"/>
<path d="M120.1 146.4l8.0 8.0l-8.0 8.0l-8.0 -8.0z" fill="#E6CBD9" fill-opacity="0.95"/><path d="M120.1 148.4l6.0 6.0l-6.0 6.0l-6.0 -6.0z" fill="#8E1B5C"/>
<path d="M124.8 136.5l10.0 10.0l-10.0 10.0l-10.0 -10.0z" fill="#E6CBD9" fill-opacity="0.95"/><path d="M124.8 138.5l8.0 8.0l-8.0 8.0l-8.0 -8.0z" fill="#8E1B5C"/>
<path d="M144.5 134.1l8.0 8.0l-8.0 8.0l-8.0 -8.0z" fill="#E6CBD9" fill-opacity="0.95"/><path d="M144.5 136.1l6.0 6.0l-6.0 6.0l-6.0 -6.0z" fill="#8E1B5C"/>
<path d="M167.1 34.9l9.4 9.4l-9.4 9.4l-9.4 -9.4z" fill="#E6CBD9" fill-opacity="0.95"/><path d="M167.1 36.9l7.4 7.4l-7.4 7.4l-7.4 -7.4z" fill="#8E1B5C"/>
<path d="M187.6 20.8l9.4 9.4l-9.4 9.4l-9.4 -9.4z" fill="#E6CBD9" fill-opacity="0.95"/><path d="M187.6 22.8l7.4 7.4l-7.4 7.4l-7.4 -7.4z" fill="#8E1B5C"/>
<path d="M147.4 138.6l5.5 9.5h-11.0z" fill="#F0714F" stroke="#140a08" stroke-width="2.0" stroke-linejoin="miter"/>
<circle cx="157.7" cy="151.5" r="5.2" fill="#EBD3E0" fill-opacity="0.9"/><circle cx="157.7" cy="151.5" r="3.6" fill="#B01868"/>
<circle cx="167.9" cy="144.7" r="5.2" fill="#EBD3E0" fill-opacity="0.9"/><circle cx="167.9" cy="144.7" r="3.6" fill="#B01868"/>
<circle cx="173.8" cy="144.7" r="4.6" fill="#EBD3E0" fill-opacity="0.9"/><circle cx="173.8" cy="144.7" r="3.0" fill="#B01868"/>
<circle cx="192.9" cy="153.8" r="5.2" fill="#EBD3E0" fill-opacity="0.9"/><circle cx="192.9" cy="153.8" r="3.6" fill="#B01868"/>
<circle cx="190.8" cy="157.4" r="4.6" fill="#EBD3E0" fill-opacity="0.9"/><circle cx="190.8" cy="157.4" r="3.0" fill="#B01868"/>
<circle cx="329.4" cy="208.2" r="4.9" fill="#EBD3E0" fill-opacity="0.9"/><circle cx="329.4" cy="208.2" r="3.3" fill="#B01868"/>
<path d="M304.5 107.1l5.9 10.2h-11.8z" fill="#E6CBD9" fill-opacity="0.95"/><path d="M304.5 109.3l3.8 6.6h-7.6z" fill="#C2185B"/>
<path d="M322.7 106.2l5.9 10.2h-11.8z" fill="#E6CBD9" fill-opacity="0.95"/><path d="M322.7 108.4l3.8 6.6h-7.6z" fill="#C2185B"/>
<path d="M327.4 123.9l5.9 10.2h-11.8z" fill="#E6CBD9" fill-opacity="0.95"/><path d="M327.4 126.1l3.8 6.6h-7.6z" fill="#C2185B"/>
<path d="M402.2 179.6l5.9 10.2h-11.8z" fill="#E6CBD9" fill-opacity="0.95"/><path d="M402.2 181.8l3.8 6.6h-7.6z" fill="#C2185B"/>
<path d="M320.0 134.8l5.9 -10.2h-11.8z" fill="#E6CBD9" fill-opacity="0.95"/><path d="M320.0 132.6l3.8 -6.6h-7.6z" fill="#C2185B"/>
<path d="M235.5 179.7l5.9 -10.2h-11.8z" fill="#E6CBD9" fill-opacity="0.95"/><path d="M235.5 177.5l3.8 -6.6h-7.6z" fill="#C2185B"/>
<path d="M330.3 173.3l5.9 -10.2h-11.8z" fill="#E6CBD9" fill-opacity="0.95"/><path d="M330.3 171.1l3.8 -6.6h-7.6z" fill="#C2185B"/>
<path d="M330.9 168.0l5.9 -10.2h-11.8z" fill="#E6CBD9" fill-opacity="0.95"/><path d="M330.9 165.8l3.8 -6.6h-7.6z" fill="#C2185B"/>
<text x="462.7" y="384.9" font-family="Liberation Sans, Arial, Helvetica, sans-serif" font-size="15.6" fill="#111" text-anchor="end">Norway_9300BP_4300BP</text>
</svg>
<g fill="none" stroke="#222" stroke-width="1.8">
<rect x="453.70" y="2122.70" width="476.40" height="393.00"/>
<rect x="930.10" y="2122.70" width="477.00" height="393.00"/>
</g>
</svg>
</body></html>
